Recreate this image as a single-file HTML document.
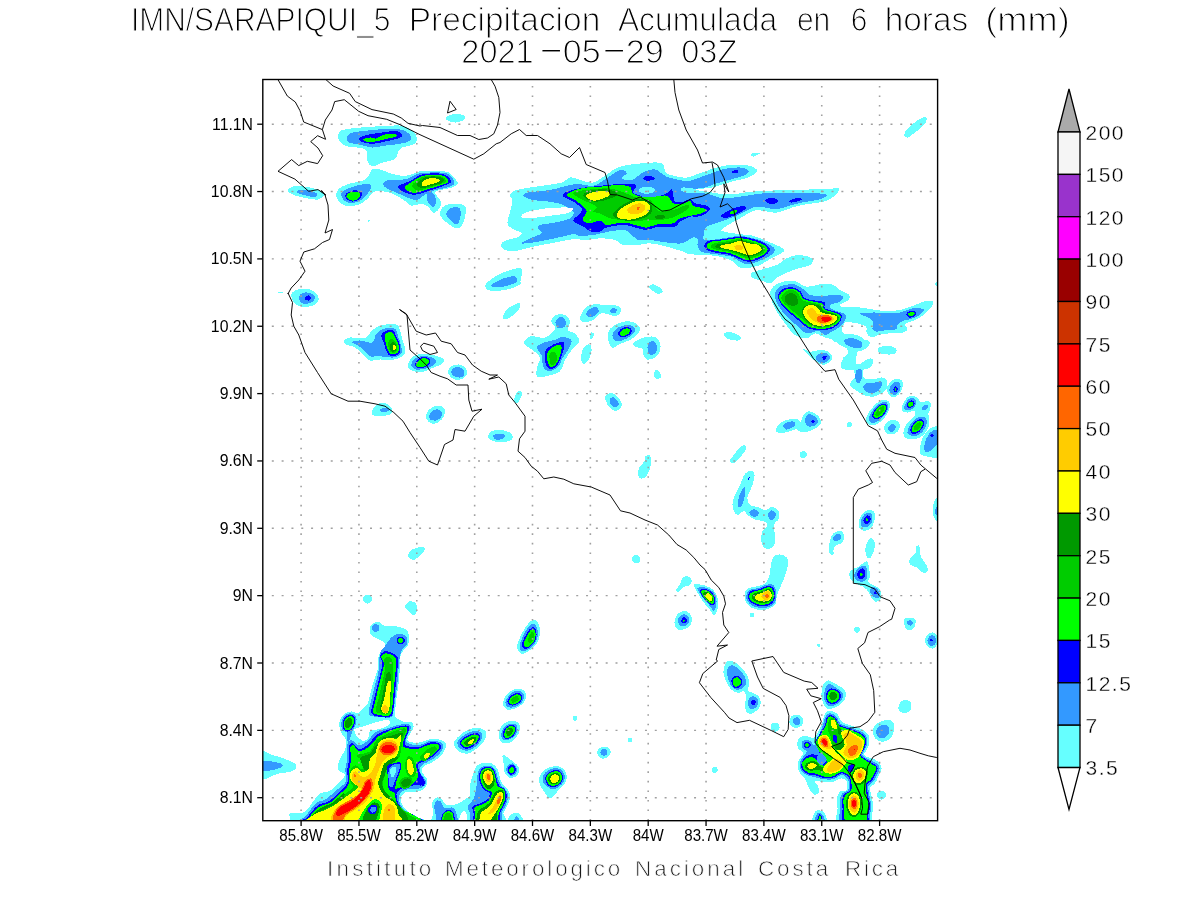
<!DOCTYPE html>
<html lang="es"><head><meta charset="utf-8"><title>IMN/SARAPIQUI_5 Precipitacion Acumulada en 6 horas (mm)</title>
<style>
html,body{margin:0;padding:0;background:#fff;}
body{width:1200px;height:900px;overflow:hidden;}
svg{display:block;}
text{font-family:"Liberation Sans",sans-serif;fill:#000;}
.ttl{font-size:33.6px;stroke:#fff;stroke-width:1.15px;}
.ax{font-size:15.8px;}
.cb{font-size:21px;stroke:#fff;stroke-width:.35px;letter-spacing:1.5px;}
.ft{font-size:22.4px;fill:#1a1a1a;stroke:#fff;stroke-width:.75px;}
</style></head><body>
<svg width="1200" height="900" viewBox="0 0 1200 900">
<rect width="1200" height="900" fill="#fff"/>
<defs><clipPath id="clip"><rect x="262.8" y="79.5" width="674.8" height="741.2"/></clipPath></defs>

<text class="ttl" y="30.7" xml:space="preserve"><tspan x="130.9" textLength="259.4" lengthAdjust="spacingAndGlyphs">IMN/SARAPIQUI_5</tspan> <tspan x="408.7" textLength="191.6" lengthAdjust="spacingAndGlyphs">Precipitacion</tspan> <tspan x="617.9" textLength="159.2" lengthAdjust="spacingAndGlyphs">Acumulada</tspan> <tspan x="796.9" textLength="33.4" lengthAdjust="spacingAndGlyphs">en</tspan> <tspan x="850.7" textLength="16.6" lengthAdjust="spacingAndGlyphs">6</tspan> <tspan x="884.7" textLength="83.6" lengthAdjust="spacingAndGlyphs">horas</tspan> <tspan x="985.3" textLength="84.4" lengthAdjust="spacingAndGlyphs">(mm)</tspan></text>
<text class="ttl" y="62.6" xml:space="preserve"><tspan x="461.3" textLength="72.4" lengthAdjust="spacingAndGlyphs">2021</tspan><tspan x="537.2" dy="-2.4" textLength="27.9" lengthAdjust="spacingAndGlyphs">-</tspan><tspan x="562.8" dy="2.4" textLength="37.9" lengthAdjust="spacingAndGlyphs">05</tspan><tspan x="600.2" dy="-2.4" textLength="27.9" lengthAdjust="spacingAndGlyphs">-</tspan><tspan x="625.7" dy="2.4" textLength="38.1" lengthAdjust="spacingAndGlyphs">29</tspan> <tspan x="681.3" textLength="56.0" lengthAdjust="spacingAndGlyphs">03Z</tspan></text>
<g clip-path="url(#clip)" shape-rendering="crispEdges">
<path d="M338.1,136.2C338.4,134.4 338.4,131.9 341.2,130.6C344.0,129.2 348.5,128.8 355.0,128.1C361.5,127.4 372.5,126.6 380.0,126.2C387.5,125.8 395.0,125.1 400.0,125.6C405.0,126.1 407.3,127.8 410.0,129.4C412.7,131.0 415.2,132.8 416.2,135.0C417.2,137.2 417.2,140.7 416.2,142.5C415.2,144.3 412.7,144.5 410.0,145.6C407.3,146.7 402.5,146.6 400.0,148.8C397.5,151.0 397.9,156.5 395.0,158.8C392.1,161.1 386.2,161.3 382.5,162.5C378.8,163.7 375.0,166.4 372.5,166.2C370.0,166.0 368.4,163.7 367.5,161.2C366.6,158.7 367.9,153.4 366.9,151.2C365.8,149.0 364.6,148.9 361.2,148.1C357.8,147.3 349.8,147.3 346.2,146.2C342.6,145.0 340.8,142.9 339.4,141.2C338.0,139.5 337.8,138.0 338.1,136.2Z" fill="#66ffff"/>
<path d="M336.2,195.0C336.2,192.9 336.7,190.7 338.8,188.8C340.9,186.9 345.1,185.1 348.8,183.8C352.5,182.5 358.1,182.2 361.2,181.2C364.3,180.1 365.6,179.5 367.5,177.5C369.4,175.5 370.4,170.8 372.5,169.4C374.6,168.1 377.1,168.8 380.0,169.4C382.9,170.0 386.7,172.1 390.0,173.1C393.3,174.1 396.7,175.3 400.0,175.6C403.3,175.9 406.7,175.7 410.0,175.0C413.3,174.3 416.2,171.9 420.0,171.2C423.8,170.5 427.9,170.9 432.5,171.0C437.1,171.1 443.8,170.6 447.5,171.9C451.2,173.2 453.3,176.8 455.0,178.8C456.7,180.8 458.3,182.2 457.5,183.8C456.7,185.4 453.6,186.9 450.0,188.1C446.4,189.3 438.5,190.0 436.2,191.2C433.9,192.3 435.5,193.3 436.2,195.0C436.9,196.7 440.0,199.1 440.6,201.2C441.2,203.3 441.1,205.6 440.0,207.5C438.9,209.4 435.7,212.8 433.8,212.8C431.9,212.8 430.7,209.0 428.8,207.5C426.9,206.0 425.4,204.1 422.5,203.8C419.6,203.5 414.3,206.2 411.2,205.6C408.1,205.0 406.9,202.0 403.8,200.0C400.7,198.0 396.1,195.3 392.5,193.8C388.9,192.3 385.6,191.5 382.5,191.2C379.4,190.9 376.5,190.4 373.8,191.9C371.1,193.4 368.9,197.8 366.2,200.0C363.5,202.2 360.8,204.0 357.5,205.0C354.2,206.0 349.3,206.8 346.2,206.2C343.1,205.6 340.5,203.1 338.8,201.2C337.1,199.3 336.2,197.1 336.2,195.0Z" fill="#66ffff"/>
<path d="M440.0,213.8C440.0,211.9 440.8,209.1 442.5,207.5C444.2,205.9 446.9,204.5 450.0,204.0C453.1,203.5 458.6,203.8 461.2,204.4C463.8,205.0 465.0,205.3 465.6,207.5C466.2,209.7 465.7,214.4 465.0,217.5C464.3,220.6 462.7,224.4 461.2,226.2C459.7,228.0 458.1,228.3 456.2,228.1C454.3,227.9 452.3,226.6 450.0,225.0C447.7,223.4 444.2,220.7 442.5,218.8C440.8,216.9 440.0,215.7 440.0,213.8Z" fill="#66ffff"/>
<path d="M367.2,220.8C367.4,220.5 368.6,220.0 369.0,220.0C369.4,220.0 370.0,220.7 369.8,221.0C369.6,221.3 368.4,221.8 368.0,221.8C367.6,221.8 367.0,221.1 367.2,220.8Z" fill="#66ffff"/>
<path d="M445.5,118.0C445.7,117.0 447.8,115.7 450.0,115.0C452.2,114.3 456.3,113.8 458.8,114.0C461.3,114.2 464.2,115.2 465.0,116.2C465.8,117.2 465.3,119.0 463.8,120.0C462.3,121.0 458.7,122.3 456.2,122.5C453.7,122.7 450.6,122.0 448.8,121.2C447.0,120.5 445.3,119.0 445.5,118.0Z" fill="#66ffff"/>
<path d="M288.0,190.5C288.0,189.0 290.6,186.8 293.8,186.2C297.1,185.6 303.1,186.3 307.5,187.0C311.9,187.7 317.3,189.2 320.0,190.5C322.7,191.8 324.2,193.5 323.8,195.0C323.4,196.5 320.6,199.0 317.5,199.5C314.4,200.0 308.9,198.8 305.0,198.0C301.1,197.2 296.6,196.2 293.8,195.0C291.0,193.8 288.0,192.0 288.0,190.5Z" fill="#66ffff"/>
<path d="M500.8,245.0C500.8,243.5 502.4,242.1 505.0,240.8C507.6,239.6 513.9,238.8 516.7,237.5C519.5,236.2 522.5,234.8 521.7,233.3C520.9,231.8 514.1,230.0 511.7,228.3C509.3,226.6 507.8,226.1 507.5,223.3C507.2,220.5 509.2,215.6 510.0,211.7C510.8,207.8 512.5,202.8 512.5,200.0C512.5,197.2 509.3,196.7 510.0,195.0C510.7,193.3 511.4,191.5 516.7,190.0C522.0,188.5 534.2,187.1 541.7,185.8C549.2,184.6 557.0,183.9 561.7,182.5C566.4,181.1 567.2,178.1 570.0,177.5C572.8,176.9 574.4,178.4 578.3,179.2C582.2,180.0 588.3,183.5 593.3,182.5C598.3,181.5 603.8,175.9 608.3,173.3C612.8,170.7 614.4,168.4 620.0,166.7C625.6,165.0 634.8,163.9 641.7,163.3C648.7,162.7 657.5,161.6 661.7,163.3C665.9,165.0 663.1,170.9 666.7,173.3C670.3,175.7 679.4,176.9 683.3,177.5C687.2,178.1 686.1,177.8 690.0,176.7C693.9,175.6 701.2,172.6 706.7,170.8C712.2,169.0 716.9,166.8 723.3,165.8C729.7,164.8 739.7,164.6 745.0,165.0C750.3,165.4 753.0,167.2 755.0,168.3C757.0,169.4 757.8,170.2 756.7,171.7C755.6,173.2 752.5,175.8 748.3,177.5C744.1,179.2 736.4,180.2 731.7,181.7C727.0,183.2 720.6,184.6 720.0,186.7C719.4,188.8 724.1,193.2 728.3,194.2C732.5,195.2 738.9,193.1 745.0,192.5C751.1,191.9 757.5,191.2 765.0,190.8C772.5,190.4 780.3,190.3 790.0,190.0C799.7,189.7 815.1,189.4 823.3,189.2C831.5,189.0 837.5,187.4 839.2,188.7C840.9,189.9 835.9,194.5 833.3,196.7C830.6,198.9 829.1,200.2 823.3,201.7C817.5,203.2 806.1,204.0 798.3,205.8C790.5,207.6 782.5,211.7 776.7,212.5C770.9,213.3 767.2,211.1 763.3,210.8C759.4,210.5 757.2,209.6 753.3,210.8C749.4,212.1 744.2,215.9 740.0,218.3C735.8,220.7 731.3,222.9 728.3,225.0C725.2,227.1 719.8,229.3 721.7,230.8C723.7,232.3 734.7,233.4 740.0,234.2C745.3,235.0 748.6,234.6 753.3,235.8C758.0,237.1 763.8,239.9 768.3,241.7C772.8,243.5 777.4,245.2 780.0,246.7C782.6,248.2 784.8,249.3 784.2,250.8C783.7,252.3 779.4,254.3 776.7,255.8C774.1,257.3 771.1,258.5 768.3,260.0C765.5,261.5 763.6,263.6 760.0,265.0C756.4,266.4 750.3,268.0 746.7,268.3C743.1,268.6 740.8,267.9 738.3,266.7C735.8,265.4 734.8,262.5 731.7,260.8C728.7,259.1 724.2,257.7 720.0,256.7C715.8,255.7 711.7,255.4 706.7,255.0C701.7,254.6 693.9,254.8 690.0,254.2C686.1,253.6 687.2,252.9 683.3,251.7C679.4,250.4 672.2,248.1 666.7,246.7C661.2,245.3 654.7,243.6 650.0,243.3C645.3,243.0 642.8,244.7 638.3,245.0C633.8,245.3 627.2,245.8 623.3,245.0C619.4,244.2 618.9,241.1 615.0,240.0C611.1,238.9 604.7,238.3 600.0,238.3C595.3,238.3 591.2,239.8 586.7,240.0C582.2,240.2 578.6,238.8 573.3,239.2C568.0,239.6 561.7,241.2 555.0,242.5C548.3,243.8 539.7,245.3 533.3,246.7C526.9,248.1 521.4,250.2 516.7,250.8C512.0,251.4 507.6,251.0 505.0,250.0C502.4,249.0 500.8,246.5 500.8,245.0Z" fill="#66ffff"/>
<path d="M750.8,154.2C751.0,153.5 752.7,153.0 754.2,152.8C755.7,152.6 759.6,152.4 760.0,152.8C760.4,153.2 757.9,154.7 756.7,155.3C755.5,156.0 754.0,156.9 753.0,156.7C752.0,156.5 750.6,154.8 750.8,154.2Z" fill="#66ffff"/>
<path d="M750.8,273.3C751.9,271.9 755.7,271.4 760.0,270.0C764.3,268.6 772.2,266.9 776.7,265.0C781.2,263.1 783.1,260.0 786.7,258.3C790.3,256.6 794.1,255.0 798.3,255.0C802.5,255.0 809.8,256.6 811.7,258.3C813.7,260.0 813.1,263.1 810.0,265.0C806.9,266.9 798.6,268.1 793.3,270.0C788.0,271.9 782.2,274.5 778.3,276.7C774.4,278.9 773.0,282.8 770.0,283.3C767.0,283.9 762.8,280.8 760.0,280.0C757.2,279.2 754.8,279.4 753.3,278.3C751.8,277.2 749.7,274.7 750.8,273.3Z" fill="#66ffff"/>
<path d="M770.8,290.0C771.9,287.2 774.5,284.8 778.3,283.3C782.0,281.8 788.6,280.2 793.3,280.8C798.0,281.4 802.2,286.1 806.7,286.7C811.2,287.3 815.8,284.6 820.0,284.2C824.2,283.8 828.4,283.2 831.7,284.2C835.0,285.2 837.1,288.2 840.0,290.0C842.9,291.8 847.8,293.3 849.2,295.0C850.6,296.7 849.8,298.3 848.3,300.0C846.8,301.7 840.3,303.3 840.0,305.0C839.7,306.7 846.2,308.6 846.7,310.0C847.2,311.4 843.4,311.9 843.3,313.3C843.1,314.7 845.9,316.1 845.8,318.3C845.7,320.5 844.6,323.9 842.5,326.7C840.4,329.5 836.5,333.3 833.3,335.0C830.1,336.7 826.3,337.0 823.3,336.7C820.2,336.4 817.8,333.0 815.0,333.3C812.2,333.6 810.0,338.0 806.7,338.3C803.4,338.6 798.6,337.5 795.0,335.0C791.4,332.5 788.2,327.5 785.0,323.3C781.8,319.1 778.0,313.9 775.8,310.0C773.6,306.1 772.5,303.3 771.7,300.0C770.9,296.7 769.7,292.8 770.8,290.0Z" fill="#66ffff"/>
<path d="M840.0,308.3C843.0,306.2 853.0,307.1 860.0,307.5C867.0,307.9 875.0,310.4 881.7,310.8C888.4,311.2 894.5,311.0 900.0,310.0C905.5,309.0 911.1,306.4 915.0,305.0C918.9,303.6 920.4,302.4 923.3,301.7C926.2,301.0 931.1,300.0 932.5,300.8C933.9,301.6 933.2,304.3 931.7,306.7C930.2,309.1 926.1,312.8 923.3,315.0C920.5,317.2 918.0,318.5 915.0,320.0C912.0,321.5 906.2,322.7 905.0,324.2C903.8,325.7 907.8,327.8 907.5,329.2C907.2,330.6 906.2,331.8 903.3,332.5C900.4,333.2 894.2,332.9 890.0,333.3C885.8,333.7 881.3,334.3 878.3,335.0C875.2,335.7 873.6,337.8 871.7,337.5C869.8,337.2 867.7,335.1 866.7,333.3C865.7,331.5 867.5,328.4 865.8,326.7C864.1,325.0 859.9,324.1 856.7,323.3C853.5,322.5 849.2,322.2 846.7,321.7C844.2,321.1 842.8,322.2 841.7,320.0C840.6,317.8 837.0,310.4 840.0,308.3Z" fill="#66ffff"/>
<path d="M823.3,336.7C823.3,335.9 830.2,336.7 833.3,335.0C836.4,333.3 840.0,327.0 841.7,326.7C843.4,326.4 840.8,331.9 843.3,333.3C845.8,334.7 853.1,333.9 856.7,335.0C860.3,336.1 863.2,338.3 865.0,340.0C866.8,341.7 867.8,343.3 867.5,345.0C867.2,346.7 865.4,348.9 863.3,350.0C861.2,351.1 856.1,350.3 855.0,351.7C853.9,353.1 855.6,356.4 856.7,358.3C857.8,360.2 859.5,363.3 861.7,363.3C863.9,363.3 868.1,358.6 870.0,358.3C871.9,358.0 873.8,359.9 873.3,361.7C872.8,363.5 871.7,367.9 866.7,369.2C861.7,370.4 847.5,370.4 843.3,369.2C839.1,367.9 841.1,364.1 841.7,361.7C842.3,359.3 845.0,356.7 846.7,355.0C848.4,353.3 851.7,352.8 851.7,351.7C851.7,350.6 848.7,349.4 846.7,348.3C844.8,347.2 842.2,346.4 840.0,345.0C837.8,343.6 836.1,341.4 833.3,340.0C830.5,338.6 823.3,337.5 823.3,336.7Z" fill="#66ffff"/>
<path d="M877.5,349.2C878.2,348.1 880.7,346.2 883.3,345.8C885.9,345.4 891.1,345.9 893.3,346.7C895.5,347.5 896.7,349.6 896.7,350.8C896.7,352.1 895.5,353.6 893.3,354.2C891.1,354.8 885.6,354.5 883.3,354.2C880.9,353.9 880.2,353.3 879.2,352.5C878.2,351.7 876.8,350.3 877.5,349.2Z" fill="#66ffff"/>
<path d="M802.5,348.3C803.0,348.0 807.1,351.4 810.0,351.7C812.9,352.0 817.0,350.0 820.0,350.0C823.0,350.0 826.2,350.6 828.3,351.7C830.4,352.8 832.2,355.0 832.5,356.7C832.8,358.4 831.5,360.3 830.0,361.7C828.5,363.1 825.5,365.0 823.3,365.0C821.1,365.0 818.6,362.8 816.7,361.7C814.8,360.6 813.4,359.7 811.7,358.3C810.0,356.9 808.2,355.0 806.7,353.3C805.2,351.6 802.0,348.6 802.5,348.3Z" fill="#66ffff"/>
<path d="M935.3,283.0C935.6,282.4 937.1,281.4 937.5,282.0C937.9,282.6 937.8,285.7 937.5,286.3C937.2,286.9 936.2,286.4 935.8,285.8C935.4,285.2 935.0,283.6 935.3,283.0Z" fill="#66ffff"/>
<path d="M904.2,134.2C904.3,132.7 906.2,130.5 908.3,128.3C910.4,126.1 914.1,122.7 916.7,120.8C919.4,118.9 922.5,117.5 924.2,117.2C925.9,116.9 927.1,117.8 927.0,119.2C926.9,120.6 925.3,123.6 923.3,125.8C921.3,128.0 917.6,130.6 915.0,132.5C912.4,134.4 909.3,137.2 907.5,137.5C905.7,137.8 904.1,135.7 904.2,134.2Z" fill="#66ffff"/>
<path d="M291.2,295.0C291.4,292.7 293.5,291.0 296.2,290.0C298.9,289.0 304.3,288.4 307.5,288.8C310.7,289.2 313.6,290.8 315.5,292.5C317.4,294.2 318.9,296.8 318.8,298.8C318.7,300.8 317.5,303.1 315.0,304.5C312.5,305.9 307.1,307.1 303.8,307.0C300.5,306.9 297.1,305.8 295.0,303.8C292.9,301.8 291.0,297.3 291.2,295.0Z" fill="#66ffff"/>
<path d="M278.0,291.8C278.8,291.6 282.2,291.6 283.0,291.8C283.8,292.0 283.8,292.6 283.0,292.8C282.2,293.0 278.8,293.0 278.0,292.8C277.2,292.6 277.2,292.0 278.0,291.8Z" fill="#66ffff"/>
<path d="M343.8,341.2C344.4,340.0 346.5,338.0 350.0,337.5C353.5,337.0 361.2,339.2 365.0,338.0C368.8,336.8 369.6,332.2 372.5,330.0C375.4,327.8 378.6,325.9 382.5,325.0C386.4,324.1 393.3,323.7 396.2,324.5C399.1,325.3 398.9,327.4 400.0,330.0C401.1,332.6 401.6,336.7 402.5,340.0C403.4,343.3 405.5,347.3 405.5,350.0C405.5,352.7 404.7,354.5 402.5,356.2C400.3,357.9 396.2,359.4 392.5,360.0C388.8,360.6 383.8,359.4 380.0,359.5C376.2,359.6 372.7,361.2 370.0,360.5C367.3,359.8 366.3,357.2 363.8,355.0C361.3,352.8 357.9,349.2 355.0,347.5C352.1,345.8 348.1,345.6 346.2,344.5C344.3,343.4 343.2,342.4 343.8,341.2Z" fill="#66ffff"/>
<path d="M408.0,365.0C408.3,363.2 409.2,359.9 411.2,358.0C413.2,356.1 416.9,354.4 420.0,353.8C423.1,353.2 426.7,354.0 430.0,354.5C433.3,355.0 437.6,356.0 440.0,357.0C442.4,358.0 444.5,359.2 444.5,360.5C444.5,361.8 442.4,363.6 440.0,365.0C437.6,366.4 432.9,367.6 430.0,368.8C427.1,370.0 425.2,371.6 422.5,372.0C419.8,372.4 416.0,371.7 413.8,371.2C411.6,370.7 410.5,369.8 409.5,368.8C408.5,367.8 407.7,366.8 408.0,365.0Z" fill="#66ffff"/>
<path d="M448.0,371.2C448.2,369.5 449.4,367.3 451.2,366.2C453.0,365.1 456.5,364.3 458.8,364.5C461.1,364.7 463.6,365.9 465.0,367.5C466.4,369.1 467.4,371.9 467.0,373.8C466.6,375.7 464.5,377.9 462.5,378.8C460.5,379.8 457.1,379.9 455.0,379.5C452.9,379.1 451.2,377.6 450.0,376.2C448.8,374.8 447.8,372.9 448.0,371.2Z" fill="#66ffff"/>
<path d="M371.8,412.5C372.0,410.9 373.2,407.9 375.0,406.2C376.8,404.5 380.2,402.7 382.5,402.5C384.8,402.3 387.1,403.6 388.8,405.0C390.5,406.4 392.5,409.5 392.5,411.2C392.5,412.9 390.9,414.2 388.8,415.0C386.7,415.8 382.5,416.1 380.0,416.2C377.5,416.3 375.2,416.1 373.8,415.5C372.4,414.9 371.6,414.1 371.8,412.5Z" fill="#66ffff"/>
<path d="M426.0,416.2C426.1,414.3 427.1,411.7 428.8,410.0C430.5,408.3 433.8,406.3 436.2,405.8C438.6,405.3 441.5,405.9 443.0,407.0C444.5,408.1 445.3,410.3 445.0,412.5C444.7,414.7 443.1,418.1 441.2,420.0C439.3,421.9 436.0,423.6 433.8,423.8C431.6,424.0 429.3,422.5 428.0,421.2C426.7,419.9 425.9,418.1 426.0,416.2Z" fill="#66ffff"/>
<path d="M488.0,436.2C488.1,434.7 489.2,432.2 491.2,431.2C493.2,430.2 497.1,429.9 500.0,430.0C502.9,430.1 506.6,430.8 508.8,432.0C511.0,433.2 513.0,435.5 513.0,437.0C513.0,438.5 511.4,440.4 508.8,441.2C506.2,442.0 500.6,442.2 497.5,442.0C494.4,441.8 492.1,441.0 490.5,440.0C488.9,439.0 487.9,437.7 488.0,436.2Z" fill="#66ffff"/>
<path d="M513.8,401.2C513.7,399.7 515.2,395.5 516.2,393.8C517.2,392.1 519.0,390.8 520.0,390.8C521.0,390.8 522.0,392.4 522.0,393.8C522.0,395.2 520.8,398.0 520.0,399.5C519.2,401.0 518.0,402.7 517.0,403.0C516.0,403.3 513.9,402.7 513.8,401.2Z" fill="#66ffff"/>
<path d="M503.0,316.2C503.4,314.7 504.4,311.9 506.2,310.0C508.0,308.1 511.6,306.2 513.8,305.0C516.0,303.8 518.5,302.6 519.5,303.0C520.5,303.4 520.8,305.7 520.0,307.5C519.2,309.3 517.1,311.9 515.0,313.8C512.9,315.7 509.4,318.0 507.5,318.8C505.6,319.6 504.6,319.2 503.8,318.8C503.1,318.4 502.6,317.7 503.0,316.2Z" fill="#66ffff"/>
<path d="M486.2,283.8C488.3,281.2 494.6,276.4 500.0,273.8C505.4,271.2 515.1,268.2 518.8,268.0C522.5,267.8 521.7,270.3 522.0,272.5C522.3,274.7 520.8,279.2 520.5,281.2C520.2,283.2 521.8,283.2 520.0,284.5C518.2,285.8 514.2,287.7 510.0,288.8C505.8,289.9 498.8,291.1 495.0,291.2C491.2,291.3 489.0,290.7 487.5,289.5C486.0,288.3 484.1,286.4 486.2,283.8Z" fill="#66ffff"/>
<path d="M523.8,343.0C523.6,340.7 527.9,337.0 531.2,336.2C534.5,335.4 540.2,338.6 543.8,338.0C547.3,337.4 550.6,334.2 552.5,332.5C554.4,330.8 555.2,329.4 555.0,327.5C554.8,325.6 551.0,323.3 551.2,321.2C551.4,319.1 553.9,316.0 556.2,315.0C558.5,314.0 562.7,314.0 565.0,315.0C567.3,316.0 569.5,318.7 570.0,321.2C570.5,323.7 567.2,327.9 568.0,330.0C568.8,332.1 573.1,331.9 575.0,333.8C576.9,335.7 579.9,338.7 579.5,341.2C579.1,343.7 574.9,345.7 572.5,348.8C570.1,351.9 567.1,356.3 565.0,360.0C562.9,363.7 562.7,368.6 560.0,371.2C557.3,373.8 552.5,374.5 548.8,375.5C545.0,376.5 539.5,378.3 537.5,377.0C535.5,375.7 536.6,370.8 537.0,367.5C537.4,364.2 540.8,360.4 540.0,357.5C539.2,354.6 535.2,352.4 532.5,350.0C529.8,347.6 524.0,345.3 523.8,343.0Z" fill="#66ffff"/>
<path d="M580.0,317.5C580.4,315.6 582.1,312.1 583.8,310.0C585.5,307.9 587.3,305.9 590.0,305.0C592.7,304.1 596.2,304.5 600.0,304.5C603.8,304.5 609.2,304.6 612.5,305.0C615.8,305.4 618.7,305.8 620.0,307.0C621.3,308.2 621.3,311.0 620.5,312.5C619.7,314.0 617.2,316.0 615.0,316.2C612.8,316.4 610.0,314.2 607.5,313.8C605.0,313.4 602.1,313.0 600.0,313.8C597.9,314.6 597.1,317.4 595.0,318.8C592.9,320.2 589.8,321.6 587.5,322.0C585.2,322.4 582.5,321.9 581.2,321.2C580.0,320.4 579.6,319.4 580.0,317.5Z" fill="#66ffff"/>
<path d="M608.0,336.2C608.2,333.9 608.4,330.9 610.0,328.8C611.6,326.7 614.8,325.1 617.5,323.8C620.2,322.5 623.3,321.3 626.2,321.2C629.1,321.1 632.6,321.7 635.0,323.0C637.4,324.3 640.3,326.8 640.5,328.8C640.7,330.8 638.0,333.1 636.2,335.0C634.5,336.9 632.7,338.5 630.0,340.0C627.3,341.5 622.9,342.5 620.0,343.8C617.1,345.1 614.4,348.2 612.5,348.0C610.6,347.8 609.5,344.5 608.8,342.5C608.0,340.5 607.8,338.5 608.0,336.2Z" fill="#66ffff"/>
<path d="M633.0,343.8C633.2,342.6 635.3,341.1 637.5,340.0C639.7,338.9 643.3,337.5 646.2,337.0C649.1,336.5 652.7,336.1 655.0,337.0C657.3,337.9 659.2,340.1 660.0,342.5C660.8,344.9 660.8,348.7 660.0,351.2C659.2,353.7 657.1,356.1 655.0,357.5C652.9,358.9 649.5,360.1 647.5,359.5C645.5,358.9 643.8,355.6 643.0,353.8C642.2,352.0 643.6,349.9 642.5,348.8C641.4,347.7 637.8,347.8 636.2,347.0C634.6,346.2 632.8,345.0 633.0,343.8Z" fill="#66ffff"/>
<path d="M581.2,360.0C581.0,357.7 581.5,352.6 582.5,350.0C583.5,347.4 586.0,345.1 587.5,344.5C589.0,343.9 590.6,344.6 591.2,346.2C591.8,347.8 591.8,351.3 591.2,353.8C590.6,356.3 588.7,359.5 587.5,361.2C586.3,362.9 584.8,364.0 583.8,363.8C582.8,363.6 581.4,362.3 581.2,360.0Z" fill="#66ffff"/>
<path d="M589.5,336.2C589.6,335.1 590.5,332.9 591.2,332.5C591.9,332.1 593.5,332.9 593.8,333.8C594.1,334.7 593.5,337.1 593.0,338.0C592.5,338.9 591.1,339.3 590.5,339.0C589.9,338.7 589.4,337.3 589.5,336.2Z" fill="#66ffff"/>
<path d="M653.8,375.0C653.8,373.8 654.2,371.1 655.0,370.5C655.8,369.9 657.8,370.2 658.8,371.2C659.8,372.1 661.2,374.9 661.2,376.2C661.2,377.5 659.8,378.5 658.8,378.8C657.8,379.1 655.8,378.6 655.0,378.0C654.2,377.4 653.8,376.2 653.8,375.0Z" fill="#66ffff"/>
<path d="M648.8,286.2C649.0,285.2 651.7,284.1 653.8,284.5C655.9,284.9 659.8,287.5 661.2,288.8C662.7,290.1 663.1,291.7 662.5,292.5C661.9,293.3 659.2,294.1 657.5,293.8C655.8,293.5 654.0,291.8 652.5,290.5C651.0,289.2 648.6,287.2 648.8,286.2Z" fill="#66ffff"/>
<path d="M723.8,333.8C724.4,333.0 726.5,331.9 728.8,332.0C731.1,332.1 735.4,333.5 737.5,334.5C739.6,335.5 741.2,337.0 741.2,338.0C741.2,339.0 739.4,340.2 737.5,340.5C735.6,340.8 732.1,340.1 730.0,339.5C727.9,338.9 726.0,337.9 725.0,337.0C724.0,336.1 723.2,334.6 723.8,333.8Z" fill="#66ffff"/>
<path d="M605.0,397.5C605.0,395.7 606.0,394.4 607.5,393.8C609.0,393.2 611.8,393.0 613.8,393.8C615.8,394.6 618.1,396.9 619.5,398.8C620.9,400.7 622.1,403.1 622.0,405.0C621.9,406.9 620.4,409.2 618.8,410.0C617.2,410.8 614.4,410.9 612.5,410.0C610.6,409.1 608.8,406.6 607.5,404.5C606.2,402.4 605.0,399.3 605.0,397.5Z" fill="#66ffff"/>
<path d="M638.0,475.0C637.7,473.1 638.4,469.8 639.5,467.5C640.6,465.2 643.5,463.1 644.5,461.2C645.5,459.3 644.7,457.1 645.5,456.2C646.3,455.2 648.5,454.9 649.5,455.5C650.5,456.1 651.2,457.6 651.2,460.0C651.2,462.4 650.3,467.3 649.5,470.0C648.7,472.7 647.6,474.7 646.2,476.2C644.8,477.7 642.6,479.0 641.2,478.8C639.8,478.6 638.3,476.9 638.0,475.0Z" fill="#66ffff"/>
<path d="M730.0,460.0C730.4,458.8 732.1,457.1 733.8,455.0C735.5,452.9 738.1,449.2 740.0,447.5C741.9,445.8 744.1,444.6 745.0,445.0C745.9,445.4 746.3,447.9 745.5,450.0C744.7,452.1 741.8,455.4 740.0,457.5C738.2,459.6 736.5,461.7 735.0,462.5C733.5,463.3 732.0,462.9 731.2,462.5C730.4,462.1 729.6,461.2 730.0,460.0Z" fill="#66ffff"/>
<path d="M776.2,430.0C776.6,428.8 778.3,426.6 780.0,425.0C781.7,423.4 784.1,421.5 786.2,420.5C788.3,419.5 790.4,418.9 792.5,418.8C794.6,418.7 797.5,419.0 798.8,420.0C800.0,421.0 800.8,423.3 800.0,425.0C799.2,426.7 796.7,428.7 793.8,430.0C790.9,431.3 785.2,432.6 782.5,433.0C779.8,433.4 778.5,433.0 777.5,432.5C776.5,432.0 775.8,431.2 776.2,430.0Z" fill="#66ffff"/>
<path d="M834.2,340.0C838.9,339.4 861.0,338.9 866.7,340.0C872.4,341.1 868.9,345.0 868.3,346.7C867.7,348.4 865.2,349.0 863.3,350.0C861.4,351.0 857.2,351.2 856.7,352.5C856.2,353.8 858.1,356.5 860.0,357.5C861.9,358.5 866.2,357.9 868.3,358.3C870.4,358.7 872.2,358.9 872.5,360.0C872.8,361.1 871.5,363.6 870.0,365.0C868.5,366.4 864.3,366.1 863.3,368.3C862.3,370.5 862.5,376.5 864.2,378.3C865.9,380.1 870.4,379.3 873.3,379.2C876.2,379.1 879.5,377.4 881.7,377.5C883.9,377.6 885.9,378.2 886.7,380.0C887.5,381.8 887.5,386.1 886.7,388.3C885.9,390.5 883.9,391.9 881.7,393.3C879.5,394.7 876.4,396.4 873.3,396.7C870.2,397.0 866.1,396.0 863.3,395.0C860.5,394.0 858.8,392.2 856.7,390.8C854.6,389.4 851.8,388.2 850.8,386.7C849.8,385.2 850.1,383.4 850.8,381.7C851.5,380.0 854.6,378.6 855.0,376.7C855.4,374.8 854.7,371.5 853.3,370.0C851.9,368.5 848.5,368.6 846.7,367.5C844.9,366.4 843.1,365.0 842.5,363.3C841.9,361.6 842.3,359.0 843.3,357.5C844.3,356.0 847.7,355.7 848.3,354.2C848.9,352.7 848.4,350.1 846.7,348.3C845.0,346.5 840.4,344.7 838.3,343.3C836.2,341.9 829.5,340.6 834.2,340.0Z" fill="#66ffff"/>
<path d="M886.7,390.0C886.6,387.9 887.8,385.1 889.2,383.3C890.6,381.5 893.1,379.8 895.0,379.2C896.9,378.6 899.5,378.9 900.8,379.7C902.1,380.5 903.0,382.2 903.0,384.2C903.0,386.2 902.0,389.6 900.8,391.7C899.6,393.8 897.6,396.0 895.8,396.7C894.0,397.4 891.5,396.9 890.0,395.8C888.5,394.7 886.8,392.1 886.7,390.0Z" fill="#66ffff"/>
<path d="M865.8,420.0C865.5,418.1 867.0,415.5 868.3,413.3C869.5,411.1 871.3,408.8 873.3,406.7C875.2,404.6 877.8,401.9 880.0,400.8C882.2,399.7 885.0,399.4 886.7,400.0C888.4,400.6 889.7,402.2 890.0,404.2C890.3,406.1 889.4,409.2 888.3,411.7C887.2,414.2 885.2,417.1 883.3,419.2C881.4,421.3 878.9,423.2 876.7,424.2C874.5,425.2 871.8,425.7 870.0,425.0C868.2,424.3 866.1,421.9 865.8,420.0Z" fill="#66ffff"/>
<path d="M901.7,408.3C901.9,406.6 903.1,403.6 904.2,401.7C905.3,399.8 906.6,397.7 908.3,396.7C910.0,395.7 912.5,395.4 914.2,395.8C915.9,396.2 917.0,398.1 918.3,399.2C919.5,400.3 920.2,402.2 921.7,402.5C923.2,402.8 926.0,400.7 927.5,400.8C929.0,400.9 930.4,401.9 930.8,403.3C931.2,404.7 930.4,407.4 930.0,409.2C929.6,411.0 928.4,412.8 928.3,414.2C928.2,415.6 929.1,415.7 929.2,417.5C929.4,419.3 929.9,422.4 929.2,425.0C928.5,427.6 926.8,431.1 925.0,433.3C923.2,435.5 920.8,437.3 918.3,438.3C915.8,439.3 912.2,439.3 910.0,439.2C907.8,439.1 906.1,438.5 905.0,437.5C903.9,436.5 903.3,435.1 903.3,433.3C903.3,431.5 903.9,428.9 905.0,426.7C906.1,424.5 908.3,421.9 910.0,420.0C911.7,418.1 914.3,416.5 915.0,415.0C915.7,413.5 915.3,411.2 914.2,410.8C913.1,410.4 910.1,412.4 908.3,412.5C906.5,412.6 904.4,412.4 903.3,411.7C902.2,411.0 901.6,410.0 901.7,408.3Z" fill="#66ffff"/>
<path d="M884.2,429.2C883.9,427.5 884.7,424.8 885.8,423.3C886.9,421.8 889.0,420.4 890.8,420.0C892.6,419.6 895.2,420.0 896.7,420.8C898.2,421.6 899.7,423.3 900.0,425.0C900.3,426.7 899.4,429.3 898.3,430.8C897.2,432.3 895.1,433.7 893.3,434.2C891.5,434.7 889.0,434.5 887.5,433.7C886.0,432.9 884.5,430.9 884.2,429.2Z" fill="#66ffff"/>
<path d="M919.7,451.7C919.6,449.8 920.0,446.1 920.8,443.3C921.5,440.5 922.8,437.4 924.2,435.0C925.6,432.6 927.4,430.6 929.2,429.2C931.0,427.8 933.2,427.0 935.0,426.7C936.8,426.4 939.2,422.6 940.0,427.5C940.8,432.4 942.0,450.9 940.0,455.8C938.0,460.7 931.3,456.8 928.3,456.7C925.2,456.6 923.1,455.8 921.7,455.0C920.3,454.2 919.9,453.6 919.7,451.7Z" fill="#66ffff"/>
<path d="M775.8,429.2C776.2,427.9 777.7,425.7 779.2,424.2C780.7,422.7 782.9,421.1 785.0,420.3C787.1,419.6 789.9,419.3 791.7,419.7C793.5,420.1 794.3,422.2 795.8,422.5C797.3,422.8 799.5,422.9 800.8,421.7C802.0,420.4 802.0,416.7 803.3,415.0C804.5,413.3 806.3,411.6 808.3,411.3C810.2,411.0 813.0,412.1 815.0,413.3C817.0,414.5 819.0,416.6 820.0,418.3C821.0,420.0 821.3,421.8 820.8,423.3C820.2,424.8 818.5,426.2 816.7,427.5C814.9,428.8 812.2,430.0 810.0,430.8C807.8,431.6 805.2,432.5 803.3,432.5C801.3,432.5 799.7,431.6 798.3,430.8C796.9,430.0 796.7,427.5 795.0,427.5C793.3,427.5 790.7,429.9 788.3,430.8C785.9,431.7 782.7,432.8 780.8,433.0C778.9,433.2 777.5,432.6 776.7,432.0C775.9,431.4 775.4,430.5 775.8,429.2Z" fill="#66ffff"/>
<path d="M846.7,424.7C846.7,423.9 847.3,422.8 848.0,422.3C848.7,421.9 850.1,421.7 850.8,422.0C851.5,422.3 852.3,423.5 852.3,424.3C852.3,425.1 851.7,426.5 851.0,427.0C850.3,427.5 848.7,427.7 848.0,427.3C847.3,426.9 846.7,425.5 846.7,424.7Z" fill="#66ffff"/>
<path d="M800.0,454.7C799.9,453.7 800.5,452.6 801.3,452.0C802.1,451.4 804.0,450.9 805.0,451.3C806.0,451.7 807.0,453.2 807.0,454.2C807.0,455.2 806.2,456.9 805.3,457.5C804.4,458.1 802.6,458.5 801.7,458.0C800.8,457.5 800.1,455.7 800.0,454.7Z" fill="#66ffff"/>
<path d="M408.0,555.5C408.2,554.0 409.0,551.4 411.2,550.0C413.4,548.6 418.9,547.2 421.2,547.0C423.5,546.8 425.0,547.5 425.0,548.8C425.0,550.0 422.9,552.7 421.2,554.5C419.5,556.3 416.9,558.8 415.0,559.5C413.1,560.2 411.2,559.5 410.0,558.8C408.8,558.1 407.8,557.0 408.0,555.5Z" fill="#66ffff"/>
<path d="M372.0,599.0C372.0,600.1 371.4,601.5 370.7,602.2C369.9,603.0 368.6,603.5 367.5,603.5C366.4,603.5 365.1,603.0 364.3,602.2C363.6,601.5 363.0,600.1 363.0,599.0C363.0,597.9 363.6,596.5 364.3,595.8C365.1,595.0 366.4,594.5 367.5,594.5C368.6,594.5 369.9,595.0 370.7,595.8C371.4,596.5 372.0,597.9 372.0,599.0Z" fill="#66ffff"/>
<path d="M405.0,606.2C405.1,604.3 408.1,601.6 410.0,601.2C411.9,600.8 415.0,602.1 416.2,603.8C417.4,605.5 417.4,609.2 417.0,611.2C416.6,613.2 415.1,615.3 413.8,615.5C412.6,615.7 411.0,614.0 409.5,612.5C408.0,611.0 404.9,608.1 405.0,606.2Z" fill="#66ffff"/>
<path d="M517.0,647.5C516.7,644.8 518.5,641.0 520.0,637.5C521.5,634.0 524.1,629.1 526.2,626.2C528.3,623.3 530.5,620.6 532.5,620.0C534.5,619.4 536.8,620.4 538.0,622.5C539.2,624.6 540.1,629.2 540.0,632.5C539.9,635.8 539.2,639.6 537.5,642.5C535.8,645.4 532.6,648.1 530.0,650.0C527.4,651.9 524.2,654.2 522.0,653.8C519.8,653.4 517.3,650.2 517.0,647.5Z" fill="#66ffff"/>
<path d="M503.0,703.8C502.8,701.4 504.4,697.4 506.2,695.0C508.0,692.6 511.1,690.4 513.8,689.5C516.5,688.6 520.4,688.6 522.5,689.5C524.6,690.4 526.0,692.8 526.2,695.0C526.4,697.2 525.5,700.3 523.8,702.5C522.1,704.7 518.9,706.8 516.2,708.0C513.5,709.2 509.7,710.2 507.5,709.5C505.3,708.8 503.2,706.2 503.0,703.8Z" fill="#66ffff"/>
<path d="M290.0,820.0C290.0,818.4 288.7,814.4 290.0,813.3C291.3,812.2 295.3,813.7 298.0,813.3C300.7,812.9 303.1,813.1 306.0,810.7C308.9,808.3 312.9,801.6 315.3,798.7C317.8,795.8 318.2,794.6 320.7,793.3C323.1,792.0 326.9,792.5 330.0,790.7C333.1,788.9 336.9,785.4 339.3,782.7C341.8,780.0 344.9,776.9 344.7,774.7C344.5,772.5 338.8,772.0 338.0,769.3C337.2,766.6 338.9,761.8 340.0,758.7C341.1,755.6 343.7,753.8 344.7,750.7C345.7,747.6 346.7,743.1 346.0,740.0C345.3,736.9 341.8,734.9 340.7,732.0C339.6,729.1 338.9,725.6 339.3,722.7C339.7,719.8 341.3,716.6 343.3,714.7C345.3,712.8 348.9,711.5 351.3,711.3C353.8,711.1 356.2,713.6 358.0,713.3C359.8,713.0 360.4,710.8 362.0,709.3C363.6,707.8 366.2,705.5 367.3,704.0C368.4,702.5 367.9,703.2 368.8,700.0C369.7,696.8 371.1,690.0 372.5,685.0C373.9,680.0 376.4,675.0 377.5,670.0C378.6,665.0 377.6,659.0 378.8,655.0C380.1,651.0 384.4,648.5 385.0,646.2C385.6,643.9 384.6,642.9 382.5,641.2C380.4,639.5 374.7,638.1 372.5,636.2C370.3,634.3 369.5,632.1 369.5,630.0C369.5,627.9 370.9,625.1 372.5,623.8C374.1,622.5 376.7,621.6 378.8,622.0C380.9,622.4 382.3,625.5 385.0,626.2C387.7,626.9 391.7,625.8 395.0,626.2C398.3,626.6 402.7,627.3 405.0,628.8C407.3,630.3 408.3,632.3 408.8,635.0C409.3,637.7 409.3,641.9 408.0,645.0C406.7,648.1 402.5,650.5 401.2,653.8C399.9,657.1 400.4,660.2 400.0,665.0C399.6,669.8 399.4,676.7 398.8,682.5C398.2,688.3 396.8,694.6 396.2,700.0C395.6,705.4 395.0,712.1 395.0,715.0C395.0,717.9 394.8,716.2 396.0,717.3C397.2,718.3 399.4,720.5 402.0,721.3C404.6,722.1 409.4,720.9 411.3,722.0C413.2,723.1 414.0,725.0 413.3,728.0C412.6,731.0 406.5,737.5 407.3,740.0C408.1,742.5 414.2,742.8 418.0,742.7C421.8,742.6 426.2,739.8 430.0,739.3C433.8,738.8 438.0,739.0 440.7,740.0C443.4,741.0 446.0,742.6 446.0,745.3C446.0,748.0 443.1,753.1 440.7,756.0C438.2,758.9 434.2,760.9 431.3,762.7C428.4,764.5 424.9,765.2 423.3,766.7C421.8,768.2 421.3,769.8 422.0,772.0C422.7,774.2 426.9,777.3 427.3,780.0C427.8,782.7 426.5,786.0 424.7,788.0C422.9,790.0 419.8,791.3 416.7,792.0C413.6,792.7 408.7,790.9 406.0,792.0C403.3,793.1 401.1,796.2 400.7,798.7C400.2,801.2 401.8,804.3 403.3,806.7C404.9,809.1 407.6,811.5 410.0,813.3C412.4,815.1 416.7,815.7 418.0,817.3C419.3,818.9 439.3,821.8 418.0,822.7C396.7,823.6 311.3,823.2 290.0,822.7C268.7,822.2 290.0,821.6 290.0,820.0Z" fill="#66ffff"/>
<path d="M260.0,752.5C262.1,748.5 267.9,753.8 272.5,755.0C277.1,756.2 283.6,758.3 287.5,760.0C291.4,761.7 295.4,763.1 296.2,765.0C297.0,766.9 295.6,769.7 292.5,771.2C289.4,772.7 282.9,772.5 277.5,773.8C272.1,775.1 262.9,782.3 260.0,778.8C257.1,775.2 257.9,756.5 260.0,752.5Z" fill="#66ffff"/>
<path d="M498.8,735.0C498.8,732.4 499.5,728.5 501.2,726.2C502.9,723.9 506.1,721.9 508.8,721.2C511.5,720.5 515.6,720.7 517.5,722.0C519.4,723.3 520.2,726.2 520.0,728.8C519.8,731.4 518.1,735.1 516.2,737.5C514.3,739.9 511.3,742.2 508.8,743.0C506.3,743.8 502.9,743.3 501.2,742.0C499.5,740.7 498.8,737.6 498.8,735.0Z" fill="#66ffff"/>
<path d="M453.8,743.8C453.6,741.5 455.2,739.8 457.5,737.5C459.8,735.2 463.9,731.6 467.5,730.0C471.1,728.4 475.7,727.6 478.8,728.0C481.9,728.4 485.4,730.3 486.2,732.5C487.0,734.7 485.5,738.5 483.8,741.2C482.1,743.9 478.9,746.7 476.2,748.8C473.5,750.9 470.4,753.4 467.5,753.8C464.6,754.2 461.1,752.9 458.8,751.2C456.5,749.5 454.0,746.1 453.8,743.8Z" fill="#66ffff"/>
<path d="M503.0,755.0C504.4,754.4 509.9,759.1 512.5,761.2C515.1,763.3 518.0,765.2 518.8,767.5C519.6,769.8 518.8,773.2 517.5,775.0C516.2,776.8 513.3,778.2 511.2,778.0C509.1,777.8 506.2,776.0 505.0,773.8C503.8,771.6 504.1,768.1 503.8,765.0C503.5,761.9 501.6,755.6 503.0,755.0Z" fill="#66ffff"/>
<path d="M432.5,801.7C433.1,799.1 435.2,797.9 436.7,797.5C438.2,797.1 440.0,798.0 441.7,799.2C443.4,800.5 444.2,804.2 446.7,805.0C449.2,805.8 453.6,805.2 456.7,804.2C459.8,803.2 462.8,800.7 465.0,799.2C467.2,797.7 469.2,797.4 470.0,795.0C470.8,792.6 469.4,788.6 470.0,785.0C470.6,781.4 472.2,776.5 473.3,773.3C474.4,770.1 475.0,767.5 476.7,765.8C478.4,764.1 480.8,763.4 483.3,763.0C485.8,762.6 489.3,762.3 491.7,763.3C494.1,764.3 496.1,766.7 497.5,769.2C498.9,771.7 499.0,775.7 500.0,778.3C501.0,780.9 501.9,783.0 503.3,785.0C504.7,787.0 507.2,787.8 508.3,790.0C509.4,792.2 510.3,795.5 510.0,798.3C509.7,801.1 507.8,804.2 506.7,806.7C505.6,809.2 504.1,810.2 503.3,813.3C502.5,816.3 512.8,823.0 501.7,825.0C490.6,827.0 448.1,827.0 436.7,825.0C425.3,823.0 434.0,817.2 433.3,813.3C432.6,809.4 431.9,804.3 432.5,801.7Z" fill="#66ffff"/>
<path d="M539.2,778.3C539.6,776.1 540.8,773.5 542.5,771.7C544.2,769.9 546.6,768.4 549.2,767.5C551.8,766.6 555.7,765.8 558.3,766.3C560.9,766.8 563.6,768.8 565.0,770.8C566.4,772.8 566.9,775.9 566.7,778.3C566.5,780.7 565.1,783.0 563.7,785.0C562.3,787.0 560.0,788.0 558.3,790.0C556.6,792.0 555.0,795.5 553.3,796.7C551.6,798.0 549.8,798.3 548.3,797.5C546.8,796.7 545.6,793.8 544.2,791.7C542.8,789.6 540.8,787.2 540.0,785.0C539.2,782.8 538.8,780.5 539.2,778.3Z" fill="#66ffff"/>
<path d="M597.2,752.5C597.2,751.0 598.0,749.3 599.2,748.3C600.4,747.3 602.5,746.7 604.2,746.7C605.9,746.7 608.1,747.3 609.2,748.3C610.3,749.3 610.9,751.1 610.8,752.5C610.6,753.9 609.5,755.7 608.3,756.7C607.0,757.7 604.8,758.7 603.3,758.7C601.8,758.8 600.2,758.0 599.2,757.0C598.2,756.0 597.2,754.0 597.2,752.5Z" fill="#66ffff"/>
<path d="M572.5,718.0C572.5,717.0 574.2,715.3 575.0,715.3C575.8,715.3 577.5,717.0 577.5,718.0C577.5,719.0 575.8,721.3 575.0,721.3C574.2,721.3 572.5,719.0 572.5,718.0Z" fill="#66ffff"/>
<path d="M506.7,825.0C504.3,823.5 508.6,817.8 510.0,815.8C511.4,813.8 513.3,813.2 515.0,813.0C516.7,812.8 518.5,812.7 520.0,814.7C521.5,816.7 526.4,823.3 524.2,825.0C522.0,826.7 509.1,826.5 506.7,825.0Z" fill="#66ffff"/>
<path d="M503.0,754.7C503.3,753.9 507.7,758.3 508.3,760.0C508.9,761.7 507.6,765.9 506.7,765.0C505.8,764.1 502.7,755.5 503.0,754.7Z" fill="#66ffff"/>
<path d="M732.5,503.8C732.7,501.1 733.8,498.1 735.0,495.0C736.2,491.9 738.3,488.5 740.0,485.0C741.7,481.5 743.1,476.2 745.0,473.8C746.9,471.4 749.6,470.3 751.2,470.5C752.8,470.7 754.3,472.6 754.5,475.0C754.7,477.4 753.7,481.2 752.5,485.0C751.3,488.8 747.9,494.2 747.5,497.5C747.1,500.8 748.3,503.4 750.0,505.0C751.7,506.6 755.0,506.2 757.5,507.0C760.0,507.8 762.5,510.0 765.0,510.0C767.5,510.0 770.2,506.8 772.5,507.0C774.8,507.2 777.8,509.2 778.8,511.2C779.8,513.2 779.6,516.5 778.8,518.8C778.0,521.1 774.4,522.3 773.8,525.0C773.2,527.7 774.8,532.1 775.0,535.0C775.2,537.9 775.6,540.3 775.0,542.5C774.4,544.7 772.9,547.1 771.2,548.0C769.5,548.9 766.7,549.1 765.0,548.0C763.3,546.9 761.6,544.0 761.2,541.2C760.8,538.4 761.5,533.9 762.5,531.2C763.5,528.5 767.3,526.7 767.5,525.0C767.7,523.3 765.9,522.1 763.8,521.2C761.7,520.3 757.7,520.5 755.0,519.5C752.3,518.5 749.4,516.4 747.5,515.0C745.6,513.6 745.5,511.2 743.8,511.2C742.1,511.2 739.2,515.0 737.5,515.0C735.8,515.0 734.6,513.1 733.8,511.2C733.0,509.3 732.3,506.5 732.5,503.8Z" fill="#66ffff"/>
<path d="M806.8,454.5C806.8,455.3 806.3,456.4 805.7,457.0C805.1,457.6 804.0,458.0 803.2,458.0C802.4,458.0 801.4,457.6 800.8,457.0C800.2,456.4 799.8,455.3 799.8,454.5C799.8,453.7 800.2,452.6 800.8,452.0C801.4,451.4 802.4,451.0 803.2,451.0C804.0,451.0 805.1,451.4 805.7,452.0C806.3,452.6 806.8,453.7 806.8,454.5Z" fill="#66ffff"/>
<path d="M829.5,550.0C829.1,547.7 829.3,542.8 830.0,540.0C830.7,537.2 832.1,534.5 833.8,533.0C835.5,531.5 838.3,530.9 840.0,531.2C841.7,531.5 843.4,533.1 843.8,535.0C844.2,536.9 844.0,540.6 842.5,542.5C841.0,544.4 836.7,544.3 835.0,546.2C833.3,548.1 833.4,553.2 832.5,553.8C831.6,554.4 829.9,552.3 829.5,550.0Z" fill="#66ffff"/>
<path d="M640.5,559.2C640.5,560.2 640.0,561.6 639.3,562.3C638.6,563.0 637.2,563.5 636.2,563.5C635.2,563.5 633.9,563.0 633.2,562.3C632.5,561.6 632.0,560.2 632.0,559.2C632.0,558.2 632.5,556.9 633.2,556.2C633.9,555.5 635.2,555.0 636.2,555.0C637.2,555.0 638.6,555.5 639.3,556.2C640.0,556.9 640.5,558.2 640.5,559.2Z" fill="#66ffff"/>
<path d="M676.2,590.0C676.4,588.7 678.9,585.9 680.0,583.8C681.1,581.7 681.7,578.8 683.0,577.5C684.3,576.2 686.5,575.8 688.0,576.2C689.5,576.6 691.5,578.5 691.8,580.0C692.1,581.5 691.3,583.8 690.0,585.0C688.7,586.2 685.7,585.9 683.8,587.0C681.9,588.1 680.1,591.3 678.8,591.8C677.5,592.3 676.0,591.3 676.2,590.0Z" fill="#66ffff"/>
<path d="M693.8,585.0C694.2,583.7 697.3,584.1 700.0,584.5C702.7,584.9 707.3,586.0 710.0,587.5C712.7,589.0 714.9,591.3 716.2,593.8C717.5,596.3 717.9,599.6 718.0,602.5C718.1,605.4 717.7,609.0 717.0,611.2C716.3,613.4 715.0,615.7 713.8,615.5C712.6,615.3 711.7,612.2 710.0,610.0C708.3,607.8 705.9,605.4 703.8,602.5C701.7,599.6 699.2,595.4 697.5,592.5C695.8,589.6 693.4,586.3 693.8,585.0Z" fill="#66ffff"/>
<path d="M674.5,622.5C674.6,620.3 675.5,617.0 677.0,615.0C678.5,613.0 681.6,611.0 683.8,610.8C686.0,610.6 688.6,612.2 690.0,613.8C691.4,615.4 692.2,618.3 692.0,620.5C691.8,622.7 690.6,625.4 688.8,627.0C687.0,628.6 683.3,629.8 681.2,630.0C679.1,630.2 677.3,629.2 676.2,628.0C675.1,626.8 674.4,624.7 674.5,622.5Z" fill="#66ffff"/>
<path d="M744.5,595.0C744.7,592.7 745.3,590.3 747.5,588.8C749.7,587.3 754.4,587.2 757.5,586.2C760.6,585.2 764.1,584.8 766.2,582.5C768.3,580.2 769.2,575.8 770.0,572.5C770.8,569.2 770.4,565.3 771.2,562.5C772.0,559.7 773.1,556.8 775.0,555.5C776.9,554.2 780.3,554.2 782.5,555.0C784.7,555.8 787.4,557.1 788.0,560.0C788.6,562.9 787.3,568.3 786.2,572.5C785.1,576.7 782.7,581.2 781.2,585.0C779.7,588.8 778.0,591.9 777.0,595.0C776.0,598.1 776.9,601.5 775.5,603.8C774.1,606.1 771.4,607.8 768.8,608.8C766.2,609.8 762.9,610.2 760.0,610.0C757.1,609.8 753.5,608.8 751.2,607.5C748.9,606.2 747.3,604.6 746.2,602.5C745.1,600.4 744.3,597.3 744.5,595.0Z" fill="#66ffff"/>
<path d="M754.5,615.0C754.5,615.7 753.8,616.8 753.2,617.2C752.6,617.6 751.4,617.6 750.8,617.2C750.2,616.8 749.5,615.7 749.5,615.0C749.5,614.3 750.2,613.2 750.8,612.8C751.4,612.4 752.6,612.4 753.2,612.8C753.8,613.2 754.5,614.3 754.5,615.0Z" fill="#66ffff"/>
<path d="M820.2,645.5C820.2,645.9 819.9,646.6 819.5,646.8C819.1,647.0 818.4,647.0 818.0,646.8C817.6,646.6 817.2,645.9 817.2,645.5C817.2,645.1 817.6,644.4 818.0,644.2C818.4,644.0 819.1,644.0 819.5,644.2C819.9,644.4 820.2,645.1 820.2,645.5Z" fill="#66ffff"/>
<path d="M723.3,672.4C723.1,669.2 724.3,665.3 725.6,663.3C726.9,661.3 729.0,660.2 731.3,660.6C733.6,661.0 736.8,663.4 739.3,665.6C741.8,667.8 744.4,670.8 746.1,673.6C747.8,676.5 749.2,679.9 749.5,682.7C749.8,685.5 747.3,688.9 747.9,690.6C748.5,692.3 751.1,692.0 752.9,692.9C754.7,693.8 757.3,694.6 758.6,696.3C759.9,698.0 761.1,700.9 760.9,703.2C760.7,705.5 759.2,708.2 757.5,710.0C755.8,711.8 752.5,713.7 750.6,713.9C748.7,714.1 747.1,712.8 746.1,711.2C745.1,709.6 744.9,706.8 744.9,704.3C744.9,701.8 746.3,698.5 746.1,696.3C745.9,694.1 745.1,691.7 743.8,691.1C742.5,690.5 740.2,693.2 738.1,692.9C736.0,692.6 733.2,691.2 731.3,689.5C729.4,687.8 728.0,685.6 726.7,682.7C725.4,679.9 723.5,675.6 723.3,672.4Z" fill="#66ffff"/>
<path d="M789.4,721.4C789.6,719.9 790.4,717.3 791.7,716.2C793.0,715.1 795.6,714.4 797.4,714.6C799.2,714.8 801.4,716.1 802.4,717.5C803.4,718.9 803.6,721.4 803.1,723.0C802.6,724.6 801.1,726.3 799.6,727.1C798.1,727.9 795.4,727.9 793.9,727.6C792.4,727.3 791.2,726.3 790.5,725.3C789.8,724.3 789.2,722.9 789.4,721.4Z" fill="#66ffff"/>
<path d="M779.6,727.1C779.6,728.2 779.1,729.5 778.3,730.3C777.5,731.1 776.1,731.7 775.0,731.7C773.9,731.7 772.5,731.1 771.8,730.3C771.0,729.5 770.5,728.2 770.5,727.1C770.5,726.0 771.0,724.6 771.8,723.9C772.5,723.1 773.9,722.6 775.0,722.6C776.1,722.6 777.5,723.1 778.3,723.9C779.1,724.6 779.6,726.0 779.6,727.1Z" fill="#66ffff"/>
<path d="M717.8,770.0C717.8,770.8 717.4,771.7 716.9,772.2C716.4,772.7 715.4,773.1 714.6,773.1C713.9,773.1 712.9,772.7 712.4,772.2C711.9,771.7 711.4,770.8 711.4,770.0C711.4,769.2 711.9,768.2 712.4,767.7C712.9,767.2 713.9,766.8 714.6,766.8C715.4,766.8 716.4,767.2 716.9,767.7C717.4,768.2 717.8,769.2 717.8,770.0Z" fill="#66ffff"/>
<path d="M860.0,629.8C860.0,630.5 859.7,631.4 859.2,631.9C858.7,632.4 857.8,632.8 857.1,632.8C856.4,632.8 855.5,632.4 855.0,631.9C854.5,631.4 854.1,630.5 854.1,629.8C854.1,629.1 854.5,628.2 855.0,627.7C855.5,627.2 856.4,626.8 857.1,626.8C857.8,626.8 858.7,627.2 859.2,627.7C859.7,628.2 860.0,629.1 860.0,629.8Z" fill="#66ffff"/>
<path d="M820.2,645.1C820.2,645.5 819.8,646.2 819.4,646.4C819.0,646.6 818.2,646.6 817.8,646.4C817.4,646.2 817.0,645.5 817.0,645.1C817.0,644.7 817.4,643.9 817.8,643.7C818.2,643.5 819.0,643.5 819.4,643.7C819.8,643.9 820.2,644.7 820.2,645.1Z" fill="#66ffff"/>
<path d="M904.5,618.9C906.0,617.4 913.0,617.6 914.7,618.9C916.4,620.2 915.5,624.9 914.7,626.8C914.0,628.7 911.7,630.1 910.2,630.3C908.7,630.5 906.6,629.9 905.6,628.0C904.6,626.1 903.0,620.4 904.5,618.9Z" fill="#66ffff"/>
<path d="M925.0,640.5C925.0,638.6 926.0,636.1 927.3,634.8C928.6,633.5 931.3,632.3 933.0,632.5C934.7,632.7 936.8,634.1 937.5,636.0C938.2,637.9 938.2,641.8 937.5,643.9C936.8,646.0 934.7,648.1 933.0,648.5C931.3,648.9 928.6,647.5 927.3,646.2C926.0,644.9 925.0,642.4 925.0,640.5Z" fill="#66ffff"/>
<path d="M898.3,707.7C898.4,706.1 899.2,703.3 900.6,702.0C902.0,700.7 905.0,699.6 906.8,699.8C908.6,700.0 910.7,701.5 911.3,703.2C911.9,704.9 911.5,708.4 910.6,710.0C909.7,711.6 907.4,712.7 905.6,713.0C903.8,713.3 901.1,712.5 899.9,711.6C898.7,710.7 898.2,709.3 898.3,707.7Z" fill="#66ffff"/>
<path d="M872.6,731.7C872.6,729.4 873.8,726.6 875.5,724.8C877.2,723.0 880.2,721.5 882.8,720.7C885.3,720.0 888.9,719.5 890.8,720.3C892.7,721.1 893.8,723.0 894.2,725.3C894.6,727.6 894.1,731.5 893.1,733.9C892.1,736.3 890.4,738.3 888.5,739.6C886.6,740.9 883.9,742.1 881.7,741.9C879.5,741.7 877.0,740.2 875.5,738.5C874.0,736.8 872.6,734.0 872.6,731.7Z" fill="#66ffff"/>
<path d="M886.2,795.0C886.2,796.1 885.6,797.4 884.9,798.2C884.1,799.0 882.8,799.6 881.7,799.6C880.6,799.6 879.3,799.0 878.5,798.2C877.7,797.4 877.1,796.1 877.1,795.0C877.1,793.9 877.7,792.5 878.5,791.8C879.3,791.0 880.6,790.5 881.7,790.5C882.8,790.5 884.1,791.0 884.9,791.8C885.6,792.5 886.2,793.9 886.2,795.0Z" fill="#66ffff"/>
<path d="M812.2,825.1C810.1,823.0 813.3,815.1 814.5,812.6C815.7,810.1 817.8,810.1 819.5,810.3C821.2,810.5 823.5,811.2 824.7,813.7C826.0,816.2 829.1,823.2 827.0,825.1C824.9,827.0 814.3,827.2 812.2,825.1Z" fill="#66ffff"/>
<path d="M821.3,695.2C821.3,692.2 822.0,687.4 823.1,684.9C824.2,682.4 825.8,680.4 828.1,680.4C830.5,680.4 834.5,683.4 837.2,684.9C839.9,686.4 842.7,687.6 844.1,689.5C845.5,691.4 846.3,694.0 845.9,696.3C845.5,698.6 843.6,701.3 841.8,703.2C840.0,705.1 837.5,706.8 835.0,707.7C832.5,708.7 829.0,709.6 827.0,708.9C825.0,708.1 824.1,705.5 823.1,703.2C822.1,700.9 821.3,698.2 821.3,695.2Z" fill="#66ffff"/>
<path d="M797.5,741.7C797.8,739.9 798.5,738.5 800.0,737.5C801.5,736.5 804.5,735.7 806.7,735.8C808.9,735.9 811.4,739.0 813.3,738.3C815.2,737.6 816.8,734.5 818.3,731.7C819.8,728.9 821.4,724.8 822.5,721.7C823.6,718.6 823.6,715.1 825.0,713.3C826.4,711.5 828.7,710.6 830.8,710.8C832.9,710.9 835.7,712.4 837.5,714.2C839.3,716.0 839.6,719.9 841.7,721.7C843.8,723.5 846.4,723.6 850.0,725.0C853.6,726.4 860.1,728.0 863.3,730.0C866.5,732.0 868.4,733.9 869.2,736.7C870.0,739.5 869.1,743.7 868.3,746.7C867.5,749.8 863.6,753.1 864.2,755.0C864.8,756.9 869.4,757.2 871.7,758.3C874.1,759.4 876.6,760.0 878.3,761.7C880.0,763.4 881.7,765.8 881.7,768.3C881.7,770.8 879.4,774.2 878.3,776.7C877.2,779.2 876.4,781.4 875.0,783.3C873.6,785.2 870.5,786.1 870.0,788.3C869.5,790.5 871.2,793.6 871.7,796.7C872.2,799.8 873.3,803.7 873.3,806.7C873.3,809.8 872.2,812.0 871.7,815.0C871.2,818.0 875.6,823.3 870.0,825.0C864.4,826.7 843.7,827.8 838.3,825.0C832.9,822.2 837.8,812.8 837.5,808.3C837.2,803.8 836.3,801.1 836.7,798.3C837.1,795.5 838.3,793.1 840.0,791.7C841.7,790.3 845.6,791.7 846.7,790.0C847.8,788.3 847.5,783.7 846.7,781.7C845.9,779.8 843.9,778.3 841.7,778.3C839.5,778.3 836.4,781.1 833.3,781.7C830.2,782.3 826.3,781.7 823.3,781.7C820.2,781.7 815.8,780.9 815.0,781.7C814.2,782.5 817.8,784.8 818.3,786.7C818.8,788.6 819.1,792.0 818.3,793.3C817.5,794.5 815.0,795.3 813.3,794.2C811.6,793.1 809.7,789.4 808.3,786.7C806.9,784.1 806.4,780.5 805.0,778.3C803.6,776.1 801.2,775.5 800.0,773.3C798.8,771.1 797.5,767.5 797.5,765.0C797.5,762.5 799.0,760.2 800.0,758.3C801.0,756.3 803.6,755.0 803.3,753.3C803.0,751.6 799.3,750.2 798.3,748.3C797.3,746.4 797.2,743.5 797.5,741.7Z" fill="#66ffff"/>
<path d="M858.7,523.3C858.8,521.1 859.6,517.9 860.8,515.8C862.0,513.7 864.0,511.8 865.8,510.8C867.6,509.8 870.2,509.4 871.7,510.0C873.2,510.6 874.6,512.2 875.0,514.2C875.4,516.2 874.9,519.4 874.2,521.7C873.5,524.1 872.3,526.8 870.8,528.3C869.3,529.8 866.8,530.7 865.0,530.8C863.2,530.9 861.0,530.0 860.0,528.7C859.0,527.5 858.6,525.4 858.7,523.3Z" fill="#66ffff"/>
<path d="M828.7,551.7C828.5,549.5 829.4,544.5 830.0,541.7C830.6,538.9 831.2,536.7 832.5,535.0C833.8,533.3 835.8,531.8 837.5,531.3C839.2,530.8 841.5,531.1 842.5,532.0C843.5,532.9 843.9,535.1 843.8,536.7C843.7,538.3 842.9,540.3 841.7,541.7C840.5,543.1 838.1,543.9 836.7,545.0C835.3,546.1 833.8,546.9 833.3,548.3C832.8,549.7 834.0,552.2 833.7,553.3C833.4,554.4 832.1,555.0 831.3,554.7C830.5,554.4 828.9,553.9 828.7,551.7Z" fill="#66ffff"/>
<path d="M865.3,550.0C865.3,547.8 865.9,545.2 866.7,543.3C867.5,541.3 868.8,538.8 870.0,538.3C871.2,537.8 872.9,538.8 873.7,540.0C874.5,541.2 875.1,543.6 875.0,545.8C874.9,548.0 873.8,551.2 873.0,553.3C872.2,555.4 871.0,557.7 870.0,558.3C869.0,558.9 867.5,558.1 866.7,556.7C865.9,555.3 865.3,552.2 865.3,550.0Z" fill="#66ffff"/>
<path d="M849.2,574.2C849.4,572.7 850.2,571.2 851.7,570.0C853.2,568.8 856.4,567.8 858.3,566.7C860.2,565.6 861.8,564.1 863.3,563.3C864.8,562.5 866.0,560.9 867.0,561.7C868.0,562.5 868.7,565.8 869.2,568.3C869.7,570.8 870.1,574.5 870.0,576.7C869.9,578.9 867.8,580.3 868.3,581.7C868.8,583.1 871.5,583.9 873.3,585.0C875.1,586.1 877.9,586.8 879.2,588.3C880.5,589.8 881.2,592.2 881.3,594.2C881.4,596.2 880.9,598.8 880.0,600.0C879.1,601.2 877.2,602.0 875.8,601.7C874.4,601.4 873.0,600.0 871.7,598.3C870.5,596.6 869.7,593.6 868.3,591.7C866.9,589.8 865.5,588.1 863.3,586.7C861.1,585.3 857.1,584.5 855.0,583.3C852.9,582.0 851.8,580.7 850.8,579.2C849.8,577.7 849.1,575.7 849.2,574.2Z" fill="#66ffff"/>
<path d="M909.2,560.8C909.4,559.4 910.6,558.1 911.7,556.7C912.8,555.3 915.0,554.2 915.8,552.5C916.6,550.8 915.7,547.8 916.3,546.7C916.9,545.6 918.6,544.8 919.2,545.8C919.8,546.8 919.6,550.4 920.0,552.5C920.4,554.6 920.7,556.3 921.7,558.3C922.7,560.2 924.8,562.4 925.8,564.2C926.8,566.0 928.0,567.7 928.0,569.2C928.0,570.7 926.8,572.5 925.8,573.0C924.8,573.5 923.2,572.9 921.7,572.0C920.2,571.1 918.5,568.7 916.7,567.5C914.9,566.3 912.0,566.1 910.8,565.0C909.5,563.9 909.1,562.2 909.2,560.8Z" fill="#66ffff"/>
<path d="M933.0,513.3C932.8,510.6 933.1,505.9 933.7,503.3C934.3,500.7 935.7,498.5 936.7,497.5C937.8,496.5 939.5,493.6 940.0,497.5C940.5,501.4 940.8,517.2 940.0,520.8C939.2,524.4 936.2,520.5 935.0,519.2C933.8,518.0 933.2,515.9 933.0,513.3Z" fill="#66ffff"/>
<path d="M632.5,740.0C632.5,740.7 631.9,741.8 631.2,742.2C630.6,742.5 629.4,742.5 628.8,742.2C628.1,741.8 627.5,740.7 627.5,740.0C627.5,739.3 628.1,738.2 628.8,737.8C629.4,737.5 630.6,737.5 631.2,737.8C631.9,738.2 632.5,739.3 632.5,740.0Z" fill="#66ffff"/>
<path d="M346.9,138.1C347.3,136.5 347.8,134.3 351.2,133.1C354.6,131.8 361.0,131.3 367.5,130.6C374.0,129.9 384.2,128.9 390.0,128.8C395.8,128.7 399.1,128.9 402.5,130.0C405.9,131.1 409.4,133.8 410.6,135.6C411.9,137.4 411.8,139.2 410.0,140.6C408.2,142.0 404.2,143.0 400.0,143.8C395.8,144.6 389.6,145.0 385.0,145.6C380.4,146.2 376.9,147.7 372.5,147.5C368.1,147.3 362.8,145.2 358.8,144.4C354.9,143.6 350.8,143.6 348.8,142.5C346.8,141.4 346.5,139.7 346.9,138.1Z" fill="#3399ff"/>
<path d="M341.0,195.0C340.8,193.2 341.5,192.1 343.8,190.6C346.1,189.1 351.3,187.3 355.0,186.2C358.7,185.1 363.5,184.0 366.2,184.0C368.9,184.0 371.0,184.6 371.2,186.2C371.4,187.8 369.2,191.5 367.5,193.8C365.8,196.1 363.7,198.4 361.2,200.0C358.7,201.6 355.2,202.9 352.5,203.1C349.8,203.3 346.9,202.5 345.0,201.2C343.1,199.8 341.2,196.8 341.0,195.0Z" fill="#3399ff"/>
<path d="M383.1,184.4C382.9,183.0 383.8,181.4 386.2,180.6C388.6,179.8 393.9,180.1 397.5,179.8C401.1,179.5 404.2,179.8 407.5,178.8C410.8,177.8 413.8,174.9 417.5,173.8C421.2,172.8 425.2,172.6 430.0,172.5C434.8,172.4 442.4,172.2 446.2,173.1C449.9,174.0 451.1,176.3 452.5,178.1C453.9,179.9 455.2,182.2 454.4,183.8C453.6,185.4 451.1,186.3 447.5,187.5C443.9,188.7 434.6,189.8 432.5,191.2C430.4,192.6 434.4,194.3 435.0,196.2C435.6,198.1 436.6,200.7 436.2,202.5C435.8,204.3 433.9,207.1 432.5,206.9C431.1,206.7 428.6,203.4 427.5,201.2C426.4,199.0 427.9,194.0 426.2,193.8C424.5,193.6 420.6,199.4 417.5,200.0C414.4,200.6 411.1,198.8 407.5,197.5C403.9,196.2 399.5,193.9 396.2,192.5C392.9,191.1 389.7,190.2 387.5,188.8C385.3,187.5 383.3,185.8 383.1,184.4Z" fill="#3399ff"/>
<path d="M446.2,213.8C446.0,212.0 447.3,210.6 448.8,209.4C450.3,208.2 453.1,207.0 455.0,206.9C456.9,206.8 459.1,207.5 460.0,208.8C460.9,210.2 460.8,212.7 460.6,215.0C460.4,217.3 459.6,220.9 458.8,222.5C458.0,224.1 457.1,224.8 455.6,224.4C454.1,224.0 451.6,221.8 450.0,220.0C448.4,218.2 446.4,215.6 446.2,213.8Z" fill="#3399ff"/>
<path d="M297.0,191.2C297.8,190.6 299.9,189.5 302.5,189.5C305.1,189.5 310.0,190.4 312.5,191.2C315.0,192.0 317.3,193.5 317.5,194.5C317.7,195.5 316.1,196.9 313.8,197.0C311.5,197.1 306.4,195.6 303.8,195.0C301.2,194.4 299.1,193.8 298.0,193.2C296.9,192.6 296.2,191.8 297.0,191.2Z" fill="#3399ff"/>
<path d="M521.7,243.3C521.2,242.6 526.7,240.0 530.0,238.3C533.3,236.6 540.3,235.0 541.7,233.3C543.1,231.6 538.6,229.7 538.3,228.3C538.0,226.9 537.2,226.0 540.0,225.0C542.8,224.0 550.0,223.6 555.0,222.5C560.0,221.4 567.0,220.1 570.0,218.3C573.0,216.5 574.4,213.9 573.3,211.7C572.2,209.5 567.2,206.7 563.3,205.0C559.4,203.3 555.0,202.5 550.0,201.7C545.0,200.9 537.8,201.0 533.3,200.0C528.8,199.0 524.1,197.1 523.3,195.8C522.5,194.6 523.8,193.5 528.3,192.5C532.8,191.5 543.0,191.2 550.0,190.0C557.0,188.8 565.0,186.0 570.0,185.0C575.0,184.0 576.1,184.1 580.0,184.2C583.9,184.3 588.8,186.8 593.3,185.8C597.8,184.8 602.8,180.7 606.7,178.3C610.6,176.0 613.9,173.1 616.7,171.7C619.5,170.3 621.6,169.7 623.3,170.0C625.0,170.3 627.0,171.9 626.7,173.3C626.4,174.7 620.9,177.2 621.7,178.3C622.5,179.4 628.4,180.8 631.7,180.0C635.0,179.2 638.7,175.0 641.7,173.3C644.8,171.6 647.5,170.6 650.0,170.0C652.5,169.4 653.9,168.9 656.7,170.0C659.5,171.1 662.3,174.9 666.7,176.7C671.1,178.5 679.4,180.1 683.3,180.8C687.2,181.5 686.1,181.8 690.0,180.8C693.9,179.8 701.2,176.9 706.7,175.0C712.2,173.1 717.8,170.4 723.3,169.2C728.8,167.9 735.8,167.2 740.0,167.5C744.2,167.8 747.5,169.6 748.3,170.8C749.1,172.1 747.8,173.6 745.0,175.0C742.2,176.4 736.4,177.8 731.7,179.2C727.0,180.6 720.9,182.0 716.7,183.3C712.5,184.6 710.0,186.1 706.7,187.0C703.4,187.9 700.6,188.6 696.7,188.7C692.8,188.8 685.8,187.2 683.3,187.5C680.8,187.8 680.6,189.8 681.7,190.8C682.8,191.8 685.8,192.8 690.0,193.3C694.2,193.8 701.2,192.9 706.7,193.7C712.2,194.5 717.8,197.8 723.3,198.3C728.8,198.8 733.3,197.5 740.0,196.7C746.7,195.9 755.0,194.0 763.3,193.3C771.6,192.6 781.1,192.5 790.0,192.5C798.9,192.5 810.6,192.9 816.7,193.3C822.8,193.7 826.2,194.0 826.7,195.0C827.2,196.0 824.7,197.8 820.0,199.2C815.3,200.6 805.5,201.6 798.3,203.3C791.1,205.0 782.2,208.5 776.7,209.2C771.2,209.9 768.9,207.8 765.0,207.5C761.1,207.2 757.5,206.4 753.3,207.5C749.1,208.6 745.0,212.0 740.0,214.2C735.0,216.4 728.8,218.7 723.3,220.8C717.8,222.9 709.9,224.6 706.7,226.7C703.5,228.8 704.5,231.1 704.2,233.3C703.9,235.5 701.8,239.2 705.0,240.0C708.2,240.8 717.5,239.0 723.3,238.3C729.1,237.6 734.4,235.7 740.0,235.8C745.6,236.0 751.7,237.7 756.7,239.2C761.7,240.7 767.0,243.2 770.0,245.0C773.0,246.8 775.0,248.2 775.0,250.0C775.0,251.8 772.2,254.1 770.0,255.8C767.8,257.5 765.3,258.6 761.7,260.0C758.1,261.4 751.9,263.9 748.3,264.2C744.7,264.5 742.8,262.9 740.0,261.7C737.2,260.4 735.9,257.9 731.7,256.7C727.5,255.4 720.0,255.0 715.0,254.2C710.0,253.4 704.6,253.2 701.7,251.7C698.8,250.2 698.1,246.9 697.5,245.0C696.9,243.1 699.0,241.2 698.3,240.0C697.6,238.8 696.1,236.9 693.3,237.5C690.5,238.1 686.1,242.5 681.7,243.3C677.3,244.1 672.0,243.1 666.7,242.5C661.4,241.9 654.7,240.4 650.0,240.0C645.3,239.6 641.6,241.1 638.3,240.0C635.0,238.9 632.5,235.0 630.0,233.3C627.5,231.6 626.9,230.3 623.3,230.0C619.7,229.7 613.3,230.9 608.3,231.7C603.3,232.5 598.0,234.3 593.3,235.0C588.6,235.7 583.3,235.9 580.0,235.8C576.7,235.7 577.5,233.8 573.3,234.2C569.1,234.6 561.7,236.9 555.0,238.3C548.3,239.7 538.8,241.7 533.3,242.5C527.8,243.3 522.2,244.0 521.7,243.3Z" fill="#3399ff"/>
<path d="M860.0,313.7C860.5,312.7 868.3,312.6 873.3,312.5C878.3,312.4 885.5,313.3 890.0,313.3C894.5,313.3 896.1,313.3 900.0,312.5C903.9,311.7 909.4,308.9 913.3,308.3C917.2,307.8 921.9,308.4 923.3,309.2C924.7,310.0 923.4,311.8 921.7,313.3C920.0,314.8 916.4,317.1 913.3,318.3C910.2,319.6 905.9,319.7 903.3,320.8C900.7,321.9 898.6,323.6 897.5,325.0C896.4,326.4 898.5,328.4 896.7,329.2C894.9,330.0 890.0,329.6 886.7,330.0C883.4,330.4 879.1,331.8 876.7,331.7C874.3,331.6 873.1,330.6 872.5,329.2C871.9,327.8 873.7,325.1 873.3,323.3C872.9,321.5 872.2,319.9 870.0,318.3C867.8,316.7 859.5,314.7 860.0,313.7Z" fill="#3399ff"/>
<path d="M844.2,340.8C844.5,339.7 846.2,338.6 848.3,338.3C850.4,338.0 854.3,338.4 856.7,339.2C859.1,340.0 861.8,341.9 862.5,343.3C863.2,344.7 862.3,346.8 860.8,347.5C859.3,348.2 855.6,347.9 853.3,347.5C850.9,347.1 848.2,346.1 846.7,345.0C845.2,343.9 843.9,341.9 844.2,340.8Z" fill="#3399ff"/>
<path d="M815.8,357.5C816.2,356.2 818.2,354.0 820.0,353.3C821.8,352.6 825.0,352.6 826.7,353.3C828.4,354.0 830.0,356.1 830.0,357.5C830.0,358.9 828.1,360.8 826.7,361.7C825.3,362.6 823.2,363.1 821.7,363.0C820.2,362.9 818.5,361.7 817.5,360.8C816.5,359.9 815.4,358.8 815.8,357.5Z" fill="#3399ff"/>
<path d="M775.0,293.3C775.7,291.1 777.0,288.2 780.0,286.7C783.0,285.2 789.4,283.8 793.3,284.2C797.2,284.6 800.5,287.4 803.3,289.2C806.1,291.0 806.7,293.9 810.0,295.0C813.3,296.1 818.8,295.8 823.3,295.8C827.8,295.8 833.4,294.9 836.7,295.0C840.0,295.1 842.8,295.6 843.3,296.7C843.8,297.8 842.2,300.3 840.0,301.7C837.8,303.1 831.1,303.6 830.0,305.0C828.9,306.4 831.1,308.6 833.3,310.0C835.5,311.4 841.2,311.9 843.3,313.3C845.4,314.7 846.3,316.1 845.8,318.3C845.2,320.5 842.4,324.5 840.0,326.7C837.6,328.9 834.2,330.3 831.7,331.7C829.2,333.1 827.2,335.1 825.0,335.0C822.8,334.9 821.3,331.1 818.3,330.8C815.2,330.5 810.0,334.0 806.7,333.3C803.4,332.6 801.4,329.2 798.3,326.7C795.2,324.2 791.3,321.4 788.3,318.3C785.2,315.2 782.1,311.4 780.0,308.3C777.9,305.2 776.6,302.5 775.8,300.0C775.0,297.5 774.3,295.5 775.0,293.3Z" fill="#3399ff"/>
<path d="M298.8,297.0C299.2,295.6 300.6,293.7 302.5,293.0C304.4,292.3 307.9,292.2 310.0,293.0C312.1,293.8 314.8,295.9 315.0,297.5C315.2,299.1 313.1,301.4 311.2,302.5C309.3,303.6 305.7,304.0 303.8,303.8C301.9,303.6 300.8,302.3 300.0,301.2C299.2,300.1 298.4,298.4 298.8,297.0Z" fill="#3399ff"/>
<path d="M352.0,342.0C352.4,341.2 356.6,340.4 360.0,340.5C363.4,340.6 369.8,343.6 372.5,342.5C375.2,341.4 374.3,336.1 376.2,333.8C378.1,331.5 380.7,329.6 383.8,328.8C386.9,328.0 392.6,327.6 395.0,328.8C397.4,330.0 397.0,333.3 398.0,336.2C399.0,339.1 400.7,343.3 401.2,346.2C401.7,349.1 402.6,351.9 401.2,353.8C399.8,355.7 396.0,357.1 392.5,357.5C389.0,357.9 383.8,356.4 380.0,356.2C376.2,356.0 372.7,357.2 370.0,356.2C367.3,355.2 365.9,351.8 363.8,350.0C361.7,348.2 359.5,346.8 357.5,345.5C355.5,344.2 351.6,342.8 352.0,342.0Z" fill="#3399ff"/>
<path d="M411.2,365.0C411.4,363.7 412.1,361.0 413.8,359.5C415.5,358.0 418.5,356.6 421.2,356.2C423.9,355.8 427.5,356.3 430.0,357.0C432.5,357.7 435.6,359.2 436.2,360.5C436.8,361.8 435.7,363.6 433.8,365.0C431.9,366.4 427.9,368.1 425.0,368.8C422.1,369.6 418.3,369.7 416.2,369.5C414.1,369.3 413.3,368.2 412.5,367.5C411.7,366.8 411.0,366.3 411.2,365.0Z" fill="#3399ff"/>
<path d="M451.2,372.0C451.2,370.6 452.4,368.8 453.8,368.0C455.2,367.2 457.8,366.6 459.5,367.0C461.2,367.4 463.1,369.1 463.8,370.5C464.5,371.9 464.5,374.3 463.8,375.5C463.1,376.7 461.2,377.4 459.5,377.5C457.8,377.6 455.2,377.1 453.8,376.2C452.4,375.3 451.2,373.4 451.2,372.0Z" fill="#3399ff"/>
<path d="M380.0,409.5C380.6,408.8 383.4,407.5 385.0,407.5C386.6,407.5 389.3,408.8 389.5,409.5C389.7,410.2 387.6,411.6 386.2,412.0C384.8,412.4 382.2,412.2 381.2,411.8C380.2,411.4 379.4,410.2 380.0,409.5Z" fill="#3399ff"/>
<path d="M429.2,416.2C429.4,414.8 430.6,412.4 432.0,411.2C433.4,410.0 435.8,409.0 437.5,409.2C439.2,409.4 441.5,411.0 442.0,412.5C442.5,414.0 441.6,416.7 440.5,418.0C439.4,419.3 437.2,420.2 435.5,420.5C433.8,420.8 431.6,420.2 430.5,419.5C429.4,418.8 428.9,417.6 429.2,416.2Z" fill="#3399ff"/>
<path d="M493.0,436.2C493.2,435.2 495.5,434.0 497.5,433.8C499.5,433.6 504.2,434.2 505.0,435.0C505.8,435.8 504.0,438.1 502.5,438.8C501.0,439.6 497.8,439.9 496.2,439.5C494.6,439.1 492.8,437.1 493.0,436.2Z" fill="#3399ff"/>
<path d="M492.0,284.5C493.4,283.1 498.7,280.2 502.5,278.8C506.3,277.4 512.6,275.8 515.0,276.2C517.4,276.6 517.0,280.1 517.0,281.2C517.0,282.3 517.4,282.0 515.0,283.0C512.6,284.0 506.0,286.3 502.5,287.0C499.0,287.7 495.6,287.4 493.8,287.0C492.1,286.6 490.6,285.9 492.0,284.5Z" fill="#3399ff"/>
<path d="M537.0,347.5C537.3,345.2 540.8,343.8 543.8,342.5C546.8,341.2 551.9,340.9 555.0,340.0C558.1,339.1 559.8,337.0 562.5,337.0C565.2,337.0 570.0,338.2 571.2,340.0C572.4,341.8 570.9,344.6 569.5,347.5C568.1,350.4 565.0,354.2 563.0,357.5C561.0,360.8 559.9,365.2 557.5,367.5C555.1,369.8 551.2,371.4 548.8,371.2C546.4,371.0 544.1,368.7 543.0,366.2C541.9,363.7 543.0,359.3 542.0,356.2C541.0,353.1 536.7,349.8 537.0,347.5Z" fill="#3399ff"/>
<path d="M555.5,322.5C555.7,320.8 557.4,318.2 558.8,317.5C560.2,316.8 562.6,316.9 563.8,318.0C565.0,319.1 566.4,322.1 566.2,323.8C566.0,325.5 564.0,327.4 562.5,328.0C561.0,328.6 558.7,328.4 557.5,327.5C556.3,326.6 555.3,324.2 555.5,322.5Z" fill="#3399ff"/>
<path d="M586.2,313.8C586.3,312.4 588.3,309.9 590.0,308.8C591.7,307.7 594.7,306.6 596.2,307.0C597.7,307.4 599.0,309.8 598.8,311.2C598.6,312.6 596.5,314.5 595.0,315.5C593.5,316.5 591.0,317.3 589.5,317.0C588.0,316.7 586.1,315.2 586.2,313.8Z" fill="#3399ff"/>
<path d="M610.0,310.0C610.4,309.2 612.6,308.0 613.8,308.0C615.0,308.0 616.8,309.2 617.0,310.0C617.2,310.8 616.0,312.6 615.0,313.0C614.0,313.4 612.0,313.0 611.2,312.5C610.4,312.0 609.6,310.8 610.0,310.0Z" fill="#3399ff"/>
<path d="M612.5,335.5C612.7,333.8 613.5,331.6 615.0,330.0C616.5,328.4 618.9,327.0 621.2,326.2C623.5,325.4 626.5,324.6 628.8,325.0C631.1,325.4 634.4,327.2 635.0,328.8C635.6,330.4 634.0,332.8 632.5,334.5C631.0,336.2 628.5,337.7 626.2,338.8C623.9,339.9 620.9,341.0 618.8,341.2C616.7,341.4 614.8,340.9 613.8,340.0C612.8,339.1 612.3,337.2 612.5,335.5Z" fill="#3399ff"/>
<path d="M647.5,347.5C647.7,345.8 648.5,343.6 649.5,342.5C650.5,341.4 652.5,340.7 653.8,341.2C655.0,341.7 656.6,343.7 657.0,345.5C657.4,347.3 657.0,350.4 656.2,352.0C655.4,353.6 653.3,354.8 652.0,355.0C650.7,355.2 649.0,354.2 648.2,353.0C647.5,351.8 647.3,349.2 647.5,347.5Z" fill="#3399ff"/>
<path d="M609.5,400.0C609.7,398.7 611.2,397.0 612.5,397.0C613.8,397.0 616.0,398.7 617.0,400.0C618.0,401.3 619.1,403.8 618.8,405.0C618.5,406.2 616.3,407.5 615.0,407.5C613.7,407.5 612.1,406.2 611.2,405.0C610.3,403.8 609.3,401.3 609.5,400.0Z" fill="#3399ff"/>
<path d="M783.8,426.2C784.0,425.0 786.0,423.3 787.5,422.5C789.0,421.7 791.2,421.3 792.5,421.5C793.8,421.7 795.5,422.8 795.5,423.8C795.5,424.8 794.0,426.6 792.5,427.5C791.0,428.4 787.7,429.7 786.2,429.5C784.8,429.3 783.6,427.4 783.8,426.2Z" fill="#3399ff"/>
<path d="M855.8,371.7C856.2,369.8 857.3,369.5 858.3,369.2C859.3,368.9 861.1,368.5 861.7,370.0C862.3,371.5 862.1,376.1 861.7,378.3C861.3,380.5 860.2,382.6 859.2,383.0C858.2,383.4 856.4,382.7 855.8,380.8C855.2,378.9 855.4,373.6 855.8,371.7Z" fill="#3399ff"/>
<path d="M863.3,386.7C863.6,385.4 864.8,384.0 866.7,383.3C868.7,382.6 872.5,382.8 875.0,382.5C877.5,382.2 880.7,380.9 881.7,381.7C882.7,382.5 881.6,385.8 880.8,387.5C880.0,389.2 878.5,391.0 876.7,392.0C874.9,393.0 872.0,393.5 870.0,393.3C868.0,393.1 866.1,391.9 865.0,390.8C863.9,389.7 863.0,387.9 863.3,386.7Z" fill="#3399ff"/>
<path d="M889.2,390.0C889.1,388.5 890.2,386.4 891.3,385.0C892.4,383.6 894.3,381.9 895.8,381.7C897.2,381.5 899.2,382.4 900.0,383.7C900.8,384.9 900.8,387.4 900.3,389.2C899.8,390.9 898.1,393.4 896.7,394.2C895.3,395.0 893.0,394.9 891.7,394.2C890.5,393.5 889.3,391.5 889.2,390.0Z" fill="#3399ff"/>
<path d="M868.7,419.2C868.7,417.7 869.6,415.4 870.8,413.3C872.0,411.2 874.0,408.5 875.8,406.7C877.6,404.9 879.9,403.2 881.7,402.5C883.5,401.8 885.6,401.8 886.7,402.5C887.8,403.2 888.4,404.9 888.3,406.7C888.1,408.5 887.0,411.2 885.8,413.3C884.5,415.4 882.6,417.7 880.8,419.2C879.0,420.7 876.7,421.9 875.0,422.5C873.3,423.1 871.8,423.1 870.8,422.5C869.8,421.9 868.7,420.7 868.7,419.2Z" fill="#3399ff"/>
<path d="M904.2,407.5C904.3,406.2 905.3,403.5 906.3,402.0C907.3,400.5 908.7,398.9 910.0,398.3C911.3,397.7 913.2,397.7 914.2,398.3C915.2,398.9 916.2,400.3 916.3,401.7C916.4,403.1 915.9,405.4 915.0,406.7C914.1,408.0 912.3,409.1 910.8,409.7C909.3,410.2 906.9,410.4 905.8,410.0C904.7,409.6 904.1,408.8 904.2,407.5Z" fill="#3399ff"/>
<path d="M922.0,407.5C922.3,406.8 923.3,405.7 924.2,405.3C925.1,404.9 927.0,404.8 927.5,405.3C928.0,405.8 928.0,407.5 927.5,408.3C927.0,409.1 925.5,410.1 924.7,410.3C923.9,410.5 923.0,410.2 922.5,409.7C922.0,409.2 921.7,408.2 922.0,407.5Z" fill="#3399ff"/>
<path d="M907.5,432.5C907.4,431.1 908.2,428.6 909.2,426.7C910.2,424.8 911.6,422.4 913.3,420.8C915.0,419.2 917.4,417.6 919.2,417.0C921.0,416.4 923.0,416.4 924.2,417.0C925.5,417.6 926.4,419.2 926.7,420.8C927.0,422.4 926.6,424.8 925.8,426.7C925.0,428.6 923.4,431.0 921.7,432.5C920.0,434.0 917.8,435.3 915.8,435.8C913.8,436.3 911.4,435.9 910.0,435.3C908.6,434.8 907.6,433.9 907.5,432.5Z" fill="#3399ff"/>
<path d="M888.0,428.3C888.0,427.1 889.0,425.7 890.0,425.0C891.0,424.3 892.7,423.9 893.7,424.2C894.7,424.5 895.7,425.9 895.8,427.0C895.9,428.1 895.2,430.0 894.2,430.8C893.2,431.6 891.0,432.4 890.0,432.0C889.0,431.6 888.0,429.5 888.0,428.3Z" fill="#3399ff"/>
<path d="M924.2,448.3C924.2,446.7 924.6,443.9 925.3,441.7C926.0,439.5 927.1,436.8 928.3,435.0C929.5,433.2 930.5,431.6 932.5,430.8C934.5,430.0 938.8,428.5 940.0,430.0C941.2,431.5 941.1,436.9 940.0,440.0C938.9,443.1 935.2,446.3 933.3,448.3C931.3,450.3 929.7,451.5 928.3,452.0C926.9,452.5 925.7,451.9 925.0,451.3C924.3,450.7 924.2,449.9 924.2,448.3Z" fill="#3399ff"/>
<path d="M805.0,420.0C805.1,418.4 806.0,416.3 807.0,415.3C808.0,414.3 809.3,413.8 810.8,414.2C812.3,414.6 814.6,416.2 815.8,417.5C817.0,418.8 818.1,420.4 818.0,421.7C817.9,423.0 816.3,424.5 815.0,425.3C813.7,426.1 811.5,426.8 810.0,426.7C808.5,426.6 807.1,425.8 806.3,424.7C805.5,423.6 804.9,421.6 805.0,420.0Z" fill="#3399ff"/>
<path d="M783.0,426.3C782.8,425.4 784.1,424.0 785.3,423.3C786.5,422.6 788.7,421.9 790.0,422.0C791.3,422.1 792.9,423.3 793.0,424.2C793.1,425.1 791.9,426.8 790.8,427.5C789.7,428.2 787.6,428.9 786.3,428.7C785.0,428.5 783.2,427.2 783.0,426.3Z" fill="#3399ff"/>
<path d="M519.5,646.2C519.7,644.0 521.1,640.6 522.5,637.5C523.9,634.4 526.2,629.8 528.0,627.5C529.8,625.2 531.5,623.8 533.0,623.8C534.5,623.8 536.2,625.2 537.0,627.5C537.8,629.8 538.0,634.6 537.5,637.5C537.0,640.4 535.7,642.8 533.8,645.0C531.9,647.2 528.3,649.6 526.2,650.5C524.1,651.4 522.3,651.2 521.2,650.5C520.1,649.8 519.3,648.4 519.5,646.2Z" fill="#3399ff"/>
<path d="M505.5,702.5C505.6,700.6 507.2,697.4 508.8,695.5C510.4,693.6 512.8,691.8 515.0,691.2C517.2,690.6 520.5,691.0 522.0,692.0C523.5,693.0 524.3,695.2 524.2,697.0C524.1,698.8 522.7,701.3 521.2,703.0C519.7,704.7 517.2,706.3 515.0,707.0C512.8,707.7 509.6,707.8 508.0,707.0C506.4,706.2 505.4,704.4 505.5,702.5Z" fill="#3399ff"/>
<path d="M306.0,822.7C287.6,821.6 304.2,819.3 306.0,816.0C307.8,812.7 313.6,805.4 316.7,802.7C319.8,800.0 322.3,801.3 324.7,800.0C327.1,798.7 328.6,796.9 331.3,794.7C334.0,792.5 338.2,788.9 340.7,786.7C343.1,784.5 345.2,784.2 346.0,781.3C346.8,778.4 345.1,773.1 345.3,769.3C345.5,765.5 347.0,762.9 347.3,758.7C347.6,754.5 346.6,747.1 347.3,744.0C348.0,740.9 349.3,739.8 351.3,740.0C353.3,740.2 356.4,745.3 359.3,745.3C362.2,745.3 366.0,742.2 368.7,740.0C371.4,737.8 372.4,733.9 375.3,732.0C378.2,730.1 382.4,729.8 386.0,728.7C389.6,727.6 393.1,726.1 396.7,725.3C400.2,724.5 405.0,723.5 407.3,724.0C409.6,724.5 410.9,725.1 410.7,728.0C410.5,730.9 404.8,738.4 406.0,741.3C407.2,744.2 414.2,745.3 418.0,745.3C421.8,745.3 425.4,742.0 428.7,741.3C432.0,740.6 435.6,740.5 438.0,741.3C440.4,742.1 443.2,743.8 443.3,746.0C443.4,748.2 440.9,752.2 438.7,754.7C436.5,757.2 432.8,758.9 430.0,760.7C427.2,762.5 423.7,763.4 422.0,765.3C420.3,767.2 419.3,769.3 420.0,772.0C420.7,774.7 425.4,778.8 426.0,781.3C426.6,783.8 425.1,785.4 423.3,786.7C421.5,788.0 418.4,788.8 415.3,789.3C412.2,789.8 407.5,788.9 404.7,790.0C401.9,791.1 399.4,793.5 398.7,796.0C398.0,798.5 399.3,802.6 400.7,805.3C402.1,808.0 404.9,810.2 407.3,812.0C409.7,813.8 413.7,814.2 415.3,816.0C416.9,817.8 434.9,821.6 416.7,822.7C398.5,823.8 324.4,823.8 306.0,822.7Z" fill="#3399ff"/>
<path d="M341.3,724.0C341.4,721.8 341.9,718.5 343.3,716.7C344.8,714.9 347.9,713.4 350.0,713.3C352.1,713.2 355.0,714.2 356.0,716.0C357.0,717.8 356.6,721.5 356.0,724.0C355.4,726.5 353.8,728.0 352.7,730.7C351.6,733.4 350.3,738.5 349.3,740.0C348.3,741.5 347.0,741.1 346.7,740.0C346.4,738.9 348.0,735.0 347.3,733.3C346.6,731.6 343.7,731.5 342.7,730.0C341.7,728.5 341.2,726.2 341.3,724.0Z" fill="#3399ff"/>
<path d="M380.0,653.8C381.0,649.8 383.1,648.9 385.0,646.2C386.9,643.5 388.9,639.6 391.2,637.5C393.5,635.4 396.3,634.0 398.8,633.8C401.3,633.6 404.8,634.5 406.2,636.2C407.6,637.9 407.8,641.3 407.0,643.8C406.2,646.3 402.6,647.7 401.2,651.2C399.8,654.7 399.4,659.8 398.8,665.0C398.2,670.2 398.1,676.7 397.5,682.5C396.9,688.3 395.8,694.8 395.0,700.0C394.2,705.2 393.8,710.9 393.0,713.8C392.2,716.7 393.4,717.1 390.0,717.5C386.6,717.9 376.0,717.0 372.5,716.2C369.0,715.4 369.0,715.2 368.8,712.5C368.6,709.8 370.2,704.6 371.2,700.0C372.2,695.4 373.7,690.0 375.0,685.0C376.3,680.0 378.0,675.2 378.8,670.0C379.6,664.8 379.0,657.8 380.0,653.8Z" fill="#3399ff"/>
<path d="M379.5,628.0C379.5,628.9 379.0,630.1 378.4,630.7C377.8,631.3 376.7,631.8 375.8,631.8C374.9,631.8 373.7,631.3 373.1,630.7C372.5,630.1 372.0,628.9 372.0,628.0C372.0,627.1 372.5,625.9 373.1,625.3C373.7,624.7 374.9,624.2 375.8,624.2C376.7,624.2 377.8,624.7 378.4,625.3C379.0,625.9 379.5,627.1 379.5,628.0Z" fill="#3399ff"/>
<path d="M260.0,761.2C262.5,759.7 271.2,761.4 275.0,762.0C278.8,762.6 282.6,763.9 283.0,765.0C283.4,766.1 281.3,767.8 277.5,768.8C273.7,769.8 262.9,772.5 260.0,771.2C257.1,769.9 257.5,762.7 260.0,761.2Z" fill="#3399ff"/>
<path d="M501.2,734.5C501.3,732.5 502.4,729.3 503.8,727.5C505.2,725.7 507.5,724.3 509.5,723.8C511.5,723.3 514.5,723.5 515.8,724.5C517.1,725.5 517.7,727.5 517.5,729.5C517.3,731.5 516.1,734.5 514.5,736.2C512.9,738.0 509.9,739.5 508.0,740.0C506.1,740.5 504.1,740.4 503.0,739.5C501.9,738.6 501.1,736.5 501.2,734.5Z" fill="#3399ff"/>
<path d="M457.0,743.0C457.0,741.2 458.5,739.8 460.5,738.0C462.5,736.2 465.9,733.6 468.8,732.5C471.7,731.4 475.7,730.8 478.0,731.2C480.3,731.6 482.1,733.3 482.5,735.0C482.9,736.7 481.8,739.1 480.5,741.2C479.2,743.3 476.8,745.9 474.5,747.5C472.2,749.1 469.3,750.6 467.0,750.8C464.7,751.0 462.2,750.1 460.5,748.8C458.8,747.5 457.0,744.8 457.0,743.0Z" fill="#3399ff"/>
<path d="M506.2,770.0C506.0,768.1 507.5,765.5 508.8,764.5C510.1,763.5 512.4,763.1 513.8,763.8C515.2,764.5 516.8,767.0 517.0,768.8C517.2,770.6 516.2,773.3 515.0,774.5C513.8,775.7 511.5,776.5 510.0,775.8C508.5,775.0 506.4,771.9 506.2,770.0Z" fill="#3399ff"/>
<path d="M477.5,775.0C478.1,772.2 478.6,769.8 480.0,768.3C481.4,766.8 483.9,766.1 485.8,765.8C487.8,765.5 490.0,765.5 491.7,766.3C493.4,767.1 494.8,768.6 495.8,770.8C496.9,772.9 497.0,776.7 498.0,779.2C499.0,781.7 500.2,783.9 501.7,785.8C503.1,787.7 505.6,788.7 506.7,790.8C507.8,792.9 508.3,795.6 508.0,798.3C507.7,800.9 506.1,804.2 505.0,806.7C503.9,809.2 502.5,810.2 501.7,813.3C500.9,816.3 504.9,823.0 500.0,825.0C495.1,827.0 477.5,827.0 472.5,825.0C467.5,823.0 470.8,816.3 470.0,813.3C469.2,810.2 467.2,808.6 467.5,806.7C467.8,804.8 470.4,803.7 471.7,801.7C472.9,799.8 474.2,797.8 475.0,795.0C475.8,792.2 476.3,788.3 476.7,785.0C477.1,781.7 476.9,777.8 477.5,775.0Z" fill="#3399ff"/>
<path d="M434.2,806.7C434.3,804.3 435.6,801.6 436.7,800.8C437.8,800.0 439.4,800.5 440.8,801.7C442.2,803.0 443.2,807.3 445.0,808.3C446.8,809.3 449.9,806.9 451.7,807.5C453.5,808.1 455.0,808.8 455.8,811.7C456.6,814.6 459.6,822.8 456.7,825.0C453.8,827.2 441.8,826.7 438.3,825.0C434.8,823.3 436.5,818.0 435.8,815.0C435.1,812.0 434.1,809.1 434.2,806.7Z" fill="#3399ff"/>
<path d="M542.5,778.3C542.8,776.6 543.9,774.0 545.3,772.5C546.7,771.0 548.7,769.9 550.8,769.2C552.9,768.5 555.9,767.8 558.0,768.3C560.1,768.8 562.2,770.3 563.3,772.0C564.4,773.7 564.9,776.3 564.7,778.3C564.5,780.3 563.3,782.6 562.0,784.2C560.7,785.8 558.4,787.2 556.7,788.0C555.0,788.8 553.4,789.6 551.7,789.2C550.0,788.8 547.7,786.9 546.3,785.8C544.9,784.7 543.9,783.8 543.3,782.5C542.7,781.2 542.2,780.0 542.5,778.3Z" fill="#3399ff"/>
<path d="M600.3,752.2C600.4,751.4 601.2,750.2 602.0,749.7C602.8,749.2 604.1,748.9 605.0,749.2C605.9,749.5 607.2,750.4 607.5,751.3C607.8,752.2 607.3,754.0 606.7,754.7C606.1,755.5 604.6,755.8 603.7,755.8C602.8,755.8 601.9,755.3 601.3,754.7C600.7,754.1 600.2,753.0 600.3,752.2Z" fill="#3399ff"/>
<path d="M513.3,825.0C512.6,823.7 514.5,818.2 515.3,817.0C516.1,815.8 517.6,816.4 518.3,817.7C519.0,819.0 520.5,823.8 519.7,825.0C518.9,826.2 514.0,826.3 513.3,825.0Z" fill="#3399ff"/>
<path d="M737.5,503.8C737.7,501.6 739.0,496.5 740.0,493.8C741.0,491.1 742.9,488.1 743.8,487.5C744.7,486.9 745.5,487.9 745.5,490.0C745.5,492.1 744.5,497.3 743.8,500.0C743.1,502.7 742.0,505.0 741.2,506.2C740.4,507.4 739.4,507.4 738.8,507.0C738.2,506.6 737.3,506.0 737.5,503.8Z" fill="#3399ff"/>
<path d="M749.5,512.5C749.8,511.3 752.2,509.2 753.8,509.2C755.3,509.2 758.3,511.3 758.8,512.5C759.3,513.7 758.1,515.6 757.0,516.2C755.9,516.8 753.2,516.8 752.0,516.2C750.8,515.6 749.2,513.7 749.5,512.5Z" fill="#3399ff"/>
<path d="M768.0,514.5C768.1,512.9 770.0,510.8 771.2,510.5C772.5,510.2 774.9,511.8 775.5,513.0C776.1,514.2 775.8,516.8 775.0,518.0C774.2,519.2 771.7,520.6 770.5,520.0C769.3,519.4 767.9,516.1 768.0,514.5Z" fill="#3399ff"/>
<path d="M833.0,538.8C833.0,537.7 835.0,535.2 836.2,534.5C837.4,533.8 839.2,533.9 840.0,534.5C840.8,535.1 841.8,536.9 841.2,538.0C840.6,539.1 837.6,541.1 836.2,541.2C834.8,541.3 833.0,539.9 833.0,538.8Z" fill="#3399ff"/>
<path d="M697.5,588.0C698.4,587.2 702.5,587.0 705.0,587.5C707.5,588.0 710.6,589.5 712.5,591.2C714.4,592.9 715.6,595.2 716.2,597.5C716.8,599.8 716.6,602.7 716.2,605.0C715.8,607.3 714.8,611.0 713.8,611.2C712.8,611.4 711.7,608.3 710.0,606.2C708.3,604.1 705.5,601.1 703.8,598.8C702.0,596.5 700.5,594.3 699.5,592.5C698.5,590.7 696.6,588.8 697.5,588.0Z" fill="#3399ff"/>
<path d="M677.5,621.2C677.3,619.5 678.8,617.4 680.0,616.2C681.2,615.0 683.0,614.1 684.5,614.2C686.0,614.3 688.0,615.7 688.8,617.0C689.6,618.3 689.6,620.6 689.2,622.0C688.8,623.4 687.5,624.8 686.2,625.5C684.9,626.2 682.7,626.9 681.2,626.2C679.8,625.5 677.7,622.9 677.5,621.2Z" fill="#3399ff"/>
<path d="M746.2,595.5C746.5,593.6 747.4,591.2 749.5,590.0C751.6,588.8 755.8,588.9 758.8,588.0C761.8,587.1 765.0,584.9 767.5,584.5C770.0,584.1 772.3,584.2 773.8,585.5C775.2,586.8 776.0,589.7 776.2,592.5C776.4,595.3 776.2,600.1 775.0,602.5C773.8,604.9 771.3,606.1 768.8,607.0C766.3,607.9 762.8,608.2 760.0,608.0C757.2,607.8 754.1,606.6 752.0,605.5C749.9,604.4 748.5,602.9 747.5,601.2C746.5,599.5 745.9,597.4 746.2,595.5Z" fill="#3399ff"/>
<path d="M726.7,672.4C726.4,669.4 727.9,667.8 729.0,666.7C730.1,665.6 731.8,665.0 733.6,665.6C735.4,666.2 737.8,668.2 739.7,670.1C741.6,672.0 743.8,674.7 744.9,677.0C746.0,679.3 746.6,681.9 746.1,683.8C745.6,685.7 743.7,687.4 742.0,688.4C740.3,689.4 737.7,690.1 735.8,689.5C733.9,688.9 732.1,687.8 730.6,684.9C729.1,682.0 727.0,675.4 726.7,672.4Z" fill="#3399ff"/>
<path d="M747.7,703.2C747.6,701.4 748.5,699.0 749.5,697.9C750.5,696.8 752.1,696.1 753.4,696.3C754.7,696.5 756.8,698.0 757.5,699.3C758.2,700.6 758.4,702.8 757.9,704.3C757.4,705.8 756.0,707.6 754.7,708.4C753.4,709.2 751.4,709.8 750.2,708.9C749.0,708.0 747.8,705.0 747.7,703.2Z" fill="#3399ff"/>
<path d="M792.8,721.4C792.7,720.3 793.7,718.6 794.6,718.0C795.5,717.4 797.0,717.0 798.0,717.5C799.0,718.0 800.1,719.6 800.3,720.7C800.5,721.9 799.8,723.7 799.0,724.4C798.2,725.1 796.3,725.3 795.3,724.8C794.3,724.3 792.9,722.5 792.8,721.4Z" fill="#3399ff"/>
<path d="M906.8,622.3C906.8,621.3 909.2,619.9 910.2,620.0C911.2,620.1 912.9,621.8 912.9,622.7C912.9,623.7 911.2,625.8 910.2,625.7C909.2,625.6 906.8,623.2 906.8,622.3Z" fill="#3399ff"/>
<path d="M927.3,640.5C927.2,639.0 928.5,637.2 929.5,636.4C930.5,635.6 932.2,635.0 933.4,635.5C934.5,636.0 936.2,637.9 936.4,639.4C936.6,640.9 935.8,643.6 934.8,644.6C933.8,645.6 931.5,646.2 930.2,645.5C929.0,644.8 927.4,642.0 927.3,640.5Z" fill="#3399ff"/>
<path d="M876.0,731.7C875.9,729.8 877.4,727.9 878.7,726.7C880.0,725.6 882.4,724.7 884.0,724.8C885.6,724.9 887.6,725.8 888.5,727.1C889.4,728.4 889.8,731.1 889.2,732.8C888.6,734.5 886.7,736.5 885.1,737.4C883.5,738.3 880.9,739.0 879.4,738.0C877.9,737.0 876.1,733.6 876.0,731.7Z" fill="#3399ff"/>
<path d="M814.5,825.1C813.2,823.3 815.8,816.2 816.7,814.2C817.7,812.2 819.1,812.9 820.2,813.3C821.4,813.7 822.9,814.4 823.6,816.4C824.4,818.4 826.2,823.6 824.7,825.1C823.2,826.6 815.8,826.9 814.5,825.1Z" fill="#3399ff"/>
<path d="M824.0,695.2C824.2,692.9 825.0,689.1 825.9,687.2C826.8,685.3 827.6,683.7 829.3,683.8C831.0,683.9 834.0,686.6 836.1,687.9C838.2,689.2 840.7,690.3 841.8,691.8C842.9,693.3 843.3,695.3 842.9,697.0C842.5,698.7 841.0,700.6 839.5,702.0C838.0,703.4 835.8,704.9 833.8,705.5C831.8,706.1 829.2,706.3 827.7,705.5C826.2,704.7 825.5,702.6 824.9,700.9C824.3,699.2 823.8,697.5 824.0,695.2Z" fill="#3399ff"/>
<path d="M801.7,743.3C802.0,741.9 802.8,740.4 804.2,740.0C805.6,739.6 808.3,740.0 810.0,740.8C811.7,741.6 812.7,746.0 814.2,745.0C815.7,744.0 817.7,738.6 819.2,735.0C820.7,731.4 822.2,726.5 823.3,723.3C824.4,720.1 824.5,717.5 825.8,715.8C827.0,714.1 829.0,713.1 830.8,713.3C832.6,713.4 835.2,715.0 836.7,716.7C838.2,718.4 838.1,721.6 840.0,723.3C841.9,725.0 844.7,725.3 848.3,726.7C851.9,728.1 858.6,729.9 861.7,731.7C864.8,733.5 866.2,735.0 867.0,737.5C867.8,740.0 867.0,743.8 866.3,746.7C865.5,749.6 861.9,752.8 862.5,755.0C863.1,757.2 867.6,758.6 870.0,760.0C872.4,761.4 875.1,761.9 876.7,763.3C878.3,764.7 879.7,766.2 879.7,768.3C879.7,770.4 877.8,773.6 876.7,775.8C875.6,778.0 874.7,779.9 873.3,781.7C871.9,783.5 868.9,784.2 868.3,786.7C867.7,789.2 869.2,793.4 869.7,796.7C870.2,800.0 871.2,803.7 871.3,806.7C871.3,809.8 870.5,812.0 870.0,815.0C869.5,818.0 873.0,823.3 868.3,825.0C863.6,826.7 846.4,827.8 841.7,825.0C837.0,822.2 840.3,812.6 840.0,808.3C839.7,804.0 839.3,801.7 839.7,799.2C840.1,796.7 841.1,794.8 842.5,793.3C843.9,791.8 847.3,792.2 848.3,790.0C849.3,787.8 849.4,782.5 848.3,780.0C847.2,777.5 844.2,775.1 841.7,775.0C839.2,774.9 836.4,778.5 833.3,779.2C830.2,779.9 826.6,779.6 823.3,779.2C820.0,778.8 816.1,777.4 813.3,776.7C810.5,776.0 808.8,776.1 806.7,775.0C804.6,773.9 801.9,772.2 800.8,770.0C799.7,767.8 799.6,763.9 800.0,761.7C800.4,759.5 802.2,758.4 803.3,756.7C804.4,755.0 806.8,753.1 806.7,751.7C806.6,750.3 803.3,749.7 802.5,748.3C801.7,746.9 801.4,744.7 801.7,743.3Z" fill="#3399ff"/>
<path d="M860.8,522.5C861.0,521.0 861.5,518.3 862.5,516.7C863.5,515.1 865.3,513.6 866.7,513.0C868.1,512.4 869.8,512.4 870.8,513.0C871.8,513.6 872.4,515.1 872.5,516.7C872.6,518.3 872.4,520.9 871.7,522.5C871.0,524.1 869.5,525.5 868.3,526.3C867.0,527.0 865.4,527.1 864.2,527.0C863.0,526.9 861.9,526.5 861.3,525.8C860.7,525.0 860.6,524.0 860.8,522.5Z" fill="#3399ff"/>
<path d="M833.3,537.5C833.4,536.6 834.7,535.2 835.8,534.7C836.9,534.2 838.9,534.2 839.7,534.7C840.5,535.2 841.0,536.6 840.8,537.5C840.6,538.4 839.6,539.5 838.7,540.0C837.8,540.5 836.2,540.7 835.3,540.3C834.4,539.9 833.2,538.4 833.3,537.5Z" fill="#3399ff"/>
<path d="M854.2,575.0C854.5,573.6 855.5,571.5 856.7,570.0C858.0,568.5 860.2,566.3 861.7,565.8C863.2,565.2 864.8,565.5 865.8,566.7C866.8,568.0 867.4,571.2 867.5,573.3C867.6,575.4 867.5,577.8 866.7,579.2C865.9,580.6 864.0,581.4 862.5,581.7C861.0,582.0 858.8,581.4 857.5,580.8C856.2,580.2 855.5,579.3 855.0,578.3C854.5,577.3 853.9,576.4 854.2,575.0Z" fill="#3399ff"/>
<path d="M870.0,590.0C870.2,588.8 871.2,586.8 872.5,586.7C873.8,586.6 876.3,588.0 877.5,589.2C878.7,590.5 879.6,592.7 879.7,594.2C879.8,595.7 879.1,597.5 878.3,598.0C877.5,598.5 875.9,598.1 874.7,597.5C873.5,596.9 872.1,595.5 871.3,594.2C870.5,593.0 869.8,591.2 870.0,590.0Z" fill="#3399ff"/>
<path d="M935.0,510.8C935.1,509.6 935.5,508.1 936.3,507.5C937.1,506.9 939.4,506.2 940.0,507.5C940.6,508.8 940.7,513.8 940.0,515.0C939.3,516.2 936.6,515.4 935.8,514.7C935.0,514.0 934.9,512.0 935.0,510.8Z" fill="#3399ff"/>
<path d="M358.5,138.8C358.9,137.6 362.2,136.1 366.2,135.0C370.2,133.9 377.9,133.2 382.5,132.5C387.1,131.8 390.9,131.0 393.8,131.0C396.7,131.0 398.6,131.7 400.0,132.5C401.4,133.3 402.9,134.5 402.5,135.6C402.1,136.7 400.2,137.9 397.5,138.8C394.8,139.7 390.1,140.4 386.2,141.2C382.2,142.0 377.5,143.6 373.8,143.8C370.1,144.0 366.4,143.3 363.8,142.5C361.2,141.7 358.1,140.1 358.5,138.8Z" fill="#0000ff"/>
<path d="M345.2,196.2C345.2,194.9 345.9,193.5 347.5,192.5C349.1,191.5 352.7,190.3 355.0,190.2C357.3,190.1 360.0,191.1 361.2,191.9C362.4,192.7 362.6,193.7 362.2,195.0C361.8,196.3 360.4,198.9 358.8,200.0C357.2,201.1 354.4,201.5 352.5,201.5C350.6,201.5 348.7,200.9 347.5,200.0C346.3,199.1 345.2,197.4 345.2,196.2Z" fill="#0000ff"/>
<path d="M398.1,187.5C397.5,186.2 399.2,185.5 401.2,184.4C403.2,183.3 406.9,182.8 410.0,181.2C413.1,179.6 416.7,176.3 420.0,175.0C423.3,173.7 426.2,173.7 430.0,173.5C433.8,173.3 439.4,173.3 442.5,174.0C445.6,174.7 447.4,176.1 448.8,177.5C450.2,178.9 451.7,181.1 450.6,182.5C449.6,183.9 446.4,184.8 442.5,186.2C438.6,187.6 432.1,189.8 427.5,191.2C422.9,192.6 418.8,194.6 415.0,194.8C411.2,195.0 407.8,193.7 405.0,192.5C402.2,191.3 398.7,188.8 398.1,187.5Z" fill="#0000ff"/>
<path d="M562.5,195.0C562.8,194.0 563.8,192.8 566.7,191.7C569.6,190.6 574.5,189.3 580.0,188.3C585.5,187.3 593.9,186.5 600.0,185.8C606.1,185.1 611.2,184.5 616.7,184.2C622.2,183.9 630.1,183.8 633.3,184.2C636.5,184.6 635.8,185.3 635.8,186.7C635.8,188.1 632.9,191.1 633.3,192.5C633.7,193.9 635.5,194.0 638.3,195.0C641.1,196.0 645.3,198.6 650.0,198.3C654.7,198.0 663.1,194.8 666.7,193.3C670.3,191.8 670.6,188.9 671.7,189.2C672.8,189.5 672.8,192.9 673.3,195.0C673.8,197.1 673.3,200.6 675.0,201.7C676.7,202.8 680.8,202.1 683.3,201.7C685.8,201.3 688.0,198.9 690.0,199.2C692.0,199.5 692.2,202.2 695.0,203.3C697.8,204.4 704.2,204.8 706.7,205.8C709.2,206.8 710.3,207.8 710.0,209.2C709.7,210.6 707.2,212.9 705.0,214.2C702.8,215.4 699.2,216.3 696.7,216.7C694.2,217.1 692.8,215.9 690.0,216.7C687.2,217.5 682.5,220.0 680.0,221.7C677.5,223.4 678.6,225.9 675.0,226.7C671.4,227.5 663.0,226.1 658.3,226.7C653.6,227.2 650.0,229.7 646.7,230.0C643.4,230.3 642.2,229.1 638.3,228.3C634.4,227.5 628.6,225.1 623.3,225.0C618.0,224.9 610.6,226.4 606.7,227.5C602.8,228.6 602.5,231.0 600.0,231.7C597.5,232.4 594.5,232.5 591.7,231.7C588.9,230.9 586.4,228.5 583.3,226.7C580.2,224.9 573.8,223.0 573.3,220.8C572.8,218.6 578.6,215.4 580.0,213.3C581.4,211.2 582.8,210.2 581.7,208.3C580.6,206.4 576.1,203.5 573.3,201.7C570.5,199.9 566.8,198.6 565.0,197.5C563.2,196.4 562.2,196.0 562.5,195.0Z" fill="#0000ff"/>
<path d="M643.0,178.3C643.0,177.6 644.3,176.7 645.8,176.3C647.2,176.0 650.2,175.9 651.7,176.2C653.2,176.5 654.7,177.6 654.7,178.3C654.7,179.0 653.2,179.9 651.7,180.3C650.2,180.7 647.2,180.8 645.8,180.5C644.3,180.2 643.0,179.0 643.0,178.3Z" fill="#0000ff"/>
<path d="M731.7,171.7C731.8,171.2 733.1,170.5 734.2,170.3C735.3,170.1 737.8,170.3 738.3,170.7C738.8,171.1 738.3,172.3 737.5,172.7C736.7,173.1 734.7,173.5 733.7,173.3C732.7,173.1 731.6,172.2 731.7,171.7Z" fill="#0000ff"/>
<path d="M765.0,200.8C765.0,200.0 766.6,198.7 768.3,198.3C770.0,197.9 773.3,197.9 775.0,198.3C776.7,198.7 778.3,199.9 778.3,200.8C778.3,201.7 776.7,203.3 775.0,203.7C773.3,204.1 770.0,203.8 768.3,203.3C766.6,202.8 765.0,201.6 765.0,200.8Z" fill="#0000ff"/>
<path d="M789.2,200.8C789.8,200.2 792.3,199.2 794.2,198.7C796.1,198.2 799.6,197.8 800.8,198.0C802.0,198.2 802.1,199.3 801.3,200.0C800.5,200.7 797.5,201.6 795.8,202.0C794.0,202.4 791.9,202.7 790.8,202.5C789.7,202.3 788.6,201.4 789.2,200.8Z" fill="#0000ff"/>
<path d="M721.7,215.0C723.1,213.6 728.1,210.7 731.7,209.2C735.3,207.7 740.9,206.0 743.3,205.8C745.6,205.7 746.6,207.1 745.8,208.3C745.0,209.6 741.2,211.8 738.3,213.3C735.4,214.8 730.8,216.8 728.3,217.5C725.8,218.2 724.4,217.9 723.3,217.5C722.2,217.1 720.3,216.4 721.7,215.0Z" fill="#0000ff"/>
<path d="M704.2,245.8C704.5,244.3 705.1,241.9 708.3,240.8C711.5,239.7 718.0,239.9 723.3,239.2C728.6,238.5 734.4,236.6 740.0,236.7C745.6,236.8 752.2,238.6 756.7,240.0C761.2,241.4 764.5,243.3 766.7,245.0C768.9,246.7 770.3,248.2 770.0,250.0C769.7,251.8 767.2,254.1 765.0,255.8C762.8,257.5 759.5,259.0 756.7,260.0C753.9,261.0 751.1,261.8 748.3,261.7C745.5,261.6 743.0,260.3 740.0,259.2C737.0,258.1 734.2,256.1 730.0,255.0C725.8,253.9 718.9,253.3 715.0,252.5C711.1,251.7 708.5,251.1 706.7,250.0C704.9,248.9 703.9,247.3 704.2,245.8Z" fill="#0000ff"/>
<path d="M906.3,314.2C906.1,313.2 907.1,312.3 908.3,311.7C909.5,311.1 912.0,310.5 913.3,310.8C914.6,311.1 916.1,312.3 916.3,313.3C916.4,314.3 915.4,316.0 914.2,316.7C913.0,317.4 910.5,317.9 909.2,317.5C907.9,317.1 906.4,315.2 906.3,314.2Z" fill="#0000ff"/>
<path d="M822.5,356.7C823.1,356.1 826.2,355.9 826.7,356.3C827.2,356.7 825.9,358.6 825.3,359.2C824.7,359.8 823.8,360.4 823.3,360.0C822.8,359.6 821.9,357.3 822.5,356.7Z" fill="#0000ff"/>
<path d="M778.0,295.0C778.8,293.2 780.8,289.9 783.3,288.7C785.8,287.4 790.4,287.0 793.3,287.5C796.2,288.0 798.8,289.9 800.8,291.7C802.8,293.5 802.4,296.8 805.0,298.3C807.6,299.8 813.4,300.1 816.7,300.8C820.0,301.5 823.6,301.2 825.0,302.5C826.4,303.8 822.8,306.6 825.0,308.3C827.2,310.0 835.5,311.1 838.3,312.5C841.1,313.9 842.0,314.8 842.0,316.7C842.0,318.6 840.3,322.1 838.3,324.2C836.3,326.3 833.3,328.2 830.0,329.2C826.7,330.2 821.9,330.1 818.3,330.0C814.7,329.9 811.3,329.7 808.3,328.3C805.2,326.9 803.0,324.2 800.0,321.7C797.0,319.2 793.0,316.1 790.0,313.3C787.0,310.5 783.6,307.4 781.7,305.0C779.8,302.6 779.3,300.9 778.7,299.2C778.1,297.5 777.2,296.8 778.0,295.0Z" fill="#0000ff"/>
<path d="M305.0,297.0C305.6,296.3 307.8,295.3 308.8,295.5C309.8,295.7 311.2,297.2 311.2,298.0C311.2,298.8 309.8,300.2 308.8,300.5C307.9,300.8 306.1,300.1 305.5,299.5C304.9,298.9 304.4,297.7 305.0,297.0Z" fill="#0000ff"/>
<path d="M381.2,336.2C381.4,334.3 383.1,332.2 385.0,331.2C386.9,330.2 390.6,329.2 392.5,330.0C394.4,330.8 394.9,333.7 396.2,336.2C397.4,338.7 399.4,342.3 400.0,345.0C400.6,347.7 400.8,350.7 400.0,352.5C399.2,354.3 396.9,355.4 395.0,355.8C393.1,356.2 390.4,356.2 388.8,355.0C387.2,353.8 386.3,350.9 385.5,348.8C384.7,346.7 384.5,344.6 383.8,342.5C383.1,340.4 381.0,338.1 381.2,336.2Z" fill="#0000ff"/>
<path d="M415.0,365.0C415.0,363.7 416.2,361.3 417.5,360.0C418.8,358.7 420.8,357.3 422.5,357.0C424.2,356.7 426.7,357.3 428.0,358.0C429.3,358.7 430.5,359.9 430.5,361.2C430.5,362.4 429.3,364.4 428.0,365.5C426.7,366.6 424.2,367.6 422.5,368.0C420.8,368.4 418.8,368.5 417.5,368.0C416.2,367.5 415.0,366.3 415.0,365.0Z" fill="#0000ff"/>
<path d="M545.0,352.5C545.5,349.9 546.7,348.6 548.8,347.0C550.9,345.4 555.0,343.8 557.5,343.0C560.0,342.2 562.8,341.5 563.8,342.5C564.8,343.5 564.4,345.9 563.8,348.8C563.2,351.7 561.5,356.9 560.0,360.0C558.5,363.1 556.9,366.0 555.0,367.5C553.1,369.0 550.4,369.6 548.8,368.8C547.2,368.0 546.1,365.2 545.5,362.5C544.9,359.8 544.5,355.1 545.0,352.5Z" fill="#0000ff"/>
<path d="M618.0,333.8C618.0,332.6 619.1,330.6 620.5,329.5C621.9,328.4 624.4,327.1 626.2,327.0C628.0,326.9 630.4,327.8 631.2,328.8C632.0,329.8 632.0,331.7 631.2,333.0C630.4,334.3 628.0,335.8 626.2,336.5C624.4,337.2 621.9,337.4 620.5,337.0C619.1,336.6 618.0,335.1 618.0,333.8Z" fill="#0000ff"/>
<path d="M893.3,389.2C893.3,388.2 894.3,386.6 895.0,386.3C895.7,386.0 897.2,386.7 897.5,387.5C897.8,388.3 897.5,390.5 897.0,391.3C896.5,392.1 895.3,392.9 894.7,392.5C894.1,392.1 893.2,390.2 893.3,389.2Z" fill="#0000ff"/>
<path d="M872.0,415.8C871.9,414.4 873.2,412.5 874.2,410.8C875.2,409.1 876.8,407.0 878.3,405.8C879.8,404.6 881.9,403.8 883.3,403.7C884.7,403.6 886.1,404.1 886.7,405.0C887.3,405.9 887.4,407.7 887.0,409.2C886.6,410.7 885.4,412.7 884.2,414.2C883.0,415.7 881.2,417.2 879.7,418.0C878.2,418.8 876.3,419.6 875.0,419.2C873.7,418.8 872.1,417.2 872.0,415.8Z" fill="#0000ff"/>
<path d="M906.7,405.3C906.8,404.4 907.5,402.8 908.3,402.0C909.1,401.2 910.3,400.4 911.3,400.3C912.3,400.2 913.7,400.9 914.2,401.7C914.7,402.5 914.7,404.3 914.2,405.3C913.7,406.3 912.3,407.1 911.3,407.5C910.3,407.9 908.8,407.9 908.0,407.5C907.2,407.1 906.7,406.2 906.7,405.3Z" fill="#0000ff"/>
<path d="M910.3,430.8C910.2,429.5 910.9,427.3 911.7,425.8C912.5,424.3 913.6,422.8 915.0,421.7C916.4,420.6 918.6,419.4 920.0,419.2C921.4,419.0 922.6,419.5 923.3,420.3C924.0,421.1 924.5,422.7 924.2,424.2C923.9,425.7 922.8,427.7 921.7,429.2C920.6,430.7 919.0,432.2 917.5,433.0C916.0,433.8 913.7,434.1 912.5,433.7C911.3,433.3 910.4,432.1 910.3,430.8Z" fill="#0000ff"/>
<path d="M930.3,435.3C930.4,434.7 931.9,433.6 932.5,433.7C933.1,433.8 933.8,435.2 933.7,435.8C933.6,436.4 932.3,437.6 931.7,437.5C931.1,437.4 930.2,435.9 930.3,435.3Z" fill="#0000ff"/>
<path d="M810.8,421.3C810.8,420.8 812.3,419.9 813.0,420.0C813.7,420.1 815.0,421.2 815.0,421.7C815.0,422.2 814.0,423.1 813.3,423.0C812.6,422.9 810.8,421.8 810.8,421.3Z" fill="#0000ff"/>
<path d="M522.0,645.0C521.8,643.1 523.2,640.1 524.5,637.5C525.8,634.9 528.0,631.2 529.5,629.5C531.0,627.8 532.7,626.8 533.8,627.0C534.9,627.2 535.8,628.5 536.2,630.5C536.6,632.5 536.9,636.4 536.2,638.8C535.5,641.2 533.8,643.3 532.0,645.0C530.2,646.7 527.2,648.8 525.5,648.8C523.8,648.8 522.2,646.9 522.0,645.0Z" fill="#0000ff"/>
<path d="M507.5,701.2C507.8,699.8 509.1,697.6 510.5,696.2C511.9,694.8 514.4,693.3 516.2,693.0C518.0,692.7 520.2,693.4 521.2,694.5C522.2,695.6 522.5,698.0 522.0,699.5C521.5,701.0 519.6,702.8 518.0,703.8C516.4,704.8 514.0,705.4 512.5,705.5C511.0,705.6 509.6,705.2 508.8,704.5C508.0,703.8 507.2,702.6 507.5,701.2Z" fill="#0000ff"/>
<path d="M404.8,640.5C404.8,641.4 404.3,642.6 403.6,643.3C402.9,644.0 401.8,644.5 400.8,644.5C399.9,644.5 398.6,644.0 397.9,643.3C397.2,642.6 396.8,641.4 396.8,640.5C396.8,639.6 397.2,638.4 397.9,637.7C398.6,637.0 399.9,636.5 400.8,636.5C401.8,636.5 402.9,637.0 403.6,637.7C404.3,638.4 404.8,639.6 404.8,640.5Z" fill="#0000ff"/>
<path d="M307.3,822.7C289.3,821.8 305.5,820.2 307.3,817.3C309.1,814.4 314.4,808.0 318.0,805.3C321.6,802.6 324.9,803.7 328.7,801.3C332.5,798.9 337.6,793.8 340.7,790.7C343.8,787.6 346.2,786.3 347.3,782.7C348.4,779.1 347.0,773.3 347.3,769.3C347.6,765.3 349.1,762.5 349.3,758.7C349.5,754.9 348.1,749.3 348.7,746.7C349.3,744.1 350.9,742.9 352.7,743.3C354.5,743.7 356.6,749.2 359.3,749.3C362.0,749.4 365.8,746.4 368.7,744.0C371.6,741.6 373.6,737.0 376.7,734.7C379.8,732.4 383.3,731.5 387.3,730.0C391.3,728.5 397.2,726.7 400.7,726.0C404.1,725.3 406.7,725.3 408.0,726.0C409.3,726.7 409.2,727.2 408.7,730.0C408.1,732.8 404.9,740.0 404.7,742.7C404.5,745.4 405.1,745.2 407.3,746.0C409.5,746.8 414.4,747.8 418.0,747.3C421.6,746.8 425.5,743.5 428.7,742.7C431.9,741.9 435.2,742.0 437.3,742.7C439.4,743.4 441.4,744.9 441.3,746.7C441.2,748.5 438.8,751.2 436.7,753.3C434.6,755.4 431.4,757.7 428.7,759.3C426.0,760.9 422.5,761.7 420.7,762.7C418.9,763.7 418.1,763.5 418.0,765.3C417.9,767.1 418.9,770.6 420.0,773.3C421.1,776.0 424.4,779.3 424.7,781.3C425.0,783.3 423.8,784.6 422.0,785.3C420.2,786.0 417.1,784.8 414.0,785.3C410.9,785.8 406.2,786.7 403.3,788.0C400.4,789.3 397.5,790.6 396.7,793.3C395.9,796.0 397.4,801.1 398.7,804.0C400.0,806.9 402.1,808.8 404.7,810.7C407.2,812.6 412.2,813.3 414.0,815.3C415.8,817.3 433.1,821.5 415.3,822.7C397.5,823.9 325.3,823.6 307.3,822.7Z" fill="#0000ff"/>
<path d="M342.7,724.0C342.9,722.1 343.5,719.5 344.7,718.0C345.9,716.5 348.3,715.0 350.0,714.9C351.7,714.8 353.9,715.7 354.7,717.1C355.5,718.5 355.3,721.3 354.9,723.3C354.4,725.3 353.3,727.9 352.0,729.3C350.7,730.7 348.7,731.7 347.3,731.7C345.9,731.7 344.4,730.4 343.6,729.1C342.8,727.8 342.5,725.9 342.7,724.0Z" fill="#0000ff"/>
<path d="M380.0,656.2C380.4,654.3 382.7,651.6 385.0,651.2C387.3,650.8 391.6,652.5 393.8,653.8C396.0,655.1 397.5,655.7 398.0,658.8C398.5,661.9 397.4,667.7 397.0,672.5C396.6,677.3 396.0,682.1 395.5,687.5C395.0,692.9 394.4,700.3 393.8,705.0C393.2,709.7 393.5,713.4 392.0,715.5C390.5,717.6 387.9,717.5 385.0,717.5C382.1,717.5 376.8,716.5 374.5,715.5C372.2,714.5 371.3,713.8 371.2,711.2C371.1,708.6 372.8,704.4 373.8,700.0C374.9,695.6 376.3,690.0 377.5,685.0C378.7,680.0 380.4,673.8 381.2,670.0C382.0,666.2 382.7,664.8 382.5,662.5C382.3,660.2 379.6,658.1 380.0,656.2Z" fill="#0000ff"/>
<path d="M418.0,778.7C418.4,777.9 420.2,777.6 421.3,778.0C422.4,778.4 424.2,780.1 424.7,781.3C425.1,782.5 424.6,784.6 424.0,785.3C423.4,786.0 422.2,785.7 421.3,785.3C420.4,784.9 419.2,783.8 418.7,782.7C418.1,781.6 417.6,779.5 418.0,778.7Z" fill="#0000ff"/>
<path d="M503.0,734.0C503.2,732.3 503.8,729.5 505.0,728.0C506.2,726.5 508.3,725.4 510.0,725.0C511.7,724.6 514.0,725.0 515.0,725.8C516.0,726.6 516.5,728.3 516.2,730.0C516.0,731.7 514.9,734.3 513.5,735.8C512.1,737.3 509.6,738.4 508.0,738.8C506.4,739.2 504.8,738.8 504.0,738.0C503.2,737.2 502.8,735.7 503.0,734.0Z" fill="#0000ff"/>
<path d="M459.5,743.0C459.6,741.6 460.8,740.2 462.5,738.8C464.2,737.4 467.1,735.4 469.5,734.5C471.9,733.6 475.2,732.9 477.0,733.2C478.8,733.5 480.2,734.9 480.5,736.2C480.8,737.5 480.0,739.5 478.8,741.2C477.6,742.9 475.2,744.9 473.2,746.2C471.2,747.5 468.9,748.7 467.0,748.8C465.1,748.9 463.2,748.0 462.0,747.0C460.8,746.0 459.4,744.4 459.5,743.0Z" fill="#0000ff"/>
<path d="M507.5,770.0C507.5,768.5 508.9,766.2 510.0,765.5C511.1,764.8 512.8,764.8 513.8,765.5C514.8,766.2 515.8,768.1 515.8,769.5C515.8,770.9 514.8,773.0 513.8,773.8C512.8,774.6 511.1,775.1 510.0,774.5C508.9,773.9 507.5,771.5 507.5,770.0Z" fill="#0000ff"/>
<path d="M440.8,825.0C438.9,823.2 441.5,816.7 442.5,814.2C443.5,811.8 445.2,810.9 446.7,810.3C448.2,809.7 450.4,810.0 451.7,810.8C452.9,811.6 453.8,812.6 454.2,815.0C454.6,817.4 456.4,823.3 454.2,825.0C452.0,826.7 442.8,826.8 440.8,825.0Z" fill="#0000ff"/>
<path d="M479.2,775.0C479.4,772.6 480.1,770.5 481.3,769.2C482.5,767.9 484.6,767.2 486.3,767.0C488.0,766.8 490.2,766.9 491.7,767.7C493.1,768.5 494.1,769.7 495.0,771.7C495.9,773.7 496.3,777.4 497.0,779.7C497.7,782.1 497.8,784.1 499.2,785.8C500.6,787.5 504.1,788.0 505.3,790.0C506.6,792.0 506.9,794.9 506.7,797.5C506.4,800.1 504.9,803.2 503.8,805.8C502.7,808.4 501.1,810.1 500.0,813.3C498.9,816.5 501.7,823.0 497.5,825.0C493.3,827.0 479.0,827.0 475.0,825.0C471.0,823.0 474.1,816.3 473.7,813.3C473.3,810.2 471.7,808.2 472.5,806.7C473.3,805.2 475.9,805.3 478.3,804.2C480.7,803.1 484.8,801.8 486.7,800.0C488.6,798.2 490.4,795.0 490.0,793.3C489.6,791.6 485.9,791.7 484.2,790.0C482.5,788.3 480.8,785.8 480.0,783.3C479.2,780.8 479.0,777.4 479.2,775.0Z" fill="#0000ff"/>
<path d="M545.0,778.3C545.0,776.5 546.3,775.0 547.5,773.7C548.7,772.5 550.3,771.4 552.0,770.8C553.7,770.2 556.0,769.6 557.7,770.0C559.4,770.4 561.1,771.8 562.0,773.3C562.9,774.8 563.2,777.0 563.0,778.7C562.8,780.4 561.7,782.4 560.5,783.7C559.3,785.0 557.3,786.1 555.8,786.7C554.3,787.3 552.7,787.6 551.3,787.2C549.9,786.8 548.2,785.7 547.2,784.2C546.2,782.7 545.0,780.0 545.0,778.3Z" fill="#0000ff"/>
<path d="M748.0,478.8C748.1,478.3 749.3,477.2 749.5,477.5C749.7,477.8 749.2,480.3 749.0,480.5C748.8,480.7 747.9,479.3 748.0,478.8Z" fill="#0000ff"/>
<path d="M700.0,590.0C700.8,589.1 704.1,588.5 706.2,589.0C708.3,589.5 711.0,591.4 712.5,593.0C714.0,594.6 714.6,597.0 715.0,598.8C715.4,600.6 715.6,602.8 715.0,603.8C714.4,604.8 712.9,605.6 711.2,605.0C709.5,604.4 706.7,601.8 705.0,600.0C703.3,598.2 702.0,596.2 701.2,594.5C700.4,592.8 699.2,590.9 700.0,590.0Z" fill="#0000ff"/>
<path d="M681.2,620.5C681.4,619.6 682.2,617.9 683.0,617.5C683.8,617.1 685.5,617.4 686.2,618.0C686.9,618.6 687.3,620.3 687.0,621.2C686.7,622.1 685.3,622.9 684.5,623.2C683.7,623.5 682.5,623.5 682.0,623.0C681.5,622.5 681.0,621.4 681.2,620.5Z" fill="#0000ff"/>
<path d="M748.0,595.5C748.4,594.0 749.3,591.8 751.2,590.8C753.1,589.8 756.8,590.0 759.5,589.2C762.2,588.4 765.2,586.3 767.5,586.0C769.8,585.7 771.8,586.2 773.0,587.5C774.2,588.8 774.9,591.5 775.0,593.8C775.1,596.1 775.0,599.2 773.8,601.2C772.6,603.2 770.3,604.7 768.0,605.5C765.7,606.3 762.5,606.5 760.0,606.2C757.5,605.9 754.8,604.8 753.0,603.8C751.2,602.8 749.8,601.4 749.0,600.0C748.2,598.6 747.6,597.0 748.0,595.5Z" fill="#0000ff"/>
<path d="M731.3,681.5C731.2,679.8 731.9,678.0 732.9,677.0C733.9,676.0 736.0,675.5 737.4,675.8C738.8,676.1 740.7,677.4 741.5,678.8C742.3,680.2 742.6,682.8 742.0,684.3C741.4,685.8 739.5,687.4 738.1,687.9C736.7,688.4 734.7,688.3 733.6,687.2C732.5,686.1 731.4,683.2 731.3,681.5Z" fill="#0000ff"/>
<path d="M751.1,702.5C751.2,701.6 752.1,699.9 752.9,699.8C753.7,699.6 755.4,700.8 755.7,701.6C756.0,702.4 755.3,704.2 754.7,704.8C754.1,705.4 752.6,705.4 752.0,705.0C751.4,704.6 751.0,703.4 751.1,702.5Z" fill="#0000ff"/>
<path d="M930.2,639.6C930.4,639.2 931.7,638.5 932.1,638.7C932.5,638.9 932.7,640.5 932.5,641.0C932.3,641.5 931.1,641.6 930.7,641.4C930.3,641.2 930.0,640.0 930.2,639.6Z" fill="#0000ff"/>
<path d="M816.3,825.1C815.8,823.4 818.1,816.1 819.0,814.8C819.9,813.5 821.3,815.4 821.8,817.1C822.3,818.8 822.7,823.8 821.8,825.1C820.9,826.4 816.8,826.8 816.3,825.1Z" fill="#0000ff"/>
<path d="M825.9,696.3C826.0,694.6 826.8,691.9 827.7,690.6C828.6,689.3 829.9,688.5 831.5,688.4C833.1,688.3 835.7,689.2 837.2,690.2C838.7,691.2 840.2,692.6 840.7,694.1C841.2,695.6 840.8,697.8 840.0,699.3C839.2,700.8 837.7,702.4 836.1,703.2C834.5,704.0 831.9,704.3 830.4,703.9C828.9,703.5 827.8,702.2 827.0,700.9C826.2,699.6 825.8,698.0 825.9,696.3Z" fill="#0000ff"/>
<path d="M805.8,756.7C807.4,755.5 809.6,754.5 811.7,754.2C813.8,753.9 817.2,756.0 818.3,755.0C819.4,754.0 818.8,750.5 818.3,748.3C817.8,746.1 815.0,744.2 815.3,741.7C815.6,739.2 818.4,736.1 820.0,733.3C821.6,730.5 823.9,727.6 825.0,725.0C826.1,722.4 825.7,719.2 826.7,717.5C827.7,715.8 829.3,714.9 830.8,715.0C832.3,715.1 834.4,716.4 835.8,718.0C837.2,719.6 837.2,723.0 839.2,724.7C841.2,726.4 843.9,726.6 847.5,728.0C851.1,729.4 857.8,731.3 860.8,733.0C863.8,734.7 865.1,736.0 865.8,738.3C866.5,740.6 865.8,743.9 865.0,746.7C864.2,749.5 860.6,752.9 861.3,755.3C862.0,757.7 866.9,759.7 869.2,761.3C871.5,762.9 873.9,763.5 875.3,764.7C876.7,765.9 877.8,766.6 877.7,768.3C877.7,770.0 876.0,772.9 875.0,775.0C874.0,777.1 873.0,779.1 871.7,780.8C870.4,782.5 867.6,782.6 867.0,785.3C866.4,787.9 867.8,793.1 868.3,796.7C868.8,800.3 870.0,803.7 870.0,806.7C870.0,809.8 868.8,812.0 868.3,815.0C867.8,818.0 870.7,823.3 866.7,825.0C862.7,826.7 848.2,827.8 844.2,825.0C840.2,822.2 842.9,812.5 842.5,808.3C842.1,804.1 841.4,802.4 841.7,800.0C842.0,797.6 842.8,795.9 844.2,794.2C845.6,792.5 849.2,792.6 850.0,790.0C850.8,787.4 850.6,781.1 849.2,778.3C847.8,775.5 844.4,773.4 841.7,773.3C839.1,773.2 836.4,776.7 833.3,777.5C830.2,778.3 826.3,778.4 823.3,778.0C820.2,777.6 817.5,775.6 815.0,775.0C812.5,774.4 810.5,775.2 808.3,774.2C806.1,773.2 803.0,771.3 802.0,769.2C801.0,767.1 801.4,763.8 802.0,761.7C802.6,759.6 804.2,758.0 805.8,756.7Z" fill="#0000ff"/>
<path d="M803.7,745.0C803.6,744.1 804.5,742.9 805.3,742.5C806.1,742.1 807.8,742.1 808.7,742.5C809.6,742.9 810.7,744.2 810.8,745.0C810.9,745.8 810.0,747.0 809.2,747.5C808.4,748.0 806.7,748.2 805.8,747.8C804.9,747.4 803.8,745.9 803.7,745.0Z" fill="#0000ff"/>
<path d="M863.3,520.8C863.3,519.7 864.2,517.9 865.0,517.0C865.8,516.1 867.1,515.2 868.0,515.3C868.9,515.4 870.1,516.5 870.5,517.5C870.9,518.5 870.7,520.3 870.3,521.3C869.9,522.3 868.9,523.3 868.0,523.7C867.1,524.1 865.8,524.2 865.0,523.7C864.2,523.2 863.3,521.9 863.3,520.8Z" fill="#0000ff"/>
<path d="M857.0,574.7C857.0,573.3 858.3,571.4 859.2,570.3C860.1,569.2 861.5,568.2 862.5,568.3C863.5,568.4 864.5,569.5 865.0,570.8C865.5,572.0 865.6,574.5 865.3,575.8C865.0,577.1 864.0,578.2 863.0,578.7C862.0,579.2 860.2,579.4 859.2,578.7C858.2,578.0 857.0,576.1 857.0,574.7Z" fill="#0000ff"/>
<path d="M874.2,592.5C874.3,592.0 875.4,591.1 875.8,591.3C876.2,591.5 876.8,593.2 876.7,593.7C876.6,594.2 875.4,594.4 875.0,594.2C874.6,594.0 874.1,593.0 874.2,592.5Z" fill="#0000ff"/>
<path d="M363.1,139.4C363.7,138.7 367.8,137.7 370.0,137.5C372.2,137.3 374.1,138.9 376.2,138.5C378.3,138.1 379.8,135.8 382.5,135.0C385.2,134.2 390.1,133.5 392.5,133.5C394.9,133.5 396.5,134.4 396.9,135.0C397.3,135.6 396.8,136.3 395.0,136.9C393.2,137.5 388.7,138.2 386.2,138.8C383.7,139.4 382.3,140.1 380.0,140.6C377.7,141.1 374.8,141.8 372.5,141.9C370.2,142.1 367.8,141.9 366.2,141.5C364.6,141.1 362.5,140.1 363.1,139.4Z" fill="#00ff00"/>
<path d="M346.2,196.2C346.3,195.2 347.3,193.9 348.8,193.1C350.3,192.3 353.2,191.6 355.0,191.5C356.8,191.4 358.6,192.0 359.4,192.8C360.2,193.6 360.3,195.1 360.0,196.2C359.7,197.3 358.8,198.7 357.5,199.4C356.2,200.1 354.1,200.7 352.5,200.6C350.9,200.5 349.2,199.7 348.1,199.0C347.1,198.3 346.1,197.2 346.2,196.2Z" fill="#00ff00"/>
<path d="M405.0,187.5C405.0,186.0 407.5,184.9 410.0,183.1C412.5,181.3 416.7,178.2 420.0,176.9C423.3,175.6 426.2,175.2 430.0,175.0C433.8,174.8 439.6,175.0 442.5,175.6C445.4,176.2 446.6,177.7 447.5,178.8C448.4,180.0 449.4,181.4 448.1,182.5C446.9,183.6 443.4,184.4 440.0,185.6C436.6,186.8 431.2,188.2 427.5,189.4C423.8,190.6 420.4,192.1 417.5,192.5C414.6,192.9 412.1,192.7 410.0,191.9C407.9,191.1 405.0,189.0 405.0,187.5Z" fill="#00ff00"/>
<path d="M730.0,212.5C730.4,211.8 733.0,210.4 734.2,210.0C735.5,209.6 737.2,209.8 737.5,210.3C737.8,210.8 736.8,212.3 735.8,213.0C734.8,213.7 732.7,214.4 731.7,214.3C730.7,214.2 729.6,213.2 730.0,212.5Z" fill="#00ff00"/>
<path d="M567.5,194.2C568.6,193.1 571.8,191.1 575.0,190.0C578.2,188.9 582.5,188.1 586.7,187.5C590.9,186.9 595.0,187.1 600.0,186.7C605.0,186.3 611.7,185.0 616.7,185.0C621.7,185.0 627.4,185.3 630.0,186.7C632.6,188.1 630.5,191.6 632.5,193.3C634.5,195.0 638.0,196.1 641.7,196.7C645.5,197.3 650.8,196.8 655.0,196.7C659.2,196.5 663.7,194.7 666.7,195.8C669.8,196.9 670.8,201.9 673.3,203.3C675.8,204.7 678.9,204.6 681.7,204.2C684.5,203.8 688.1,200.5 690.0,200.8C691.9,201.1 690.7,204.4 693.3,205.8C695.9,207.2 704.4,207.9 705.8,209.2C707.2,210.4 704.3,212.2 701.7,213.3C699.1,214.4 693.6,215.0 690.0,215.8C686.4,216.6 682.8,217.1 680.0,218.3C677.2,219.6 676.9,222.3 673.3,223.3C669.7,224.3 662.7,223.5 658.3,224.2C653.9,224.9 650.0,227.2 646.7,227.5C643.4,227.8 642.2,226.6 638.3,225.8C634.4,225.0 628.6,222.6 623.3,222.5C618.0,222.4 610.6,225.3 606.7,225.0C602.8,224.7 602.8,221.1 600.0,220.8C597.2,220.5 592.9,223.4 590.0,223.3C587.1,223.2 583.0,221.9 582.5,220.0C582.0,218.1 586.6,213.9 586.7,211.7C586.8,209.5 585.2,208.6 583.3,206.7C581.3,204.8 577.5,201.7 575.0,200.0C572.5,198.3 569.5,197.7 568.3,196.7C567.0,195.7 566.4,195.3 567.5,194.2Z" fill="#00ff00"/>
<path d="M706.7,245.8C707.1,244.6 708.0,242.6 710.8,241.7C713.6,240.8 718.4,240.9 723.3,240.3C728.2,239.7 734.7,237.8 740.0,238.0C745.3,238.2 750.8,240.0 755.0,241.3C759.2,242.6 762.9,244.4 765.0,245.8C767.1,247.2 767.8,248.5 767.5,250.0C767.2,251.5 765.4,253.6 763.3,255.0C761.2,256.4 757.5,257.8 755.0,258.7C752.5,259.6 750.8,260.5 748.3,260.3C745.8,260.1 743.0,258.7 740.0,257.5C737.0,256.3 734.2,254.4 730.0,253.3C725.8,252.2 718.6,251.6 715.0,250.8C711.4,250.0 709.7,249.5 708.3,248.7C706.9,247.9 706.3,247.0 706.7,245.8Z" fill="#00ff00"/>
<path d="M908.0,314.3C908.0,313.7 908.8,313.1 909.7,312.7C910.6,312.3 912.5,312.0 913.3,312.2C914.1,312.4 914.8,313.1 914.7,313.7C914.7,314.3 913.8,315.3 913.0,315.7C912.2,316.1 910.5,316.4 909.7,316.2C908.9,316.0 908.0,314.9 908.0,314.3Z" fill="#00ff00"/>
<path d="M779.2,295.8C780.0,294.3 781.9,291.2 784.2,290.0C786.6,288.8 790.7,288.3 793.3,288.7C795.9,289.1 797.9,290.8 799.7,292.5C801.5,294.2 801.5,297.6 804.2,299.2C806.9,300.8 812.6,301.2 815.8,302.0C819.0,302.8 821.9,303.0 823.3,304.2C824.7,305.4 821.8,307.6 824.2,309.2C826.6,310.8 834.7,312.4 837.5,313.7C840.3,315.0 840.8,315.4 840.8,317.0C840.8,318.6 839.4,321.5 837.5,323.3C835.6,325.1 832.4,327.1 829.2,328.0C826.0,328.9 821.6,328.9 818.3,328.7C815.0,328.5 812.1,328.4 809.2,327.0C806.3,325.6 803.9,322.8 800.8,320.3C797.7,317.8 793.8,314.7 790.8,312.0C787.8,309.3 784.4,306.3 782.5,304.2C780.6,302.1 780.2,300.6 779.7,299.2C779.2,297.8 778.5,297.3 779.2,295.8Z" fill="#00ff00"/>
<path d="M384.5,336.2C384.8,334.6 386.2,333.2 387.5,332.5C388.8,331.8 390.8,331.2 392.0,332.0C393.2,332.8 393.9,335.2 395.0,337.5C396.1,339.8 398.2,343.2 398.8,345.5C399.4,347.8 399.5,349.8 398.8,351.2C398.1,352.6 396.1,353.9 394.5,354.2C392.9,354.5 390.8,354.1 389.5,353.0C388.2,351.9 387.7,349.3 387.0,347.5C386.3,345.7 385.9,343.9 385.5,342.0C385.1,340.1 384.2,337.8 384.5,336.2Z" fill="#00ff00"/>
<path d="M416.2,364.5C416.3,363.4 417.7,361.6 418.8,360.5C419.9,359.4 421.6,358.2 423.0,358.0C424.4,357.8 426.5,358.4 427.5,359.0C428.5,359.6 429.3,360.5 429.2,361.5C429.1,362.5 428.1,364.1 427.0,365.0C425.9,365.9 424.0,366.7 422.5,367.0C421.0,367.3 419.1,367.4 418.0,367.0C416.9,366.6 416.1,365.6 416.2,364.5Z" fill="#00ff00"/>
<path d="M547.0,353.8C547.5,351.9 548.8,350.3 550.5,348.8C552.2,347.3 555.7,345.6 557.5,345.0C559.3,344.4 560.6,344.5 561.2,345.5C561.8,346.5 561.7,348.6 561.2,351.2C560.7,353.8 559.2,358.7 558.0,361.2C556.8,363.7 555.2,365.4 553.8,366.2C552.4,367.0 550.5,367.1 549.5,366.2C548.5,365.2 547.9,362.6 547.5,360.5C547.1,358.4 546.5,355.8 547.0,353.8Z" fill="#00ff00"/>
<path d="M620.0,333.5C620.2,332.5 621.3,330.9 622.5,330.0C623.7,329.1 625.8,328.2 627.0,328.2C628.2,328.2 629.7,329.2 630.0,330.0C630.3,330.8 629.8,332.3 629.0,333.2C628.2,334.1 626.3,335.0 625.0,335.5C623.7,336.0 622.0,336.3 621.2,336.0C620.4,335.7 619.8,334.5 620.0,333.5Z" fill="#00ff00"/>
<path d="M895.0,388.7C895.1,388.2 896.0,387.5 896.2,387.7C896.4,387.9 896.4,389.5 896.3,390.0C896.1,390.5 895.5,390.7 895.3,390.5C895.1,390.3 894.9,389.2 895.0,388.7Z" fill="#00ff00"/>
<path d="M873.3,415.3C873.3,414.1 874.3,412.2 875.3,410.8C876.3,409.4 877.9,407.7 879.2,406.7C880.5,405.7 882.2,404.8 883.3,404.7C884.4,404.6 885.4,405.4 885.8,406.2C886.2,407.0 886.3,408.4 885.8,409.7C885.3,411.0 884.1,413.0 883.0,414.2C881.9,415.4 880.5,416.4 879.2,417.0C877.9,417.6 876.3,418.3 875.3,418.0C874.3,417.7 873.3,416.5 873.3,415.3Z" fill="#00ff00"/>
<path d="M908.0,405.0C907.9,404.3 908.6,403.1 909.2,402.5C909.8,401.9 911.0,401.6 911.7,401.7C912.4,401.8 913.2,402.3 913.3,403.0C913.4,403.7 913.1,405.2 912.5,405.8C911.9,406.4 910.5,406.8 909.7,406.7C909.0,406.6 908.1,405.7 908.0,405.0Z" fill="#00ff00"/>
<path d="M911.7,430.0C911.7,428.9 912.3,427.1 913.0,425.8C913.7,424.6 914.6,423.4 915.8,422.5C917.0,421.6 918.9,420.6 920.0,420.5C921.1,420.4 922.0,421.0 922.5,421.7C923.0,422.4 923.2,423.5 922.8,424.7C922.4,425.9 921.3,427.6 920.3,428.8C919.3,430.0 917.9,431.1 916.7,431.7C915.5,432.3 913.8,432.5 913.0,432.2C912.2,431.9 911.7,431.1 911.7,430.0Z" fill="#00ff00"/>
<path d="M523.8,644.5C523.7,642.9 524.7,640.3 525.8,638.0C526.9,635.7 529.2,632.0 530.5,630.5C531.8,629.0 533.0,628.5 533.8,628.8C534.6,629.1 535.3,630.7 535.5,632.5C535.7,634.3 535.7,637.5 535.0,639.5C534.3,641.5 532.7,643.2 531.2,644.5C529.7,645.8 527.4,647.5 526.2,647.5C525.0,647.5 523.9,646.1 523.8,644.5Z" fill="#00ff00"/>
<path d="M509.0,700.8C509.3,699.7 510.5,697.9 511.8,696.8C513.1,695.7 515.3,694.4 516.8,694.2C518.2,694.0 519.8,694.9 520.5,695.8C521.2,696.7 521.4,698.3 520.8,699.5C520.2,700.7 518.4,702.2 517.0,703.0C515.6,703.8 513.7,704.5 512.5,704.5C511.3,704.5 510.6,703.8 510.0,703.2C509.4,702.6 508.7,701.9 509.0,700.8Z" fill="#00ff00"/>
<path d="M403.2,640.5C403.2,641.1 402.9,641.9 402.5,642.3C402.1,642.7 401.4,643.0 400.8,643.0C400.2,643.0 399.4,642.7 399.0,642.3C398.6,641.9 398.2,641.1 398.2,640.5C398.2,639.9 398.6,639.1 399.0,638.7C399.4,638.3 400.2,638.0 400.8,638.0C401.4,638.0 402.1,638.3 402.5,638.7C402.9,639.1 403.2,639.9 403.2,640.5Z" fill="#00ff00"/>
<path d="M308.7,822.7C291.1,821.9 306.9,820.7 308.7,818.0C310.5,815.3 315.8,809.2 319.3,806.7C322.9,804.2 326.2,805.2 330.0,802.7C333.8,800.2 338.9,795.1 342.0,792.0C345.1,788.9 347.5,787.8 348.7,784.0C349.9,780.2 348.9,773.5 349.3,769.3C349.7,765.1 351.2,762.2 351.3,758.7C351.4,755.2 349.7,750.2 350.0,748.0C350.3,745.8 351.8,744.8 353.3,745.3C354.9,745.8 356.5,751.2 359.3,751.3C362.1,751.4 366.9,748.4 370.0,746.0C373.1,743.6 374.9,739.2 378.0,736.7C381.1,734.2 384.9,732.9 388.7,731.3C392.5,729.7 397.7,728.0 400.7,727.3C403.7,726.6 405.7,726.5 406.7,727.3C407.7,728.1 407.4,729.2 406.7,732.0C406.0,734.8 402.8,741.3 402.7,744.0C402.6,746.7 403.4,747.2 406.0,748.0C408.6,748.8 414.2,749.2 418.0,748.7C421.8,748.2 425.6,745.5 428.7,744.7C431.8,743.9 434.9,743.6 436.7,744.0C438.5,744.4 439.5,745.8 439.3,747.3C439.1,748.8 437.3,750.9 435.3,752.7C433.3,754.5 430.0,756.6 427.3,758.0C424.6,759.4 421.2,760.1 419.3,761.3C417.4,762.5 416.2,763.1 416.0,765.3C415.8,767.5 417.9,772.2 418.0,774.7C418.1,777.2 418.0,778.2 416.7,780.0C415.4,781.8 412.4,784.2 410.0,785.3C407.6,786.4 404.4,785.8 402.0,786.7C399.6,787.6 396.2,788.0 395.3,790.7C394.4,793.4 395.4,799.5 396.7,802.7C398.0,805.9 400.6,808.0 403.3,810.0C406.0,812.0 410.9,812.6 412.7,814.7C414.5,816.8 431.3,821.4 414.0,822.7C396.7,824.0 326.2,823.5 308.7,822.7Z" fill="#00ff00"/>
<path d="M343.6,724.0C343.8,722.4 344.4,720.0 345.5,718.7C346.6,717.4 348.6,716.1 350.0,716.0C351.4,715.9 353.0,716.9 353.7,718.0C354.4,719.1 354.4,721.2 354.0,722.9C353.6,724.6 352.4,727.0 351.3,728.3C350.2,729.5 348.5,730.4 347.3,730.4C346.1,730.4 345.0,729.4 344.4,728.3C343.8,727.2 343.4,725.6 343.6,724.0Z" fill="#00ff00"/>
<path d="M381.2,657.0C381.5,655.5 383.5,653.5 385.5,653.2C387.5,653.0 391.2,654.4 393.0,655.5C394.8,656.6 395.8,657.2 396.2,660.0C396.6,662.8 395.9,667.9 395.5,672.5C395.1,677.1 394.5,682.1 394.0,687.5C393.5,692.9 393.0,700.6 392.5,705.0C392.0,709.4 392.1,712.2 390.8,714.0C389.6,715.8 387.6,715.8 385.0,715.8C382.4,715.8 377.5,714.9 375.5,714.0C373.5,713.1 373.0,712.8 373.0,710.5C373.0,708.2 374.5,704.2 375.5,700.0C376.5,695.8 377.8,690.0 379.0,685.0C380.2,680.0 382.0,673.8 382.8,670.0C383.6,666.2 384.1,664.7 383.8,662.5C383.5,660.3 380.9,658.5 381.2,657.0Z" fill="#00ff00"/>
<path d="M504.2,733.8C504.4,732.4 505.2,730.1 506.2,728.8C507.2,727.5 508.7,726.5 510.0,726.2C511.3,725.9 513.3,726.2 514.2,726.8C515.1,727.4 515.4,728.6 515.2,730.0C515.0,731.4 514.0,733.9 512.8,735.2C511.6,736.5 509.3,737.5 508.0,737.8C506.7,738.1 505.6,737.9 505.0,737.2C504.4,736.5 504.0,735.2 504.2,733.8Z" fill="#00ff00"/>
<path d="M461.2,742.5C461.4,741.4 462.5,740.3 464.0,739.2C465.5,738.1 467.9,736.5 470.0,735.8C472.1,735.1 475.0,734.6 476.5,734.8C478.0,735.0 478.7,736.1 478.8,737.2C478.9,738.3 478.1,739.9 477.0,741.2C475.9,742.5 474.2,744.0 472.5,745.0C470.8,746.0 468.6,747.0 467.0,747.2C465.4,747.4 464.0,746.8 463.0,746.0C462.0,745.2 461.0,743.6 461.2,742.5Z" fill="#00ff00"/>
<path d="M509.0,770.0C509.2,769.0 510.2,767.4 511.0,767.0C511.8,766.6 512.9,766.9 513.5,767.5C514.1,768.1 514.7,769.6 514.5,770.5C514.3,771.4 513.2,772.6 512.5,773.0C511.8,773.4 510.6,773.5 510.0,773.0C509.4,772.5 508.8,771.0 509.0,770.0Z" fill="#00ff00"/>
<path d="M441.7,825.0C440.1,823.3 442.4,817.0 443.3,814.7C444.2,812.4 445.7,811.8 447.0,811.3C448.3,810.8 450.3,811.3 451.3,812.0C452.3,812.7 452.7,813.1 453.0,815.3C453.3,817.5 454.9,823.4 453.0,825.0C451.1,826.6 443.3,826.7 441.7,825.0Z" fill="#00ff00"/>
<path d="M480.3,775.0C480.5,772.9 481.2,771.2 482.3,770.0C483.4,768.8 485.2,768.2 486.7,768.0C488.2,767.8 490.1,768.0 491.3,768.7C492.6,769.5 493.4,770.6 494.2,772.5C495.0,774.4 495.4,777.8 496.0,780.0C496.6,782.2 496.1,784.1 497.5,785.8C498.9,787.5 502.9,788.0 504.2,790.0C505.5,792.0 505.6,795.0 505.3,797.5C505.1,800.0 503.8,802.7 502.7,805.3C501.6,807.9 499.8,810.0 498.7,813.3C497.6,816.6 499.5,823.0 495.8,825.0C492.1,827.0 480.1,827.0 476.7,825.0C473.3,823.0 475.6,816.2 475.3,813.3C475.0,810.4 473.9,808.8 474.7,807.5C475.5,806.2 477.7,806.4 480.0,805.3C482.3,804.2 486.3,802.9 488.3,800.8C490.3,798.7 492.5,794.4 492.0,792.5C491.5,790.6 487.1,790.9 485.3,789.2C483.5,787.5 482.1,784.9 481.3,782.5C480.5,780.1 480.1,777.1 480.3,775.0Z" fill="#00ff00"/>
<path d="M546.2,778.3C546.2,776.8 547.2,775.3 548.3,774.3C549.3,773.2 551.0,772.5 552.5,772.0C554.0,771.5 555.9,770.9 557.3,771.2C558.7,771.5 560.2,772.8 561.0,774.0C561.8,775.2 562.0,777.2 561.8,778.7C561.6,780.2 560.8,781.9 559.7,783.0C558.6,784.1 556.7,785.0 555.3,785.5C553.9,786.0 552.7,786.2 551.5,785.8C550.3,785.4 548.9,784.5 548.0,783.3C547.1,782.0 546.2,779.8 546.2,778.3Z" fill="#00ff00"/>
<path d="M701.2,591.0C702.0,590.3 705.0,589.7 706.8,590.2C708.6,590.7 710.8,592.5 712.0,594.0C713.2,595.5 713.7,597.7 714.0,599.2C714.3,600.7 714.3,602.3 713.8,603.0C713.3,603.7 712.2,604.2 710.8,603.5C709.4,602.8 706.9,600.5 705.5,599.0C704.1,597.5 702.9,595.8 702.2,594.5C701.5,593.2 700.4,591.7 701.2,591.0Z" fill="#00ff00"/>
<path d="M683.8,619.0C684.0,618.8 685.0,620.1 685.0,620.5C685.0,620.9 683.7,621.8 683.5,621.5C683.3,621.2 683.5,619.2 683.8,619.0Z" fill="#00ff00"/>
<path d="M749.5,595.5C749.9,594.2 750.8,592.7 752.5,591.8C754.2,590.9 757.5,591.0 760.0,590.2C762.5,589.4 765.5,587.4 767.5,587.2C769.5,587.0 771.2,587.8 772.2,589.0C773.2,590.2 773.8,592.3 773.8,594.2C773.8,596.1 773.5,598.9 772.5,600.5C771.5,602.1 769.6,603.3 767.5,604.0C765.4,604.7 762.2,605.0 760.0,604.8C757.8,604.5 755.6,603.4 754.0,602.5C752.4,601.6 751.0,600.7 750.2,599.5C749.5,598.3 749.1,596.8 749.5,595.5Z" fill="#00ff00"/>
<path d="M732.4,682.0C732.4,680.7 733.4,679.1 734.2,678.3C735.0,677.5 736.4,677.2 737.4,677.4C738.4,677.6 739.9,678.6 740.4,679.7C740.9,680.9 740.9,683.2 740.4,684.3C739.9,685.4 738.4,686.2 737.4,686.5C736.4,686.8 735.0,686.9 734.2,686.1C733.4,685.4 732.4,683.3 732.4,682.0Z" fill="#00ff00"/>
<path d="M817.4,825.1C817.2,823.6 818.9,817.1 819.5,816.0C820.1,814.9 821.1,816.8 821.3,818.3C821.5,819.8 821.4,824.0 820.8,825.1C820.1,826.2 817.6,826.6 817.4,825.1Z" fill="#00ff00"/>
<path d="M827.2,696.3C827.3,694.9 828.0,692.9 828.8,691.8C829.6,690.7 830.9,689.8 832.2,689.7C833.5,689.6 835.6,690.5 836.8,691.3C837.9,692.1 838.8,693.4 839.1,694.7C839.4,696.0 839.2,697.7 838.6,698.9C838.0,700.1 836.7,701.2 835.4,701.8C834.1,702.4 832.1,702.8 830.9,702.5C829.7,702.2 828.7,701.2 828.1,700.2C827.5,699.2 827.1,697.7 827.2,696.3Z" fill="#00ff00"/>
<path d="M802.5,762.5C803.1,760.8 804.9,759.1 806.7,758.3C808.5,757.5 811.4,756.9 813.3,757.5C815.2,758.1 816.6,760.3 818.3,761.7C820.0,763.1 821.9,765.8 823.3,765.8C824.7,765.8 826.8,763.5 826.7,761.7C826.6,759.9 823.9,757.0 822.5,755.0C821.1,753.0 819.4,752.1 818.3,750.0C817.2,747.9 815.4,745.1 815.8,742.5C816.2,739.9 819.1,737.0 820.8,734.2C822.5,731.4 824.7,728.4 825.8,725.8C826.9,723.2 826.7,720.3 827.5,718.7C828.3,717.1 829.5,716.3 830.8,716.3C832.0,716.3 833.8,717.3 835.0,718.8C836.2,720.3 836.3,723.8 838.3,725.5C840.2,727.2 843.1,727.4 846.7,728.8C850.3,730.2 857.0,732.1 860.0,733.8C863.0,735.5 864.0,736.6 864.7,738.8C865.4,740.9 864.7,743.9 864.0,746.7C863.3,749.5 859.6,753.2 860.3,755.8C861.0,758.4 866.0,760.6 868.3,762.2C870.6,763.8 872.9,764.5 874.2,765.5C875.5,766.5 876.4,766.8 876.3,768.3C876.2,769.8 874.7,772.5 873.7,774.5C872.7,776.5 871.6,778.3 870.3,780.0C869.0,781.7 866.3,781.9 865.8,784.7C865.2,787.5 866.5,793.0 867.0,796.7C867.5,800.4 868.7,803.7 868.7,806.7C868.7,809.8 867.6,812.0 867.0,815.0C866.4,818.0 868.7,823.3 865.3,825.0C861.9,826.7 850.2,827.8 846.7,825.0C843.2,822.2 844.8,812.3 844.2,808.3C843.6,804.3 843.1,803.0 843.3,800.8C843.5,798.6 844.0,796.8 845.3,795.0C846.6,793.2 850.5,793.0 851.3,790.0C852.1,787.0 851.6,780.0 850.0,777.0C848.4,774.0 844.5,772.1 841.7,772.0C838.9,771.9 836.2,775.4 833.3,776.2C830.4,777.0 827.1,777.1 824.2,776.7C821.3,776.3 818.3,774.3 815.8,773.7C813.3,773.1 811.3,773.9 809.2,773.0C807.1,772.1 804.4,770.0 803.3,768.3C802.2,766.5 801.9,764.2 802.5,762.5Z" fill="#00ff00"/>
<path d="M805.0,745.0C805.0,744.4 805.8,743.5 806.3,743.3C806.8,743.1 807.8,743.4 808.3,743.7C808.8,744.0 809.5,744.8 809.5,745.3C809.5,745.8 808.6,746.6 808.0,746.8C807.4,747.0 806.5,747.0 806.0,746.7C805.5,746.4 805.0,745.6 805.0,745.0Z" fill="#00ff00"/>
<path d="M865.3,520.0C865.2,519.4 866.2,518.3 866.7,518.3C867.2,518.2 868.2,519.1 868.3,519.7C868.3,520.3 867.5,521.7 867.0,521.7C866.5,521.8 865.3,520.6 865.3,520.0Z" fill="#00ff00"/>
<path d="M859.7,574.5C859.7,574.0 860.7,573.0 861.2,573.0C861.7,573.0 862.7,574.0 862.7,574.5C862.7,575.0 861.7,576.0 861.2,576.0C860.7,576.0 859.7,575.0 859.7,574.5Z" fill="#00ff00"/>
<path d="M411.9,186.2C411.7,184.6 414.4,182.8 416.2,181.2C418.0,179.6 419.8,177.8 422.5,176.9C425.2,176.0 429.2,175.6 432.5,175.6C435.8,175.6 440.3,176.2 442.5,176.9C444.7,177.6 445.2,179.1 445.6,180.0C446.0,180.9 446.6,181.6 445.0,182.5C443.4,183.4 439.5,184.5 436.2,185.6C432.9,186.7 428.1,188.0 425.0,188.8C421.9,189.6 419.7,191.0 417.5,190.6C415.3,190.2 412.1,187.8 411.9,186.2Z" fill="#00cc00"/>
<path d="M573.3,193.3C573.6,192.2 576.7,191.5 580.0,190.8C583.3,190.1 588.8,189.6 593.3,189.2C597.8,188.8 602.8,188.2 606.7,188.3C610.6,188.4 612.8,188.9 616.7,190.0C620.6,191.1 626.4,193.6 630.0,195.0C633.6,196.4 635.0,197.5 638.3,198.3C641.6,199.1 647.2,198.6 650.0,200.0C652.8,201.4 653.3,204.8 655.0,206.7C656.7,208.6 657.0,211.1 660.0,211.7C663.0,212.2 668.8,211.1 673.3,210.0C677.8,208.9 684.2,205.3 686.7,205.0C689.2,204.7 689.7,206.6 688.3,208.3C686.9,210.0 681.9,213.2 678.3,215.0C674.7,216.8 671.4,218.4 666.7,219.2C662.0,220.0 655.0,219.7 650.0,220.0C645.0,220.3 641.2,220.8 636.7,220.8C632.2,220.8 627.8,220.4 623.3,220.0C618.8,219.6 613.9,219.4 610.0,218.3C606.1,217.2 602.8,214.4 600.0,213.3C597.2,212.2 593.8,212.8 593.3,211.7C592.8,210.6 597.8,208.4 596.7,206.7C595.6,205.0 589.8,203.2 586.7,201.7C583.6,200.2 580.5,198.9 578.3,197.5C576.1,196.1 573.0,194.4 573.3,193.3Z" fill="#00cc00"/>
<path d="M710.8,245.8C711.2,244.9 712.3,243.7 714.7,243.0C717.1,242.3 720.8,242.3 725.0,241.7C729.2,241.1 735.3,239.1 740.0,239.2C744.7,239.3 749.4,241.1 753.3,242.3C757.2,243.5 761.3,245.0 763.3,246.3C765.3,247.6 765.6,248.7 765.3,250.0C765.0,251.3 763.6,253.0 761.7,254.2C759.9,255.4 756.4,256.3 754.2,257.0C752.0,257.7 750.5,258.5 748.3,258.3C746.1,258.1 743.7,256.9 740.8,255.8C737.9,254.8 734.5,253.0 730.8,252.0C727.0,251.0 721.3,250.6 718.3,250.0C715.2,249.4 713.8,249.0 712.5,248.3C711.2,247.6 710.4,246.7 710.8,245.8Z" fill="#00cc00"/>
<path d="M781.7,296.7C782.4,295.3 783.9,292.4 785.8,291.3C787.7,290.2 791.2,289.9 793.3,290.3C795.4,290.7 796.8,292.0 798.3,293.7C799.8,295.4 799.7,298.7 802.5,300.3C805.3,301.9 811.8,302.5 815.0,303.3C818.2,304.1 820.4,304.2 821.7,305.3C823.0,306.4 821.1,308.7 823.0,310.0C824.9,311.3 830.6,312.1 833.3,313.3C836.0,314.5 838.7,315.7 839.2,317.2C839.7,318.7 838.1,320.9 836.3,322.5C834.5,324.1 831.3,325.9 828.3,326.7C825.3,327.5 821.3,327.7 818.3,327.5C815.2,327.3 812.6,326.7 810.0,325.3C807.4,323.9 805.4,321.6 802.5,319.2C799.6,316.8 795.5,313.4 792.5,310.8C789.5,308.2 786.0,305.2 784.2,303.3C782.4,301.4 782.1,300.8 781.7,299.7C781.3,298.6 781.0,298.1 781.7,296.7Z" fill="#00cc00"/>
<path d="M388.0,342.5C388.3,340.6 390.0,339.0 391.2,338.8C392.4,338.6 393.9,339.8 395.0,341.2C396.1,342.6 397.3,345.7 397.5,347.5C397.7,349.3 397.0,351.1 396.2,352.0C395.4,352.9 393.6,353.3 392.5,353.0C391.4,352.7 390.2,351.8 389.5,350.0C388.8,348.2 387.7,344.4 388.0,342.5Z" fill="#00cc00"/>
<path d="M549.5,355.0C549.8,353.0 551.4,352.2 552.5,352.0C553.6,351.8 555.5,352.5 556.2,353.8C557.0,355.1 557.4,358.2 557.0,360.0C556.6,361.8 554.9,363.9 553.8,364.5C552.7,365.1 551.2,365.4 550.5,363.8C549.8,362.2 549.2,357.0 549.5,355.0Z" fill="#00cc00"/>
<path d="M875.3,414.2C875.4,413.3 876.2,411.9 877.0,410.8C877.8,409.7 879.2,408.2 880.3,407.5C881.4,406.8 883.0,406.0 883.7,406.3C884.4,406.6 884.6,408.1 884.3,409.2C884.0,410.3 882.9,411.9 882.0,413.0C881.1,414.1 879.7,415.2 878.7,415.8C877.8,416.4 876.9,416.6 876.3,416.3C875.7,416.0 875.2,415.1 875.3,414.2Z" fill="#00cc00"/>
<path d="M913.7,428.7C913.7,427.9 914.3,426.3 915.0,425.3C915.7,424.3 917.0,423.2 918.0,422.8C919.0,422.4 920.3,422.3 920.8,422.8C921.3,423.3 921.2,424.7 920.8,425.8C920.4,426.9 919.2,428.4 918.3,429.2C917.4,429.9 916.1,430.4 915.3,430.3C914.5,430.2 913.8,429.5 913.7,428.7Z" fill="#00cc00"/>
<path d="M528.0,640.0C528.2,638.2 530.2,633.5 531.2,632.5C532.2,631.5 533.5,632.5 533.8,633.8C534.1,635.0 533.6,638.5 533.0,640.0C532.4,641.5 530.8,643.0 530.0,643.0C529.2,643.0 527.8,641.8 528.0,640.0Z" fill="#00cc00"/>
<path d="M511.2,700.0C511.4,699.1 512.8,697.6 513.8,697.0C514.8,696.4 516.7,695.8 517.5,696.2C518.3,696.6 519.1,698.5 518.8,699.5C518.5,700.5 516.5,701.5 515.5,702.0C514.5,702.5 513.2,702.8 512.5,702.5C511.8,702.2 511.0,700.9 511.2,700.0Z" fill="#00cc00"/>
<path d="M357.3,755.3C358.6,753.8 366.8,753.8 370.0,751.3C373.2,748.8 373.6,743.0 376.7,740.0C379.8,737.0 384.9,735.1 388.7,733.3C392.5,731.5 396.5,730.1 399.3,729.3C402.1,728.5 404.3,728.1 405.3,728.7C406.3,729.3 405.7,730.8 405.3,732.7C404.9,734.6 403.4,737.5 402.7,740.0C402.0,742.5 401.9,745.1 401.3,748.0C400.7,750.9 400.7,754.8 399.3,757.3C397.9,759.8 394.7,760.9 392.7,762.7C390.7,764.5 388.6,765.8 387.3,768.0C386.0,770.2 385.5,773.3 384.7,776.0C383.9,778.7 382.6,781.3 382.7,784.0C382.8,786.7 383.9,789.5 385.3,792.0C386.7,794.5 389.2,796.5 391.3,798.7C393.4,800.9 396.0,803.3 398.0,805.3C400.0,807.3 401.3,809.0 403.3,810.7C405.3,812.4 408.7,813.3 410.0,815.3C411.3,817.3 427.8,821.5 411.3,822.7C394.9,823.9 327.7,823.7 311.3,822.7C294.9,821.7 310.9,819.0 312.7,816.7C314.5,814.4 318.7,810.7 322.0,808.7C325.3,806.7 329.1,806.9 332.7,804.7C336.2,802.5 340.0,798.2 343.3,795.3C346.6,792.4 351.7,789.8 352.7,787.3C353.7,784.8 349.8,782.8 349.3,780.0C348.9,777.2 349.0,773.2 350.0,770.7C351.0,768.2 353.3,765.5 355.3,765.3C357.3,765.1 360.2,769.5 362.0,769.3C363.8,769.1 366.0,765.5 366.0,764.0C366.0,762.5 363.4,761.5 362.0,760.0C360.6,758.5 356.0,756.8 357.3,755.3Z" fill="#00cc00"/>
<path d="M399.3,782.7C399.6,780.9 402.1,778.2 404.0,777.3C405.9,776.4 409.2,776.4 410.7,777.3C412.1,778.2 413.1,780.9 412.7,782.7C412.2,784.5 409.8,787.1 408.0,788.0C406.2,788.9 403.4,788.9 402.0,788.0C400.6,787.1 399.0,784.5 399.3,782.7Z" fill="#00cc00"/>
<path d="M420.0,756.7C420.9,755.0 424.4,751.7 426.7,750.0C429.0,748.3 432.3,746.5 434.0,746.4C435.7,746.2 437.2,747.7 436.9,749.1C436.6,750.5 433.9,752.9 432.0,754.9C430.1,756.9 427.1,760.2 425.3,761.1C423.5,762.0 422.2,761.0 421.3,760.3C420.4,759.6 419.1,758.4 420.0,756.7Z" fill="#00cc00"/>
<path d="M405.3,764.0C405.5,761.4 406.4,757.7 407.6,756.7C408.8,755.7 411.1,756.3 412.4,758.0C413.7,759.7 414.8,763.9 415.3,766.7C415.8,769.5 416.2,773.1 415.3,774.9C414.4,776.7 411.5,777.7 410.0,777.3C408.5,776.9 407.1,774.5 406.3,772.3C405.5,770.1 405.1,766.6 405.3,764.0Z" fill="#00cc00"/>
<path d="M383.8,660.0C384.2,657.8 386.1,657.0 387.5,657.0C388.9,657.0 391.1,657.4 392.0,660.0C392.9,662.6 393.0,667.9 393.0,672.5C393.0,677.1 392.3,682.1 392.0,687.5C391.7,692.9 391.4,700.8 391.0,705.0C390.6,709.2 390.5,711.0 389.5,712.5C388.5,714.0 387.0,714.0 385.0,714.0C383.0,714.0 379.0,713.3 377.5,712.5C376.0,711.7 375.8,711.5 376.0,709.0C376.2,706.5 377.8,701.9 378.8,697.5C379.8,693.1 381.0,687.1 382.0,682.5C383.0,677.9 384.7,673.8 385.0,670.0C385.3,666.2 383.4,662.2 383.8,660.0Z" fill="#00cc00"/>
<path d="M443.0,825.0C441.8,823.3 443.9,817.0 444.7,815.0C445.4,813.0 446.5,812.9 447.5,812.7C448.5,812.5 450.1,813.0 450.8,813.7C451.5,814.4 451.6,814.8 451.7,816.7C451.8,818.6 453.1,823.6 451.7,825.0C450.2,826.4 444.2,826.7 443.0,825.0Z" fill="#00cc00"/>
<path d="M828.5,722.5C829.0,720.8 830.0,719.1 830.8,718.3C831.6,717.5 832.3,717.4 833.3,717.9C834.3,718.4 835.6,719.7 836.7,721.2C837.8,722.7 838.9,725.4 840.0,727.1C841.1,728.9 843.0,730.4 843.3,731.7C843.6,733.0 841.7,733.8 841.7,735.0C841.7,736.2 842.8,737.5 843.3,739.2C843.8,740.9 844.8,743.3 844.6,745.0C844.4,746.7 843.3,748.7 842.1,749.6C840.9,750.5 839.0,750.8 837.5,750.4C836.0,750.0 834.2,748.3 833.3,747.1C832.4,745.9 832.5,745.0 832.1,743.3C831.7,741.6 831.3,738.4 830.8,736.7C830.3,735.0 829.8,734.7 829.2,733.3C828.7,731.9 827.6,730.1 827.5,728.3C827.4,726.5 828.0,724.2 828.5,722.5Z" fill="#00cc00"/>
<path d="M416.9,185.0C416.5,183.8 418.4,181.9 420.0,180.6C421.6,179.3 423.7,177.9 426.2,177.2C428.7,176.5 432.3,176.3 435.0,176.5C437.7,176.7 441.0,177.4 442.5,178.1C444.0,178.8 444.4,179.6 444.0,180.6C443.6,181.6 442.3,182.9 440.0,183.8C437.7,184.7 432.9,185.5 430.0,186.2C427.1,186.9 424.7,188.3 422.5,188.1C420.3,187.9 417.3,186.2 416.9,185.0Z" fill="#009900"/>
<path d="M583.3,195.0C583.6,193.5 586.7,191.8 590.0,190.8C593.3,189.8 599.4,189.2 603.3,189.2C607.2,189.2 611.1,189.8 613.3,190.8C615.5,191.8 617.5,193.6 616.7,195.0C615.9,196.4 611.6,198.1 608.3,199.2C605.0,200.3 600.0,201.6 596.7,201.7C593.4,201.8 590.5,201.1 588.3,200.0C586.1,198.9 583.0,196.5 583.3,195.0Z" fill="#009900"/>
<path d="M613.3,213.3C614.1,211.5 617.2,208.8 620.0,206.7C622.8,204.6 626.4,202.1 630.0,200.8C633.6,199.6 638.4,198.9 641.7,199.2C645.0,199.5 648.2,200.7 650.0,202.5C651.8,204.3 653.0,207.6 652.5,210.0C652.0,212.4 649.9,214.9 646.7,216.7C643.5,218.5 637.5,220.2 633.3,220.8C629.1,221.4 624.8,220.6 621.7,220.0C618.7,219.4 616.4,218.6 615.0,217.5C613.6,216.4 612.5,215.1 613.3,213.3Z" fill="#009900"/>
<path d="M654.2,217.0C654.3,216.4 656.0,215.6 657.5,215.3C659.0,215.0 661.9,215.0 663.3,215.3C664.7,215.6 665.9,216.4 665.8,217.0C665.7,217.6 664.0,218.4 662.5,218.7C661.0,219.0 658.1,219.0 656.7,218.7C655.3,218.4 654.1,217.6 654.2,217.0Z" fill="#009900"/>
<path d="M715.0,246.0C715.3,245.3 716.5,244.6 718.7,244.0C720.9,243.4 724.8,243.3 728.3,242.7C731.8,242.1 736.1,240.1 740.0,240.2C743.9,240.2 748.1,242.0 751.7,243.0C755.3,244.0 759.8,244.9 761.7,246.0C763.6,247.1 763.7,248.4 763.3,249.7C762.9,251.0 761.0,252.7 759.2,253.7C757.4,254.7 754.3,255.3 752.5,255.8C750.7,256.3 750.2,256.9 748.3,256.7C746.3,256.4 743.6,255.2 740.8,254.3C738.0,253.4 734.3,251.8 731.3,251.0C728.2,250.2 724.9,249.7 722.5,249.2C720.1,248.7 718.0,248.5 716.7,248.0C715.5,247.5 714.7,246.7 715.0,246.0Z" fill="#009900"/>
<path d="M784.7,297.5C785.1,296.2 786.2,294.9 787.5,294.2C788.8,293.5 791.0,292.9 792.5,293.3C794.0,293.7 795.7,295.2 796.7,296.7C797.7,298.2 798.6,301.0 798.3,302.5C798.0,304.0 796.5,305.4 795.0,305.8C793.5,306.2 790.8,305.7 789.2,305.0C787.6,304.3 786.0,302.9 785.3,301.7C784.5,300.4 784.3,298.8 784.7,297.5Z" fill="#009900"/>
<path d="M802.0,310.8C802.1,308.7 803.4,306.9 805.0,305.8C806.6,304.7 809.2,304.2 811.7,304.2C814.2,304.2 818.1,304.7 820.0,305.8C821.9,306.9 820.8,309.4 823.3,310.8C825.8,312.2 832.4,313.1 835.0,314.2C837.6,315.3 838.6,316.2 838.7,317.5C838.8,318.8 837.5,320.6 835.8,322.0C834.1,323.4 831.2,325.0 828.3,325.8C825.4,326.6 821.2,326.9 818.3,326.7C815.4,326.5 813.1,326.1 810.8,324.7C808.4,323.3 805.7,320.6 804.2,318.3C802.7,316.0 801.9,312.9 802.0,310.8Z" fill="#009900"/>
<path d="M390.0,345.5C390.4,344.2 392.0,342.0 393.0,342.0C394.0,342.0 395.5,344.2 396.0,345.5C396.5,346.8 396.5,348.9 396.0,350.0C395.5,351.1 393.9,352.1 393.0,352.0C392.1,351.9 391.0,350.6 390.5,349.5C390.0,348.4 389.6,346.8 390.0,345.5Z" fill="#009900"/>
<path d="M360.7,757.6C362.0,755.8 367.6,755.2 370.0,753.3C372.4,751.4 373.9,747.4 375.3,746.0C376.8,744.6 378.5,743.5 378.7,744.7C378.9,745.9 378.0,750.9 376.7,753.3C375.4,755.7 371.9,756.7 370.7,759.3C369.5,761.9 370.3,766.9 369.3,768.7C368.3,770.5 365.9,770.8 364.7,770.0C363.5,769.2 362.7,766.1 362.0,764.0C361.3,761.9 359.4,759.4 360.7,757.6Z" fill="#009900"/>
<path d="M382.0,738.0C383.3,737.3 388.2,736.6 391.3,735.7C394.4,734.8 398.7,733.0 400.7,732.7C402.7,732.4 403.2,733.2 403.3,734.0C403.4,734.8 402.4,736.6 401.3,737.3C400.2,738.0 398.4,738.0 396.7,738.0C395.0,738.0 393.5,737.3 391.3,737.6C389.1,737.9 384.9,739.9 383.3,740.0C381.8,740.1 380.7,738.7 382.0,738.0Z" fill="#009900"/>
<path d="M388.7,760.7C390.7,759.3 393.8,757.0 395.3,756.7C396.9,756.4 398.7,757.5 398.0,758.7C397.3,759.9 393.2,762.2 391.3,764.0C389.4,765.8 387.9,767.1 386.7,769.3C385.5,771.5 384.8,774.8 384.0,777.3C383.2,779.8 381.8,781.5 382.0,784.0C382.2,786.5 383.8,789.7 385.3,792.0C386.9,794.3 389.2,795.9 391.3,798.0C393.4,800.1 396.0,802.6 398.0,804.7C400.0,806.8 401.8,808.8 403.3,810.7C404.9,812.6 406.6,814.0 407.3,816.0C408.0,818.0 409.1,821.6 407.3,822.7C405.5,823.8 398.2,824.3 396.7,822.7C395.1,821.1 398.0,816.0 398.0,813.3C398.0,810.6 397.6,808.7 396.7,806.7C395.8,804.7 394.5,802.9 392.7,801.3C390.9,799.7 388.0,799.1 386.0,797.3C384.0,795.5 382.0,793.1 380.7,790.7C379.4,788.3 378.0,785.4 378.0,782.7C378.0,780.0 379.8,777.6 380.7,774.7C381.6,771.8 382.0,767.6 383.3,765.3C384.6,763.0 386.7,762.1 388.7,760.7Z" fill="#009900"/>
<path d="M311.3,822.7C311.9,821.6 311.3,818.2 313.3,816.0C315.3,813.8 319.9,811.5 323.3,809.6C326.8,807.7 330.7,806.6 334.0,804.7C337.3,802.8 341.8,799.9 343.3,798.0C344.9,796.1 345.1,792.5 343.3,793.3C341.5,794.1 336.2,800.4 332.7,802.7C329.1,805.0 325.3,805.3 322.0,807.3C318.7,809.3 314.7,812.1 312.7,814.7C310.7,817.3 310.2,821.4 310.0,822.7C309.8,824.0 310.8,823.8 311.3,822.7Z" fill="#009900"/>
<path d="M401.3,782.7C401.6,781.5 403.5,779.5 404.9,778.9C406.3,778.3 408.7,778.3 409.7,778.9C410.7,779.5 411.5,781.5 411.1,782.7C410.7,784.0 408.6,785.8 407.3,786.4C406.0,787.0 404.1,787.0 403.1,786.4C402.1,785.8 401.0,784.0 401.3,782.7Z" fill="#009900"/>
<path d="M344.9,723.3C345.1,722.2 345.8,720.6 346.7,719.7C347.6,718.8 349.1,718.0 350.0,718.0C350.9,718.0 352.1,718.8 352.4,719.7C352.7,720.7 352.4,722.4 352.0,723.7C351.6,725.0 350.5,726.6 349.7,727.3C348.9,728.0 347.8,728.1 347.1,728.0C346.4,727.9 345.7,727.2 345.3,726.4C344.9,725.6 344.7,724.4 344.9,723.3Z" fill="#009900"/>
<path d="M386.2,675.0C387.1,672.9 389.2,670.8 390.0,672.5C390.8,674.2 391.2,680.4 391.2,685.0C391.2,689.6 390.4,695.6 390.0,700.0C389.6,704.4 389.8,709.1 388.8,711.2C387.8,713.3 385.3,712.7 383.8,712.5C382.3,712.3 380.3,712.5 380.0,710.0C379.7,707.5 381.2,701.7 382.0,697.5C382.8,693.3 383.8,688.8 384.5,685.0C385.2,681.2 385.3,677.1 386.2,675.0Z" fill="#009900"/>
<path d="M506.2,732.5C506.2,731.3 507.2,729.6 508.0,728.8C508.8,728.0 510.4,727.3 511.2,727.5C512.0,727.7 513.0,728.8 513.0,730.0C513.0,731.2 512.0,733.5 511.2,734.5C510.4,735.5 508.8,736.5 508.0,736.2C507.2,735.9 506.2,733.7 506.2,732.5Z" fill="#009900"/>
<path d="M463.8,743.0C463.8,742.0 465.0,740.9 466.2,740.0C467.4,739.1 469.6,738.0 471.2,737.5C472.8,737.0 474.7,736.7 475.5,737.0C476.3,737.3 476.5,738.6 476.2,739.5C475.9,740.4 474.8,741.6 473.8,742.5C472.8,743.4 471.3,744.5 470.0,745.0C468.7,745.5 467.2,746.1 466.2,745.8C465.2,745.5 463.8,744.0 463.8,743.0Z" fill="#009900"/>
<path d="M481.7,775.0C481.8,773.5 482.4,772.0 483.3,771.0C484.2,770.0 485.7,769.4 487.0,769.2C488.3,769.0 489.9,769.3 491.0,770.0C492.1,770.7 492.7,771.6 493.3,773.3C493.9,775.0 494.7,777.8 494.7,780.0C494.7,782.2 494.4,785.2 493.3,786.7C492.2,788.2 489.8,789.5 488.3,789.2C486.8,788.9 485.2,786.5 484.2,785.0C483.2,783.5 482.9,781.7 482.5,780.0C482.1,778.3 481.6,776.5 481.7,775.0Z" fill="#009900"/>
<path d="M477.5,825.0C474.7,823.0 476.8,816.1 477.5,813.3C478.2,810.5 479.8,810.0 481.7,808.3C483.6,806.6 487.3,805.5 489.2,803.3C491.1,801.1 491.8,797.2 493.3,795.0C494.8,792.8 496.7,790.7 498.3,790.0C499.9,789.3 502.0,789.5 503.0,790.8C504.0,792.0 504.5,795.1 504.2,797.5C503.9,799.9 502.4,802.5 501.3,805.0C500.2,807.5 498.7,809.2 497.5,812.5C496.3,815.8 497.5,822.9 494.2,825.0C490.9,827.1 480.3,827.0 477.5,825.0Z" fill="#009900"/>
<path d="M548.0,778.3C548.1,777.1 549.1,775.8 550.0,775.0C550.9,774.2 552.1,773.7 553.3,773.3C554.5,772.9 555.9,772.4 557.0,772.7C558.1,773.0 559.2,774.0 559.7,775.0C560.2,776.0 560.5,777.5 560.3,778.7C560.1,779.9 559.2,781.3 558.3,782.2C557.4,783.1 556.1,783.9 555.0,784.2C553.9,784.5 552.7,784.6 551.7,784.2C550.7,783.8 549.8,783.0 549.2,782.0C548.6,781.0 547.9,779.5 548.0,778.3Z" fill="#009900"/>
<path d="M703.2,593.0C703.8,592.3 706.1,591.6 707.5,592.0C708.9,592.4 710.6,594.2 711.5,595.5C712.4,596.8 713.0,598.9 712.8,600.0C712.6,601.1 711.5,602.2 710.5,602.0C709.5,601.8 707.6,600.0 706.5,599.0C705.4,598.0 704.5,597.0 704.0,596.0C703.5,595.0 702.6,593.7 703.2,593.0Z" fill="#009900"/>
<path d="M752.0,596.2C752.4,595.2 753.5,593.8 755.0,593.0C756.5,592.2 759.1,592.2 761.2,591.5C763.3,590.8 765.8,589.0 767.5,588.8C769.2,588.6 770.4,589.5 771.2,590.5C772.0,591.5 772.5,593.4 772.5,595.0C772.5,596.6 772.1,598.8 771.2,600.0C770.3,601.2 768.8,602.0 767.0,602.5C765.2,603.0 762.4,603.2 760.5,603.0C758.6,602.8 756.8,601.9 755.5,601.2C754.2,600.5 753.1,599.6 752.5,598.8C751.9,598.0 751.6,597.2 752.0,596.2Z" fill="#009900"/>
<path d="M829.3,696.3C829.3,695.1 830.1,693.6 830.9,692.9C831.6,692.1 832.8,691.6 833.8,691.8C834.8,692.0 836.3,693.1 836.8,694.1C837.3,695.1 837.2,696.9 836.8,697.9C836.3,698.9 835.1,699.9 834.1,700.2C833.1,700.5 831.7,700.4 830.9,699.8C830.1,699.1 829.3,697.4 829.3,696.3Z" fill="#009900"/>
<path d="M836.7,725.0C836.9,724.9 838.4,726.4 839.2,727.5C840.0,728.6 841.6,730.5 841.7,731.7C841.8,733.0 840.6,734.7 840.0,735.0C839.4,735.3 838.6,734.4 838.3,733.3C837.9,732.2 838.2,729.7 837.9,728.3C837.6,726.9 836.5,725.1 836.7,725.0Z" fill="#009900"/>
<path d="M834.6,746.7C834.9,745.6 837.8,744.1 839.2,743.3C840.7,742.5 842.4,741.4 843.3,741.7C844.2,742.1 844.8,744.1 844.6,745.4C844.4,746.6 843.3,748.4 842.1,749.2C840.9,750.0 838.8,750.4 837.5,750.0C836.2,749.6 834.3,747.8 834.6,746.7Z" fill="#009900"/>
<path d="M805.0,765.8C805.3,764.8 806.2,763.3 807.5,762.5C808.8,761.7 810.8,761.2 812.5,761.2C814.2,761.2 816.4,761.7 817.5,762.5C818.6,763.3 818.2,765.0 819.2,765.8C820.2,766.6 822.8,766.7 823.3,767.5C823.8,768.3 823.5,770.4 822.5,770.8C821.5,771.2 818.9,770.1 817.5,770.0C816.1,769.9 815.6,770.3 814.2,770.4C812.8,770.5 810.6,770.8 809.2,770.4C807.8,770.0 806.5,769.1 805.8,768.3C805.1,767.5 804.7,766.8 805.0,765.8Z" fill="#009900"/>
<path d="M852.0,775.0C852.3,773.0 853.4,770.1 855.0,768.7C856.6,767.3 859.6,766.4 861.7,766.7C863.8,767.1 866.7,768.7 867.5,770.8C868.3,772.9 867.3,777.0 866.3,779.2C865.3,781.4 863.4,783.2 861.7,784.2C860.0,785.2 857.8,785.6 856.3,785.0C854.8,784.4 853.7,782.5 853.0,780.8C852.3,779.1 851.7,777.0 852.0,775.0Z" fill="#009900"/>
<path d="M846.0,803.3C846.2,801.0 846.8,797.2 848.0,795.3C849.2,793.4 851.4,791.8 853.3,791.7C855.2,791.6 857.8,792.8 859.2,794.7C860.6,796.6 861.6,800.5 861.7,803.3C861.8,806.1 861.0,809.5 860.0,811.7C859.0,813.9 857.5,816.1 855.8,816.7C854.1,817.3 851.5,816.5 850.0,815.3C848.5,814.0 847.7,811.2 847.0,809.2C846.3,807.2 845.8,805.6 846.0,803.3Z" fill="#009900"/>
<path d="M421.9,184.4C421.9,183.5 422.4,181.7 423.8,180.6C425.2,179.5 427.7,178.4 430.0,178.1C432.3,177.8 435.8,178.3 437.5,178.8C439.2,179.3 440.4,180.5 440.0,181.2C439.6,181.9 436.9,182.5 435.0,183.1C433.1,183.7 430.7,184.5 428.8,185.0C426.9,185.5 425.0,186.1 423.8,186.0C422.6,185.9 421.9,185.3 421.9,184.4Z" fill="#ffff00"/>
<path d="M585.8,195.8C586.2,194.7 589.1,193.3 591.7,192.5C594.4,191.7 598.9,190.9 601.7,190.8C604.5,190.7 606.9,191.0 608.3,191.7C609.7,192.4 610.8,193.9 610.0,195.0C609.2,196.1 605.8,197.3 603.3,198.3C600.8,199.3 597.4,200.7 595.0,200.8C592.6,201.0 590.7,200.0 589.2,199.2C587.7,198.4 585.4,196.9 585.8,195.8Z" fill="#ffff00"/>
<path d="M616.7,214.2C617.3,212.7 619.2,210.2 621.7,208.3C624.2,206.4 628.4,203.8 631.7,202.5C635.0,201.2 638.9,200.7 641.7,200.8C644.5,200.9 646.9,201.9 648.3,203.3C649.7,204.7 650.5,207.2 650.0,209.2C649.5,211.1 647.8,213.3 645.0,215.0C642.2,216.7 636.9,218.5 633.3,219.2C629.7,219.9 625.8,219.5 623.3,219.2C620.8,218.9 619.4,218.3 618.3,217.5C617.2,216.7 616.1,215.7 616.7,214.2Z" fill="#ffff00"/>
<path d="M720.0,245.8C721.4,245.0 728.4,244.1 731.7,243.3C735.0,242.5 737.2,240.8 740.0,240.8C742.8,240.8 745.2,242.6 748.3,243.3C751.3,244.0 756.1,244.0 758.3,245.0C760.5,246.0 762.0,247.8 761.7,249.2C761.4,250.6 758.9,252.3 756.7,253.3C754.5,254.3 751.1,255.1 748.3,255.0C745.5,254.9 742.8,253.3 740.0,252.5C737.2,251.7 734.5,250.7 731.7,250.0C728.9,249.3 725.2,249.0 723.3,248.3C721.3,247.6 718.6,246.6 720.0,245.8Z" fill="#ffff00"/>
<path d="M803.0,311.7C803.0,309.8 804.3,307.8 805.8,306.7C807.2,305.6 809.8,304.9 811.7,305.0C813.7,305.1 815.8,306.2 817.5,307.5C819.2,308.8 819.1,311.2 821.7,312.5C824.3,313.8 830.7,314.2 833.3,315.0C835.9,315.8 837.2,316.4 837.5,317.5C837.8,318.6 836.5,320.4 835.0,321.7C833.5,322.9 830.8,324.3 828.3,325.0C825.8,325.7 822.6,325.9 820.0,325.8C817.4,325.7 814.9,325.4 812.5,324.2C810.1,322.9 807.4,320.4 805.8,318.3C804.2,316.2 803.0,313.6 803.0,311.7Z" fill="#ffff00"/>
<path d="M392.5,347.0C392.7,346.2 393.6,344.5 394.2,344.5C394.8,344.5 395.9,346.1 396.0,347.0C396.1,347.9 395.5,349.6 395.0,350.0C394.5,350.4 393.4,350.0 393.0,349.5C392.6,349.0 392.3,347.8 392.5,347.0Z" fill="#ffff00"/>
<path d="M312.7,822.7C299.1,821.4 312.2,816.7 314.0,814.7C315.8,812.7 320.0,812.3 323.3,810.7C326.6,809.1 330.7,807.3 334.0,805.3C337.3,803.3 340.2,800.9 343.3,798.7C346.4,796.5 350.2,794.0 352.7,792.0C355.1,790.0 358.0,788.2 358.0,786.7C358.0,785.2 354.0,784.3 352.7,782.7C351.4,781.1 350.2,779.3 350.0,777.3C349.8,775.3 350.2,772.2 351.3,770.7C352.4,769.2 354.9,767.8 356.7,768.0C358.5,768.2 360.0,771.8 362.0,772.0C364.0,772.2 367.4,771.5 368.7,769.3C370.0,767.1 368.9,761.4 370.0,758.7C371.1,756.0 374.0,755.8 375.3,753.3C376.6,750.8 376.7,746.3 378.0,744.0C379.3,741.7 381.1,740.3 383.3,739.3C385.5,738.3 389.1,738.1 391.3,738.0C393.5,737.9 395.1,739.2 396.7,738.7C398.3,738.2 399.9,734.7 400.7,734.7C401.5,734.7 401.5,736.7 401.3,738.7C401.1,740.7 400.1,743.8 399.3,746.7C398.5,749.6 398.5,753.8 396.7,756.0C394.9,758.2 390.9,758.5 388.7,760.0C386.5,761.5 384.6,762.8 383.3,765.3C382.0,767.8 381.6,771.8 380.7,774.7C379.8,777.6 378.0,780.0 378.0,782.7C378.0,785.4 379.4,788.3 380.7,790.7C382.0,793.1 384.0,795.5 386.0,797.3C388.0,799.1 390.9,799.7 392.7,801.3C394.5,802.9 395.8,804.7 396.7,806.7C397.6,808.7 398.2,810.6 398.0,813.3C397.8,816.0 409.5,821.1 395.3,822.7C381.1,824.3 326.2,824.0 312.7,822.7Z" fill="#ffff00"/>
<path d="M406.7,764.0C406.8,762.2 407.3,760.0 408.0,759.3C408.7,758.6 409.8,758.8 410.7,760.0C411.6,761.2 412.9,764.5 413.3,766.7C413.7,768.9 413.9,772.0 413.3,773.3C412.8,774.6 411.0,775.2 410.0,774.7C409.0,774.2 407.9,771.8 407.3,770.0C406.8,768.2 406.6,765.8 406.7,764.0Z" fill="#ffff00"/>
<path d="M424.0,756.0C424.3,755.0 426.3,753.2 427.3,752.7C428.3,752.2 429.8,752.6 430.0,753.3C430.2,754.0 429.5,755.8 428.7,756.7C427.9,757.6 426.1,759.0 425.3,758.9C424.5,758.8 423.7,757.0 424.0,756.0Z" fill="#ffff00"/>
<path d="M385.0,695.0C385.7,691.9 386.2,686.2 387.0,683.8C387.8,681.4 388.8,680.5 389.5,680.5C390.2,680.5 391.1,681.0 391.2,683.8C391.3,686.6 390.3,693.5 390.0,697.5C389.7,701.5 389.9,704.9 389.5,707.5C389.1,710.1 388.6,712.1 387.5,713.0C386.4,713.9 384.1,713.7 383.0,713.0C381.9,712.3 381.2,710.5 381.2,708.8C381.2,707.0 382.4,704.8 383.0,702.5C383.6,700.2 384.3,698.1 385.0,695.0Z" fill="#ffff00"/>
<path d="M468.0,743.0C468.1,742.2 469.5,740.6 470.5,740.0C471.5,739.4 473.4,738.9 473.8,739.2C474.2,739.5 473.6,741.1 473.0,742.0C472.4,742.9 470.8,744.3 470.0,744.5C469.2,744.7 467.9,743.8 468.0,743.0Z" fill="#ffff00"/>
<path d="M483.0,775.8C483.0,774.1 483.9,772.6 484.7,771.7C485.4,770.8 486.5,770.4 487.5,770.3C488.5,770.2 490.0,770.5 490.8,771.3C491.6,772.1 492.1,773.5 492.5,775.0C492.9,776.5 493.3,778.5 493.0,780.0C492.7,781.5 491.7,783.4 490.8,784.2C489.9,785.0 488.5,785.4 487.5,785.0C486.5,784.6 485.4,783.2 484.7,781.7C483.9,780.2 483.0,777.5 483.0,775.8Z" fill="#ffff00"/>
<path d="M480.0,825.0C478.7,823.2 479.5,816.8 480.3,814.2C481.1,811.7 483.1,811.4 485.0,809.7C486.9,808.0 490.0,806.4 491.7,804.2C493.4,802.0 493.8,798.7 495.0,796.7C496.2,794.7 497.9,792.6 499.2,792.0C500.4,791.4 501.9,792.1 502.5,793.3C503.1,794.5 503.0,797.1 502.5,799.2C502.0,801.3 500.8,803.6 499.7,805.8C498.6,808.0 497.1,810.4 495.8,812.5C494.5,814.6 492.9,816.2 491.7,818.3C490.4,820.4 490.2,823.9 488.3,825.0C486.4,826.1 481.3,826.8 480.0,825.0Z" fill="#ffff00"/>
<path d="M550.3,778.7C550.4,777.7 551.2,776.2 552.0,775.5C552.8,774.8 554.2,774.2 555.3,774.2C556.4,774.2 558.1,775.0 558.7,775.8C559.4,776.6 559.5,778.2 559.2,779.2C558.9,780.2 557.9,781.4 557.0,782.0C556.1,782.6 554.7,783.0 553.7,783.0C552.7,783.0 551.8,782.4 551.2,781.7C550.6,781.0 550.2,779.7 550.3,778.7Z" fill="#ffff00"/>
<path d="M705.5,595.0C705.9,594.2 707.8,592.7 708.8,593.0C709.8,593.3 711.3,595.8 711.8,597.0C712.3,598.2 712.5,599.9 712.0,600.5C711.5,601.1 710.0,600.9 709.0,600.5C708.0,600.1 706.8,598.9 706.2,598.0C705.6,597.1 705.1,595.8 705.5,595.0Z" fill="#ffff00"/>
<path d="M754.5,598.0C754.2,596.9 756.1,595.4 757.5,594.5C758.9,593.6 761.2,593.2 763.0,592.5C764.8,591.8 766.7,590.0 768.0,590.0C769.3,590.0 770.4,591.3 771.0,592.5C771.6,593.7 771.8,595.7 771.5,597.0C771.2,598.3 770.6,599.8 769.5,600.5C768.4,601.2 766.7,601.4 765.0,601.5C763.3,601.6 761.2,601.6 759.5,601.0C757.8,600.4 754.8,599.1 754.5,598.0Z" fill="#ffff00"/>
<path d="M830.8,721.7C831.0,720.9 831.9,719.8 832.5,719.6C833.1,719.4 834.0,719.6 834.6,720.4C835.2,721.2 835.8,722.9 836.2,724.2C836.6,725.5 837.3,727.5 837.1,728.3C836.9,729.1 835.8,729.3 835.0,729.2C834.2,729.1 833.2,728.3 832.5,727.5C831.8,726.7 831.3,725.6 831.0,724.6C830.7,723.6 830.5,722.5 830.8,721.7Z" fill="#ffff00"/>
<path d="M817.9,741.7C817.8,740.0 818.3,738.6 819.2,737.5C820.1,736.4 821.9,735.3 823.3,735.0C824.7,734.7 826.4,735.0 827.5,735.8C828.6,736.6 829.3,738.5 830.0,740.0C830.7,741.5 831.2,743.6 831.7,745.0C832.2,746.4 832.5,746.9 833.3,748.3C834.1,749.7 835.0,751.8 836.7,753.3C838.4,754.8 841.6,756.1 843.3,757.5C845.0,758.9 846.7,760.2 846.7,761.7C846.7,763.2 844.5,765.2 843.3,766.7C842.0,768.2 840.9,769.7 839.2,770.8C837.5,771.9 835.2,772.9 833.3,773.3C831.3,773.7 829.2,773.7 827.5,773.3C825.8,772.9 823.8,771.9 823.3,770.8C822.8,769.7 823.4,768.1 824.2,766.7C825.0,765.3 826.8,763.9 828.3,762.5C829.8,761.1 833.0,759.5 833.3,758.3C833.6,757.0 831.4,756.1 830.0,755.0C828.6,753.9 826.7,753.0 825.0,751.7C823.3,750.5 821.2,749.2 820.0,747.5C818.8,745.8 818.0,743.4 817.9,741.7Z" fill="#ffff00"/>
<path d="M840.8,733.3C840.8,731.9 842.0,731.3 843.3,730.8C844.5,730.2 846.6,729.6 848.3,730.0C850.0,730.4 851.2,732.0 853.3,733.3C855.4,734.5 859.0,736.2 860.8,737.5C862.5,738.8 863.4,739.1 863.8,740.8C864.2,742.5 863.9,745.3 863.3,747.5C862.7,749.7 861.5,752.4 860.4,754.2C859.3,756.0 858.4,757.3 856.7,758.3C855.0,759.3 852.0,760.4 850.0,760.4C848.0,760.4 846.7,759.5 845.0,758.3C843.3,757.1 841.4,754.7 840.0,753.3C838.6,751.9 836.4,750.7 836.7,750.0C837.0,749.3 840.4,750.0 841.7,749.2C843.0,748.4 844.3,746.7 844.6,745.0C844.9,743.3 843.9,741.2 843.3,739.2C842.7,737.2 840.8,734.7 840.8,733.3Z" fill="#ffff00"/>
<path d="M807.5,765.8C807.7,765.2 808.4,764.3 809.2,763.8C810.0,763.3 811.4,762.8 812.5,762.9C813.6,763.0 815.1,763.7 815.8,764.2C816.5,764.8 817.0,765.5 816.7,766.2C816.4,766.9 815.3,767.9 814.2,768.3C813.1,768.7 811.0,768.9 810.0,768.8C809.0,768.7 808.3,768.0 807.9,767.5C807.5,767.0 807.3,766.4 807.5,765.8Z" fill="#ffff00"/>
<path d="M853.3,775.0C853.6,773.3 854.4,771.1 855.8,770.0C857.2,768.9 860.0,768.0 861.7,768.3C863.4,768.6 865.2,770.0 865.8,771.7C866.3,773.4 865.8,776.5 865.0,778.3C864.2,780.1 862.2,781.7 860.8,782.5C859.4,783.3 857.8,783.7 856.7,783.3C855.6,782.9 854.8,781.4 854.2,780.0C853.6,778.6 853.0,776.7 853.3,775.0Z" fill="#ffff00"/>
<path d="M847.5,803.3C847.6,801.4 848.2,798.4 849.2,796.7C850.2,795.0 851.8,793.4 853.3,793.3C854.8,793.1 857.1,794.1 858.3,795.8C859.5,797.5 860.2,800.8 860.3,803.3C860.4,805.8 859.6,808.8 858.7,810.8C857.8,812.8 856.3,814.6 855.0,815.0C853.7,815.4 851.9,814.4 850.8,813.3C849.7,812.2 848.8,810.0 848.3,808.3C847.8,806.6 847.4,805.2 847.5,803.3Z" fill="#ffff00"/>
<path d="M627.5,209.2C628.3,207.9 631.2,206.0 633.3,205.0C635.4,204.0 638.0,203.2 640.0,203.3C642.0,203.4 644.2,204.7 645.0,205.8C645.8,206.9 645.8,208.8 645.0,210.0C644.2,211.2 642.0,212.6 640.0,213.3C638.0,214.0 635.2,214.3 633.3,214.2C631.3,214.1 629.3,213.3 628.3,212.5C627.3,211.7 626.7,210.4 627.5,209.2Z" fill="#ffcc00"/>
<path d="M734.2,246.7C734.5,245.9 736.8,244.7 738.3,244.7C739.8,244.7 742.7,245.9 743.3,246.7C743.9,247.5 742.8,249.2 741.7,249.7C740.6,250.2 738.0,250.2 736.7,249.7C735.5,249.2 733.9,247.5 734.2,246.7Z" fill="#ffcc00"/>
<path d="M806.7,311.7C806.6,310.0 808.8,308.7 810.0,308.3C811.2,307.9 812.8,308.2 814.2,309.2C815.6,310.2 815.7,313.1 818.3,314.2C820.9,315.3 827.4,315.1 830.0,315.8C832.6,316.5 833.9,317.3 834.2,318.3C834.5,319.3 833.5,320.7 831.7,321.7C829.9,322.7 825.8,324.1 823.3,324.2C820.8,324.3 818.8,323.5 816.7,322.5C814.6,321.5 812.5,320.1 810.8,318.3C809.1,316.5 806.8,313.4 806.7,311.7Z" fill="#ffcc00"/>
<path d="M331.3,822.7C329.5,821.1 331.6,816.0 332.7,813.3C333.8,810.6 335.6,808.7 338.0,806.7C340.4,804.7 344.2,803.1 347.3,801.3C350.4,799.5 354.2,797.8 356.7,796.0C359.1,794.2 362.0,792.5 362.0,790.7C362.0,788.9 358.2,786.9 356.7,785.3C355.1,783.7 353.5,783.1 352.7,781.3C351.9,779.5 351.6,776.4 352.0,774.7C352.4,773.0 354.1,771.3 355.3,771.3C356.5,771.3 357.7,773.7 359.3,774.7C360.9,775.7 362.7,777.8 364.7,777.3C366.7,776.8 369.5,774.2 371.3,772.0C373.1,769.8 374.4,766.7 375.3,764.0C376.2,761.3 376.0,758.9 376.7,756.0C377.4,753.1 378.2,749.2 379.3,746.7C380.4,744.2 381.3,742.4 383.3,741.3C385.3,740.2 389.1,739.8 391.3,740.0C393.5,740.2 395.6,741.2 396.7,742.7C397.8,744.2 398.4,747.3 398.0,749.3C397.6,751.3 395.8,753.4 394.0,754.7C392.2,756.0 389.3,756.0 387.3,757.3C385.3,758.6 383.6,760.2 382.0,762.7C380.4,765.2 379.1,769.1 378.0,772.0C376.9,774.9 376.0,777.3 375.3,780.0C374.6,782.7 374.9,785.3 374.0,788.0C373.1,790.7 371.8,793.3 370.0,796.0C368.2,798.7 366.0,801.5 363.3,804.0C360.6,806.5 356.9,808.7 354.0,810.7C351.1,812.7 347.8,814.0 346.0,816.0C344.2,818.0 345.8,821.6 343.3,822.7C340.9,823.8 333.1,824.3 331.3,822.7Z" fill="#ffcc00"/>
<path d="M383.3,822.7C381.6,820.7 383.3,813.7 384.0,810.7C384.7,807.7 385.9,805.6 387.3,804.7C388.8,803.8 391.4,804.3 392.7,805.3C394.0,806.3 395.1,807.8 395.3,810.7C395.5,813.6 396.0,820.7 394.0,822.7C392.0,824.7 385.0,824.7 383.3,822.7Z" fill="#ffcc00"/>
<path d="M382.0,708.8C382.2,707.5 384.0,705.1 385.0,705.0C386.0,704.9 387.8,706.8 388.2,708.0C388.6,709.2 388.2,711.2 387.5,712.0C386.8,712.8 384.7,713.0 383.8,712.5C382.9,712.0 381.8,710.0 382.0,708.8Z" fill="#ffcc00"/>
<path d="M485.3,775.8C485.4,774.6 486.0,773.5 486.7,773.0C487.4,772.5 488.9,772.4 489.7,773.0C490.5,773.6 491.1,775.4 491.3,776.7C491.5,778.0 491.3,779.8 490.8,780.8C490.3,781.8 489.1,782.6 488.3,782.5C487.5,782.4 486.5,781.1 486.0,780.0C485.5,778.9 485.2,777.0 485.3,775.8Z" fill="#ffcc00"/>
<path d="M488.3,813.3C488.6,812.2 491.9,809.1 493.3,806.7C494.7,804.4 495.6,801.3 496.7,799.2C497.8,797.1 499.2,794.6 500.0,794.2C500.8,793.8 501.7,795.3 501.7,796.7C501.7,798.1 500.8,800.6 500.0,802.5C499.2,804.4 498.1,806.5 496.7,808.3C495.3,810.1 493.1,812.5 491.7,813.3C490.3,814.1 488.0,814.4 488.3,813.3Z" fill="#ffcc00"/>
<path d="M761.2,596.2C761.3,594.9 763.7,592.8 765.0,592.0C766.3,591.2 767.9,590.7 768.8,591.2C769.7,591.7 770.5,593.7 770.5,595.0C770.5,596.3 769.8,598.2 768.8,599.0C767.8,599.8 765.8,600.5 764.5,600.0C763.2,599.5 761.1,597.5 761.2,596.2Z" fill="#ffcc00"/>
<path d="M818.8,741.7C818.7,740.5 819.2,739.2 820.0,738.3C820.8,737.4 822.2,736.4 823.3,736.2C824.4,736.0 825.8,736.3 826.7,737.1C827.6,737.9 828.2,739.5 828.8,740.8C829.3,742.1 829.6,743.8 830.0,745.0C830.4,746.2 831.3,747.2 831.2,747.9C831.1,748.6 830.2,749.1 829.2,749.2C828.2,749.3 826.4,748.9 825.0,748.3C823.6,747.7 821.8,746.9 820.8,745.8C819.8,744.7 818.9,743.0 818.8,741.7Z" fill="#ffcc00"/>
<path d="M826.7,770.0C826.7,768.8 828.0,766.7 829.2,765.0C830.5,763.3 832.8,761.0 834.2,760.0C835.6,759.0 836.2,758.9 837.5,759.2C838.8,759.6 840.7,761.1 841.7,762.1C842.7,763.1 843.7,763.8 843.3,765.0C842.9,766.2 840.9,768.1 839.2,769.2C837.5,770.3 835.0,771.2 833.3,771.7C831.6,772.2 830.3,772.4 829.2,772.1C828.1,771.8 826.7,771.2 826.7,770.0Z" fill="#ffcc00"/>
<path d="M843.3,735.0C843.4,733.8 845.5,733.2 846.7,732.9C848.0,732.6 849.3,732.7 850.8,733.3C852.3,733.9 854.1,735.6 855.8,736.7C857.5,737.8 859.7,739.0 860.8,740.0C861.9,741.0 862.1,741.2 862.3,742.5C862.4,743.8 862.2,745.7 861.7,747.5C861.2,749.3 860.3,751.7 859.2,753.3C858.1,754.9 856.5,756.3 855.0,757.1C853.5,757.9 851.5,758.5 850.0,758.3C848.5,758.1 846.9,756.8 845.8,755.8C844.7,754.8 843.4,753.6 843.3,752.5C843.2,751.4 844.4,750.5 845.0,749.2C845.6,748.0 846.6,746.5 846.7,745.0C846.8,743.5 846.4,741.7 845.8,740.0C845.2,738.3 843.1,736.2 843.3,735.0Z" fill="#ffcc00"/>
<path d="M855.8,775.0C856.0,773.5 857.0,772.1 858.0,771.3C859.0,770.5 860.7,770.0 861.7,770.3C862.7,770.6 864.0,772.0 864.2,773.3C864.4,774.6 863.7,776.8 863.0,778.0C862.3,779.2 861.0,780.5 860.0,780.8C859.0,781.1 857.7,781.0 857.0,780.0C856.3,779.0 855.6,776.5 855.8,775.0Z" fill="#ffcc00"/>
<path d="M849.2,803.3C849.3,801.7 849.8,799.3 850.5,798.0C851.2,796.7 852.6,795.4 853.7,795.3C854.8,795.2 856.4,796.2 857.2,797.5C858.0,798.8 858.7,801.3 858.7,803.3C858.7,805.3 857.9,808.2 857.2,809.7C856.5,811.2 855.7,812.3 854.7,812.5C853.7,812.7 852.1,811.6 851.3,810.8C850.5,810.0 850.1,808.8 849.7,807.5C849.4,806.2 849.1,804.9 849.2,803.3Z" fill="#ffcc00"/>
<path d="M636.7,207.5C637.0,206.9 639.5,206.2 639.7,206.7C639.9,207.2 638.5,210.2 638.0,210.3C637.5,210.4 636.4,208.1 636.7,207.5Z" fill="#ff6600"/>
<path d="M816.7,318.3C817.0,317.2 818.3,315.9 820.0,315.3C821.7,314.8 824.6,314.6 826.7,315.0C828.8,315.4 831.8,316.5 832.5,317.5C833.2,318.5 832.2,319.9 830.8,320.8C829.4,321.7 826.3,322.9 824.2,323.0C822.1,323.1 819.5,322.5 818.3,321.7C817.0,320.9 816.4,319.4 816.7,318.3Z" fill="#ff6600"/>
<path d="M332.7,822.7C331.7,820.9 333.4,814.9 334.7,812.0C336.0,809.1 338.1,807.3 340.7,805.3C343.2,803.3 346.9,802.0 350.0,800.0C353.1,798.0 357.1,795.8 359.3,793.3C361.5,790.8 362.2,787.5 363.3,785.3C364.4,783.1 364.7,781.1 366.0,780.0C367.3,778.9 370.2,777.8 371.3,778.7C372.4,779.6 372.9,782.9 372.7,785.3C372.5,787.7 371.8,790.4 370.0,793.3C368.2,796.2 364.7,800.0 362.0,802.7C359.3,805.4 356.7,807.3 354.0,809.3C351.3,811.3 348.2,812.5 346.0,814.7C343.8,816.9 342.9,821.4 340.7,822.7C338.5,824.0 333.7,824.5 332.7,822.7Z" fill="#ff6600"/>
<path d="M379.3,749.3C379.3,747.6 380.4,745.2 382.0,744.0C383.6,742.8 386.5,742.0 388.7,742.0C390.9,742.0 394.0,742.8 395.3,744.0C396.6,745.2 397.0,747.8 396.7,749.3C396.4,750.8 394.9,752.3 393.3,753.3C391.7,754.3 389.2,755.2 387.3,755.3C385.4,755.4 383.3,755.0 382.0,754.0C380.7,753.0 379.3,751.0 379.3,749.3Z" fill="#ff6600"/>
<path d="M353.7,775.3C353.8,774.8 354.7,773.9 355.1,774.0C355.5,774.1 356.1,775.5 356.0,776.0C355.9,776.5 355.1,777.2 354.7,777.1C354.3,777.0 353.6,775.8 353.7,775.3Z" fill="#ff6600"/>
<path d="M388.0,810.0C388.1,809.5 389.0,808.6 389.3,808.7C389.6,808.9 390.1,810.4 390.0,810.9C389.9,811.4 389.0,811.9 388.7,811.7C388.4,811.6 387.9,810.5 388.0,810.0Z" fill="#ff6600"/>
<path d="M486.7,775.8C486.7,774.8 487.4,773.7 488.0,773.7C488.6,773.7 489.7,774.9 490.0,775.8C490.3,776.7 490.3,778.5 490.0,779.2C489.7,779.9 488.6,780.6 488.0,780.0C487.4,779.4 486.7,776.8 486.7,775.8Z" fill="#ff6600"/>
<path d="M496.7,801.7C496.8,800.5 498.4,797.7 499.2,796.7C499.9,795.7 500.9,795.2 501.2,795.8C501.5,796.3 501.3,798.6 500.8,800.0C500.3,801.4 499.0,803.9 498.3,804.2C497.6,804.5 496.6,803.0 496.7,801.7Z" fill="#ff6600"/>
<path d="M765.0,595.5C765.1,594.8 766.8,593.7 767.5,593.8C768.2,593.9 769.1,595.5 769.0,596.2C768.9,596.9 767.7,598.3 767.0,598.2C766.3,598.1 764.9,596.2 765.0,595.5Z" fill="#ff6600"/>
<path d="M820.4,741.7C820.3,740.6 821.1,739.5 821.7,738.8C822.3,738.1 823.4,737.5 824.2,737.5C825.0,737.5 826.1,738.0 826.7,738.8C827.3,739.6 827.6,741.3 827.9,742.5C828.2,743.7 828.6,745.0 828.3,745.8C827.9,746.6 826.8,747.2 825.8,747.1C824.8,747.0 823.4,746.3 822.5,745.4C821.6,744.5 820.5,742.8 820.4,741.7Z" fill="#ff6600"/>
<path d="M848.3,750.0C848.4,748.8 849.0,748.3 850.0,747.5C851.0,746.7 853.0,745.3 854.2,745.0C855.5,744.7 856.9,745.1 857.5,745.8C858.1,746.5 858.2,748.0 857.9,749.2C857.6,750.5 856.7,752.2 855.8,753.3C854.9,754.4 853.6,755.5 852.5,755.8C851.4,756.1 849.9,756.0 849.2,755.0C848.5,754.0 848.2,751.2 848.3,750.0Z" fill="#ff6600"/>
<path d="M857.5,775.0C857.5,774.1 858.5,773.2 859.2,773.0C859.9,772.8 861.3,773.1 861.7,773.7C862.1,774.3 862.1,775.9 861.7,776.7C861.3,777.5 859.9,778.6 859.2,778.3C858.5,778.0 857.5,775.9 857.5,775.0Z" fill="#ff6600"/>
<path d="M850.8,803.3C850.8,802.0 851.4,800.2 852.0,799.2C852.6,798.2 853.5,797.4 854.2,797.5C854.9,797.6 855.8,798.6 856.3,799.7C856.8,800.8 857.3,802.8 857.2,804.2C857.1,805.6 856.4,807.5 855.8,808.3C855.2,809.1 854.4,809.4 853.7,809.2C853.0,809.0 852.2,808.0 851.7,807.0C851.2,806.0 850.8,804.6 850.8,803.3Z" fill="#ff6600"/>
<path d="M821.3,318.7C821.5,317.9 822.9,317.0 824.2,316.7C825.5,316.4 828.1,316.6 829.2,317.0C830.3,317.4 831.1,318.4 830.8,319.2C830.5,320.0 828.8,321.3 827.5,321.7C826.2,322.1 824.0,321.8 823.0,321.3C822.0,320.8 821.1,319.5 821.3,318.7Z" fill="#ff0000"/>
<path d="M336.0,813.3C336.4,811.8 338.4,808.6 340.7,806.7C343.0,804.8 346.9,804.0 350.0,802.0C353.1,800.0 357.0,797.2 359.3,794.7C361.6,792.2 362.8,788.9 364.0,786.7C365.2,784.5 365.7,782.3 366.7,781.3C367.7,780.3 369.2,780.0 370.0,780.7C370.8,781.4 371.5,783.2 371.3,785.3C371.1,787.4 370.5,790.4 368.7,793.3C366.9,796.2 363.4,800.1 360.7,802.7C358.0,805.3 355.4,806.9 352.7,808.7C350.0,810.5 347.1,812.1 344.7,813.3C342.2,814.5 339.4,816.0 338.0,816.0C336.6,816.0 335.6,814.8 336.0,813.3Z" fill="#ff0000"/>
<path d="M381.3,749.3C381.4,748.3 382.0,746.8 383.3,746.0C384.6,745.2 387.5,744.6 389.3,744.7C391.1,744.8 393.1,745.8 394.0,746.7C394.9,747.6 395.1,749.0 394.7,750.0C394.2,751.0 392.8,752.2 391.3,752.7C389.9,753.2 387.4,753.4 386.0,753.3C384.6,753.2 383.5,752.7 382.7,752.0C381.9,751.3 381.2,750.3 381.3,749.3Z" fill="#ff0000"/>
<path d="M822.1,741.7C822.0,740.9 822.4,740.0 822.9,739.6C823.4,739.2 824.4,738.9 825.0,739.2C825.6,739.5 826.4,740.3 826.7,741.2C827.1,742.1 827.3,743.9 827.1,744.6C826.9,745.4 826.0,745.8 825.4,745.7C824.8,745.6 823.8,744.9 823.2,744.2C822.7,743.5 822.2,742.5 822.1,741.7Z" fill="#ff0000"/>
<path d="M853.8,749.2C853.9,749.0 854.4,748.7 854.6,748.8C854.8,748.9 854.9,749.6 854.8,749.8C854.7,750.0 854.2,750.1 854.0,750.0C853.8,749.9 853.7,749.4 853.8,749.2Z" fill="#ff0000"/>
<path d="M852.0,803.3C852.1,802.4 852.5,800.9 853.0,800.3C853.5,799.7 854.2,799.3 854.7,799.7C855.2,800.1 855.7,801.3 855.8,802.5C855.9,803.7 855.6,805.9 855.3,806.7C854.9,807.5 854.2,807.6 853.7,807.5C853.2,807.4 852.8,806.5 852.5,805.8C852.2,805.1 851.9,804.2 852.0,803.3Z" fill="#ff0000"/>
<path d="M521.7,215.0C522.7,214.0 524.1,212.8 528.3,211.7C532.5,210.6 540.3,209.0 546.7,208.3C553.1,207.6 562.3,207.3 566.7,207.5C571.1,207.7 573.3,208.2 573.3,209.2C573.3,210.2 570.6,212.2 566.7,213.3C562.8,214.4 556.1,215.0 550.0,215.8C543.9,216.6 534.6,218.0 530.0,218.3C525.4,218.6 523.9,218.1 522.5,217.5C521.1,216.9 520.7,216.0 521.7,215.0Z" fill="#ffffff"/>
<path d="M355.3,728.7C357.0,727.7 361.1,727.1 364.7,726.0C368.3,724.9 372.7,723.0 376.7,722.0C380.7,721.0 386.6,719.5 388.7,720.0C390.8,720.5 390.6,723.2 389.3,724.7C388.0,726.2 383.9,727.6 380.7,728.7C377.5,729.8 372.1,729.6 370.0,731.3C367.9,733.0 369.2,737.1 368.0,738.7C366.8,740.3 364.6,741.2 362.7,740.7C360.8,740.2 358.0,737.5 356.7,736.0C355.4,734.5 354.9,733.2 354.7,732.0C354.5,730.8 353.6,729.7 355.3,728.7Z" fill="#ffffff"/>
<path d="M459.2,820.0C459.3,818.2 460.1,815.7 460.8,814.2C461.6,812.7 462.8,810.9 463.7,810.8C464.6,810.6 465.7,811.8 466.3,813.3C466.9,814.8 467.4,818.0 467.5,820.0C467.6,822.0 467.9,824.2 466.7,825.0C465.4,825.8 461.2,825.8 460.0,825.0C458.8,824.2 459.1,821.8 459.2,820.0Z" fill="#ffffff"/>
<path d="M857.2,353.7C858.4,351.9 861.7,352.6 863.5,352.9C865.3,353.2 867.2,354.9 868.2,355.7C869.2,356.5 870.2,357.1 869.8,357.8C869.4,358.6 867.5,359.2 865.9,360.2C864.3,361.2 862.0,363.0 860.4,363.6C858.8,364.2 856.9,365.2 856.4,363.6C855.9,362.0 856.0,355.5 857.2,353.7Z" fill="#ffffff"/>
<path d="M695.0,189.7C695.3,189.2 703.3,188.7 706.7,188.2C710.1,187.7 712.5,187.5 715.4,186.8C718.3,186.1 721.6,184.1 724.2,183.8C726.8,183.5 729.7,183.5 730.8,185.0C731.9,186.5 732.9,191.3 730.8,192.7C728.7,194.1 721.5,193.5 718.3,193.5C715.1,193.5 713.9,192.9 711.7,192.5C709.5,192.1 707.8,191.7 705.0,191.2C702.2,190.7 694.7,190.2 695.0,189.7Z" fill="#ffffff"/>
<path d="M638.3,190.0C638.3,189.1 640.0,188.1 641.7,187.5C643.4,186.9 646.2,186.5 648.3,186.7C650.4,186.9 653.2,187.9 654.2,188.7C655.2,189.5 655.2,190.9 654.2,191.7C653.2,192.5 650.4,193.5 648.3,193.7C646.2,193.9 643.4,193.6 641.7,193.0C640.0,192.4 638.3,190.9 638.3,190.0Z" fill="#66ffff"/>
<path d="M818.3,753.3C819.3,752.2 821.9,753.9 823.3,755.0C824.7,756.1 827.0,758.3 826.7,760.0C826.4,761.7 823.2,764.7 821.7,765.0C820.2,765.3 818.1,763.7 817.5,761.7C816.9,759.8 817.3,754.4 818.3,753.3Z" fill="#3399ff"/>
<path d="M387.3,766.7C387.9,764.0 389.1,764.7 391.3,764.0C393.5,763.3 399.2,761.4 400.7,762.7C402.1,764.0 400.7,769.1 400.0,772.0C399.3,774.9 397.5,777.3 396.7,780.0C395.9,782.7 395.3,785.8 395.3,788.0C395.3,790.2 397.0,792.6 396.7,793.3C396.4,794.0 394.6,792.7 393.3,792.0C392.0,791.3 389.6,791.3 388.7,789.3C387.8,787.3 388.2,783.8 388.0,780.0C387.8,776.2 386.8,769.4 387.3,766.7Z" fill="#0000ff"/>
<path d="M832.9,736.7C833.0,735.7 833.2,735.2 833.8,735.0C834.3,734.8 835.7,734.7 836.2,735.4C836.8,736.1 837.0,738.0 837.1,739.2C837.2,740.4 837.1,741.9 836.7,742.5C836.4,743.1 835.6,743.2 835.0,742.9C834.4,742.6 833.6,741.8 833.3,740.8C832.9,739.8 832.8,737.7 832.9,736.7Z" fill="#0000ff"/>
<path d="M848.3,766.7C848.9,765.6 850.7,764.5 851.7,764.2C852.7,763.9 853.9,764.0 854.2,765.0C854.5,766.0 853.9,768.8 853.3,770.0C852.7,771.2 851.6,772.4 850.8,772.5C850.0,772.6 848.7,771.8 848.3,770.8C847.9,769.8 847.7,767.8 848.3,766.7Z" fill="#0000ff"/>
<path d="M359.3,822.7C356.9,821.1 360.7,816.2 362.0,813.3C363.3,810.4 365.5,807.5 367.3,805.3C369.1,803.1 370.9,800.9 372.7,800.0C374.5,799.1 376.4,799.1 378.0,800.0C379.6,800.9 381.6,803.1 382.0,805.3C382.4,807.5 381.6,810.4 380.7,813.3C379.8,816.2 380.3,821.1 376.7,822.7C373.1,824.3 361.8,824.3 359.3,822.7Z" fill="#00ff00"/>
<path d="M389.3,768.0C391.0,764.5 397.7,763.3 399.3,764.0C400.9,764.7 399.4,769.3 398.7,772.0C398.0,774.7 396.3,777.5 395.3,780.0C394.3,782.5 393.7,785.8 392.7,786.7C391.7,787.6 389.9,788.4 389.3,785.3C388.7,782.2 387.6,771.5 389.3,768.0Z" fill="#3399ff"/>
<path d="M362.7,822.7C361.1,821.1 363.7,816.0 364.7,813.3C365.7,810.6 367.3,808.5 368.7,806.7C370.1,804.9 371.9,803.3 373.3,802.7C374.7,802.1 376.2,802.6 377.3,803.3C378.4,804.0 379.4,805.0 379.6,806.7C379.8,808.4 379.2,810.6 378.3,813.3C377.4,816.0 376.6,821.1 374.0,822.7C371.4,824.3 364.2,824.3 362.7,822.7Z" fill="#009900"/>
<path d="M390.3,769.3C391.1,768.0 394.4,766.2 395.3,766.7C396.2,767.2 396.4,770.2 396.0,772.0C395.6,773.8 393.6,776.8 392.7,777.3C391.8,777.8 391.1,776.0 390.7,774.7C390.3,773.4 389.5,770.6 390.3,769.3Z" fill="#66ffff"/>
<path d="M368.0,809.3C368.3,808.0 369.9,805.8 371.3,805.3C372.8,804.8 375.7,805.2 376.7,806.0C377.7,806.8 377.8,808.7 377.3,810.0C376.9,811.3 375.3,813.5 374.0,814.0C372.7,814.5 370.3,814.1 369.3,813.3C368.3,812.5 367.7,810.6 368.0,809.3Z" fill="#0000ff"/>
<path d="M370.0,809.3C370.1,808.3 371.7,807.0 372.7,806.7C373.7,806.4 375.6,806.9 376.0,807.7C376.4,808.5 376.0,810.5 375.3,811.3C374.6,812.1 372.9,813.0 372.0,812.7C371.1,812.4 369.9,810.3 370.0,809.3Z" fill="#3399ff"/>
</g>
<g stroke="#a0a0a0" fill="none">
<path d="M301.1,85.9V820.7" stroke-width="1.6" stroke-dasharray="1.6,7.92"/>
<path d="M358.95,85.9V820.7" stroke-width="1.6" stroke-dasharray="1.6,7.92"/>
<path d="M416.8,85.9V820.7" stroke-width="1.6" stroke-dasharray="1.6,7.92"/>
<path d="M474.65,85.9V820.7" stroke-width="1.6" stroke-dasharray="1.6,7.92"/>
<path d="M532.5,85.9V820.7" stroke-width="1.6" stroke-dasharray="1.6,7.92"/>
<path d="M590.35,85.9V820.7" stroke-width="1.6" stroke-dasharray="1.6,7.92"/>
<path d="M648.2,85.9V820.7" stroke-width="1.6" stroke-dasharray="1.6,7.92"/>
<path d="M706.05,85.9V820.7" stroke-width="1.6" stroke-dasharray="1.6,7.92"/>
<path d="M763.9,85.9V820.7" stroke-width="1.6" stroke-dasharray="1.6,7.92"/>
<path d="M821.75,85.9V820.7" stroke-width="1.6" stroke-dasharray="1.6,7.92"/>
<path d="M879.6,85.9V820.7" stroke-width="1.6" stroke-dasharray="1.6,7.92"/>
<path d="M271.8,124.2H937.6" stroke-width="1.4" stroke-dasharray="2,7.82"/>
<path d="M271.8,191.55H937.6" stroke-width="1.4" stroke-dasharray="2,7.82"/>
<path d="M271.8,258.9H937.6" stroke-width="1.4" stroke-dasharray="2,7.82"/>
<path d="M271.8,326.25H937.6" stroke-width="1.4" stroke-dasharray="2,7.82"/>
<path d="M271.8,393.6H937.6" stroke-width="1.4" stroke-dasharray="2,7.82"/>
<path d="M271.8,460.95H937.6" stroke-width="1.4" stroke-dasharray="2,7.82"/>
<path d="M271.8,528.3H937.6" stroke-width="1.4" stroke-dasharray="2,7.82"/>
<path d="M271.8,595.65H937.6" stroke-width="1.4" stroke-dasharray="2,7.82"/>
<path d="M271.8,663.0H937.6" stroke-width="1.4" stroke-dasharray="2,7.82"/>
<path d="M271.8,730.35H937.6" stroke-width="1.4" stroke-dasharray="2,7.82"/>
<path d="M271.8,797.7H937.6" stroke-width="1.4" stroke-dasharray="2,7.82"/>
</g>
<g clip-path="url(#clip)" stroke="#000" stroke-width=".95" fill="none" stroke-linejoin="round">
<path d="M278.0,79.7L287.3,96.0L295.3,102.0L300.0,110.7L303.7,122.0L322.4,129.6L325.6,139.3L317.6,135.7L310.7,141.6L318.0,148.0L322.7,155.7L317.6,163.6L307.3,161.3L298.7,165.6L291.6,159.6L278.0,171.3L294.9,179.1L308.7,191.3L318.0,189.6L326.0,195.3L321.2,190.5L325.0,195.0L328.0,205.0L328.8,220.0L325.0,233.0L332.5,229.5L329.5,239.5L322.5,242.5L314.5,248.8L303.8,252.0L300.0,261.2L305.0,271.2L298.8,280.0L291.2,288.0L288.0,293.8L288.0,293.0L292.5,302.5L291.2,315.0L293.8,326.2L298.8,335.0L305.0,352.5L317.5,372.5L331.2,393.8L348.0,401.2L360.0,401.2L375.0,403.8L385.0,406.2L393.8,412.5L403.0,421.2L410.0,432.5L420.0,447.5L428.8,461.2L437.5,465.0L444.5,444.5L453.0,440.0L455.0,429.5L465.0,431.2L473.8,416.2L482.0,409.2L472.0,411.2L468.8,400.0L468.0,385.0L456.2,385.0L447.5,378.8L440.0,376.2L431.2,372.5L426.2,365.0L420.0,358.8L410.0,350.0L407.0,315.0L399.5,309.5L406.2,313.8L416.2,331.2L426.2,335.0L435.5,333.0L441.2,341.2L451.2,343.8L457.5,352.5L465.0,355.0L472.5,365.0L481.2,371.2L490.0,375.0L497.5,375.0L488.8,379.2L498.8,377.0L506.2,383.8L508.8,395.0L515.0,402.5L525.0,416.2L525.0,431.2L519.5,438.8L518.0,451.2L525.0,457.5L531.2,466.2L537.5,471.2L543.8,478.8L553.8,477.0L563.8,479.2L573.8,483.8L591.2,487.0L610.0,495.0L620.5,510.8L630.0,513.0L645.0,520.0L657.5,525.0L668.8,535.0L677.0,544.5L686.2,550.0L693.8,557.5L700.0,565.0L705.0,569.5L711.2,580.0L718.8,587.5L723.8,596.2L725.5,603.8L722.5,612.5L723.8,625.0L728.8,632.5L717.0,646.2L727.5,645.0L718.8,649.5L716.2,660.0L717.6,661.0L702.8,673.6L699.4,682.7L710.8,697.5L724.4,712.3L729.0,718.0L737.0,722.6L749.5,720.3L771.2,730.5L783.7,736.7L788.2,729.4L788.9,715.7L786.0,705.5L780.3,697.5L763.2,688.4L757.5,677.0L751.8,661.0L773.0,656.5L783.7,672.4L804.2,681.1L811.7,682.5L818.0,688.3L806.7,689.2L810.8,695.8L821.3,698.7L813.3,702.5L817.5,710.8L821.3,721.7L815.8,731.7L815.0,742.5L821.7,750.0L833.3,758.3L843.3,765.0L848.3,771.7L855.0,783.3L859.2,791.7L861.7,798.3L862.5,808.3L860.8,814.2L867.5,814.2L869.2,802.5L864.2,793.3L865.0,783.3L867.5,766.7L873.3,756.7L883.3,751.7L900.0,748.3L910.0,750.0L920.0,753.3L928.3,755.8L936.7,757.5L940.0,758.0"/>
<path d="M322.4,129.6L325.3,120.0L332.0,110.0L334.7,101.6L344.3,99.7L358.7,111.3L368.0,115.7L386.7,119.3L400.0,124.7L420.0,134.7L473.8,159.2L483.8,153.8L496.2,143.8L500.0,142.5L511.2,133.8L519.5,129.5L526.2,135.5L537.5,135.5L550.0,143.8L561.2,153.8L569.5,157.5L579.5,147.5L586.2,164.5L605.0,172.5L607.5,181.2L610.0,194.5L617.5,195.0L632.5,200.0L640.0,197.0L650.0,202.5L662.0,211.2L670.0,210.0L691.2,198.8L702.5,196.2L710.0,192.5L715.0,186.2L713.8,172.5L712.0,162.5"/>
<path d="M326.0,79.7L333.1,86.0L349.6,93.3L355.3,101.6L372.0,109.6L393.3,114.0L401.3,118.0L408.0,123.3L420.0,126.0L422.5,125.5L440.0,127.5L457.5,135.5L470.0,135.5L478.8,139.5L487.5,138.0L493.8,133.8L497.5,125.0L500.0,112.5L498.8,97.5L495.0,86.2L491.2,79.5"/>
<path d="M450.0,101.2L456.2,109.5L447.5,113.0L450.0,101.2"/>
<path d="M673.8,79.5L675.0,92.5L678.8,110.0L686.2,130.0L697.5,150.0L702.5,163.0L712.5,162.0L717.5,165.0L723.8,177.5L728.8,192.0L723.8,183.8L725.0,192.5L720.0,207.0L727.5,203.8L733.8,210.0L736.2,222.5L742.5,242.5L750.0,260.0L758.8,277.5L768.8,293.8L778.3,310.0L785.0,319.2L791.7,324.2L801.7,340.0L813.3,358.3L825.0,371.3L835.0,369.7L838.7,379.2L853.3,400.0L868.3,425.8L877.5,430.8L881.7,440.0L886.7,449.2L895.0,453.3L915.0,457.5L920.8,465.0L936.7,478.3L940.0,480.8"/>
<path d="M420.5,346.2L423.8,343.2L433.8,346.2L437.5,352.5L430.0,354.5L422.5,350.5L420.5,346.2"/>
<path d="M925.0,469.2L920.8,471.7L916.7,481.7L908.3,485.0L895.0,472.5L890.0,465.0L881.7,461.3L871.7,463.3L865.8,470.8L872.5,482.5L868.3,485.0L858.3,489.2L853.3,497.5L853.3,583.3L865.0,584.7L875.0,589.2L880.0,596.7L890.0,600.8L895.0,608.3L891.7,619.2L889.7,620.0L879.4,626.8L868.0,632.5L864.6,642.8L857.8,648.5L862.3,663.3L870.3,674.7L873.7,690.6L874.8,712.3L868.0,721.4L860.0,726.7L849.8,728.2L847.5,735.1L840.7,743.1L831.5,746.5L831.7,746.7L840.0,755.0L846.7,762.5L855.0,765.0L850.0,773.3L855.0,783.3L861.7,798.3"/>
</g>
<rect x="262.8" y="79.5" width="674.8" height="741.2" fill="none" stroke="#000" stroke-width="1.4"/>
<g stroke="#000" stroke-width="1.3">
<path d="M301.1,820.7v5.3"/>
<path d="M358.95,820.7v5.3"/>
<path d="M416.8,820.7v5.3"/>
<path d="M474.65,820.7v5.3"/>
<path d="M532.5,820.7v5.3"/>
<path d="M590.35,820.7v5.3"/>
<path d="M648.2,820.7v5.3"/>
<path d="M706.05,820.7v5.3"/>
<path d="M763.9,820.7v5.3"/>
<path d="M821.75,820.7v5.3"/>
<path d="M879.6,820.7v5.3"/>
<path d="M262.8,124.2h-5.6"/>
<path d="M262.8,191.55h-5.6"/>
<path d="M262.8,258.9h-5.6"/>
<path d="M262.8,326.25h-5.6"/>
<path d="M262.8,393.6h-5.6"/>
<path d="M262.8,460.95h-5.6"/>
<path d="M262.8,528.3h-5.6"/>
<path d="M262.8,595.65h-5.6"/>
<path d="M262.8,663.0h-5.6"/>
<path d="M262.8,730.35h-5.6"/>
<path d="M262.8,797.7h-5.6"/>
</g>
<text class="ax" transform="translate(301.1,840.5) scale(.955,1)" text-anchor="middle">85.8W</text>
<text class="ax" transform="translate(358.95,840.5) scale(.955,1)" text-anchor="middle">85.5W</text>
<text class="ax" transform="translate(416.8,840.5) scale(.955,1)" text-anchor="middle">85.2W</text>
<text class="ax" transform="translate(474.65,840.5) scale(.955,1)" text-anchor="middle">84.9W</text>
<text class="ax" transform="translate(532.5,840.5) scale(.955,1)" text-anchor="middle">84.6W</text>
<text class="ax" transform="translate(590.35,840.5) scale(.955,1)" text-anchor="middle">84.3W</text>
<text class="ax" transform="translate(648.2,840.5) scale(.955,1)" text-anchor="middle">84W</text>
<text class="ax" transform="translate(706.05,840.5) scale(.955,1)" text-anchor="middle">83.7W</text>
<text class="ax" transform="translate(763.9,840.5) scale(.955,1)" text-anchor="middle">83.4W</text>
<text class="ax" transform="translate(821.75,840.5) scale(.955,1)" text-anchor="middle">83.1W</text>
<text class="ax" transform="translate(879.6,840.5) scale(.955,1)" text-anchor="middle">82.8W</text>
<text class="ax" x="253" y="129.7" text-anchor="end">11.1N</text>
<text class="ax" x="253" y="197.1" text-anchor="end">10.8N</text>
<text class="ax" x="253" y="264.4" text-anchor="end">10.5N</text>
<text class="ax" x="253" y="331.8" text-anchor="end">10.2N</text>
<text class="ax" x="253" y="399.1" text-anchor="end">9.9N</text>
<text class="ax" x="253" y="466.4" text-anchor="end">9.6N</text>
<text class="ax" x="253" y="533.8" text-anchor="end">9.3N</text>
<text class="ax" x="253" y="601.1" text-anchor="end">9N</text>
<text class="ax" x="253" y="668.5" text-anchor="end">8.7N</text>
<text class="ax" x="253" y="735.9" text-anchor="end">8.4N</text>
<text class="ax" x="253" y="803.2" text-anchor="end">8.1N</text>
<text class="ft" y="876.4" xml:space="preserve"><tspan x="327" textLength="104.3" lengthAdjust="spacing">Instituto</tspan> <tspan x="445" textLength="175.2" lengthAdjust="spacing">Meteorologico</tspan> <tspan x="635" textLength="108.2" lengthAdjust="spacing">Nacional</tspan> <tspan x="758" textLength="70.2" lengthAdjust="spacing">Costa</tspan> <tspan x="845" textLength="53.2" lengthAdjust="spacing">Rica</tspan></text>
<g stroke="#000" stroke-width="1.3" stroke-linejoin="miter">
<path d="M1058,132L1069,89L1080,132Z" fill="#aaaaaa"/>
<rect x="1058" y="132.0" width="22" height="42.4" fill="#f5f5f5"/>
<rect x="1058" y="174.4" width="22" height="42.4" fill="#9933cc"/>
<rect x="1058" y="216.7" width="22" height="42.4" fill="#ff00ff"/>
<rect x="1058" y="259.1" width="22" height="42.4" fill="#990000"/>
<rect x="1058" y="301.5" width="22" height="42.4" fill="#cc3300"/>
<rect x="1058" y="343.9" width="22" height="42.4" fill="#ff0000"/>
<rect x="1058" y="386.2" width="22" height="42.4" fill="#ff6600"/>
<rect x="1058" y="428.6" width="22" height="42.4" fill="#ffcc00"/>
<rect x="1058" y="471.0" width="22" height="42.4" fill="#ffff00"/>
<rect x="1058" y="513.3" width="22" height="42.4" fill="#009900"/>
<rect x="1058" y="555.7" width="22" height="42.4" fill="#00cc00"/>
<rect x="1058" y="598.1" width="22" height="42.4" fill="#00ff00"/>
<rect x="1058" y="640.4" width="22" height="42.4" fill="#0000ff"/>
<rect x="1058" y="682.8" width="22" height="42.4" fill="#3399ff"/>
<rect x="1058" y="725.2" width="22" height="42.4" fill="#66ffff"/>
<path d="M1058,767.5L1069,809.5L1080,767.5Z" fill="#fff"/>
</g>
<text class="cb" x="1085.5" y="139.8">200</text>
<text class="cb" x="1085.5" y="182.2">150</text>
<text class="cb" x="1085.5" y="224.5">120</text>
<text class="cb" x="1085.5" y="266.9">100</text>
<text class="cb" x="1085.5" y="309.3">90</text>
<text class="cb" x="1085.5" y="351.7">75</text>
<text class="cb" x="1085.5" y="394.0">60</text>
<text class="cb" x="1085.5" y="436.4">50</text>
<text class="cb" x="1085.5" y="478.8">40</text>
<text class="cb" x="1085.5" y="521.1">30</text>
<text class="cb" x="1085.5" y="563.5">25</text>
<text class="cb" x="1085.5" y="605.9">20</text>
<text class="cb" x="1085.5" y="648.2">15</text>
<text class="cb" x="1085.5" y="690.6">12.5</text>
<text class="cb" x="1085.5" y="733.0">7</text>
<text class="cb" x="1085.5" y="775.3">3.5</text>
</svg></body></html>
